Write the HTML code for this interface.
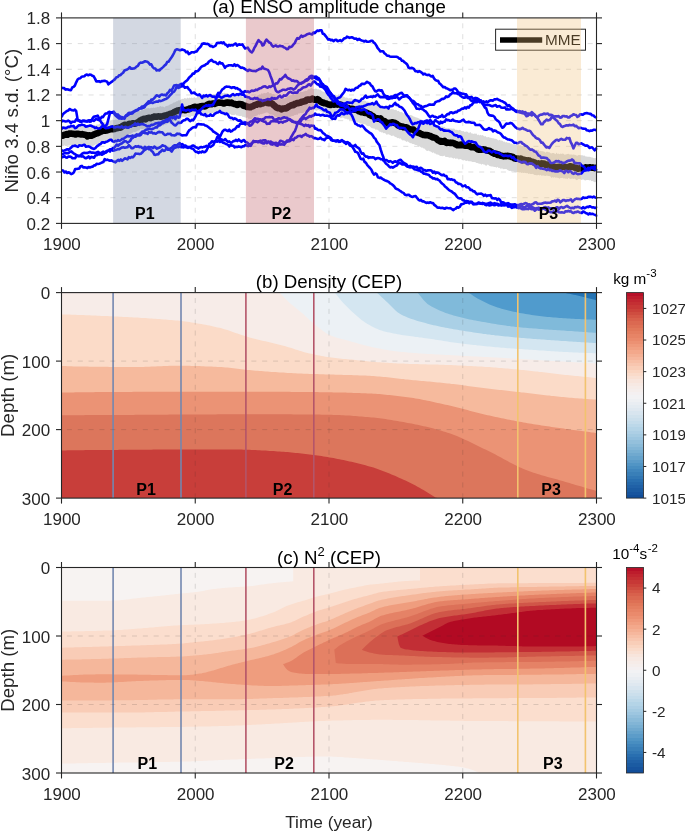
<!DOCTYPE html><html><head><meta charset="utf-8"><style>html,body{margin:0;padding:0;background:#fff;overflow:hidden}svg{display:block}</style></head><body><svg width="685" height="832" viewBox="0 0 685 832" style="will-change:transform">
<rect width="685" height="832" fill="#fff"/>
<!--PANEL_A-->
<g stroke="rgba(38,38,38,0.15)" stroke-width="1" stroke-dasharray="5 5.85" stroke-dashoffset="5.45" fill="none"><line x1="195.25" y1="17.90" x2="195.25" y2="223.40" /><line x1="329.00" y1="17.90" x2="329.00" y2="223.40" /><line x1="462.75" y1="17.90" x2="462.75" y2="223.40" /><line x1="61.50" y1="197.71" x2="596.50" y2="197.71" /><line x1="61.50" y1="172.03" x2="596.50" y2="172.03" /><line x1="61.50" y1="146.34" x2="596.50" y2="146.34" /><line x1="61.50" y1="120.65" x2="596.50" y2="120.65" /><line x1="61.50" y1="94.96" x2="596.50" y2="94.96" /><line x1="61.50" y1="69.28" x2="596.50" y2="69.28" /><line x1="61.50" y1="43.59" x2="596.50" y2="43.59" /></g>
<defs><clipPath id="clipa"><rect x="61.5" y="17.9" width="536.0" height="205.5"/></clipPath></defs><g clip-path="url(#clipa)"><path d="M61.5,127.7 L62.5,127.7 L63.5,127.4 L64.5,127.0 L65.5,127.1 L66.5,126.8 L67.5,127.1 L68.5,127.5 L69.5,126.7 L70.5,126.5 L71.5,126.9 L72.5,126.7 L73.5,126.6 L74.5,126.2 L75.5,126.6 L76.5,126.9 L77.5,126.1 L78.5,126.5 L79.5,125.9 L80.5,126.2 L81.5,126.0 L82.5,126.7 L83.5,126.3 L84.5,126.9 L85.5,126.9 L86.5,126.8 L87.5,125.9 L88.5,126.6 L89.5,126.6 L90.5,126.4 L91.5,125.5 L92.5,125.7 L93.5,125.3 L94.5,125.1 L95.5,125.6 L96.5,124.6 L97.5,124.5 L98.5,124.6 L99.5,123.7 L100.5,123.5 L101.5,123.3 L102.5,122.9 L103.5,122.1 L104.5,122.3 L105.5,122.5 L106.5,121.0 L107.5,121.6 L108.5,121.0 L109.5,120.4 L110.5,121.1 L111.5,120.5 L112.5,119.6 L113.5,120.0 L114.5,120.0 L115.5,119.6 L116.5,119.8 L117.5,119.4 L118.5,119.5 L119.5,119.5 L120.5,118.3 L121.5,118.3 L122.5,117.7 L123.5,117.7 L124.5,116.8 L125.5,116.8 L126.5,116.5 L127.5,116.5 L128.5,116.2 L129.5,114.8 L130.5,114.5 L131.5,114.7 L132.5,113.2 L133.5,113.4 L134.5,113.1 L135.5,113.2 L136.5,112.6 L137.5,111.8 L138.5,111.3 L139.5,110.9 L140.5,111.2 L141.5,110.1 L142.5,109.8 L143.5,109.8 L144.5,109.2 L145.5,108.9 L146.5,108.2 L147.5,108.3 L148.5,107.9 L149.5,108.4 L150.5,108.1 L151.5,107.8 L152.5,107.9 L153.5,107.4 L154.5,107.9 L155.5,107.4 L156.5,107.5 L157.5,106.7 L158.5,107.2 L159.5,106.4 L160.5,106.1 L161.5,106.8 L162.5,106.4 L163.5,106.8 L164.5,107.5 L165.5,106.2 L166.5,105.9 L167.5,105.8 L168.5,105.4 L169.5,104.7 L170.5,104.2 L171.5,104.1 L172.5,103.6 L173.5,102.5 L174.5,102.5 L175.5,102.0 L176.5,101.2 L177.5,101.2 L178.5,100.3 L179.5,100.5 L180.5,99.7 L181.5,99.2 L182.5,98.8 L183.5,98.9 L184.5,98.0 L185.5,98.2 L186.5,98.7 L187.5,97.6 L188.5,98.6 L189.5,97.5 L190.5,98.3 L191.5,97.6 L192.5,98.1 L193.5,97.7 L194.5,96.9 L195.5,97.9 L196.5,97.8 L197.5,97.1 L198.5,96.8 L199.5,96.7 L200.5,96.2 L201.5,96.8 L202.5,96.0 L203.5,96.0 L204.5,95.5 L205.5,95.4 L206.5,95.0 L207.5,95.8 L208.5,95.1 L209.5,95.4 L210.5,94.8 L211.5,94.4 L212.5,94.4 L213.5,94.1 L214.5,94.2 L215.5,93.9 L216.5,93.7 L217.5,93.1 L218.5,93.1 L219.5,93.9 L220.5,92.8 L221.5,92.5 L222.5,93.1 L223.5,93.6 L224.5,92.6 L225.5,93.3 L226.5,93.3 L227.5,93.0 L228.5,94.1 L229.5,93.9 L230.5,94.1 L231.5,93.9 L232.5,94.6 L233.5,94.4 L234.5,94.7 L235.5,94.5 L236.5,94.7 L237.5,95.9 L238.5,95.3 L239.5,95.8 L240.5,95.9 L241.5,96.1 L242.5,96.4 L243.5,97.1 L244.5,97.1 L245.5,97.5 L246.5,97.8 L247.5,98.5 L248.5,98.5 L249.5,98.6 L250.5,98.1 L251.5,97.3 L252.5,97.8 L253.5,97.4 L254.5,96.5 L255.5,96.3 L256.5,95.9 L257.5,95.5 L258.5,95.1 L259.5,94.2 L260.5,94.7 L261.5,93.2 L262.5,93.8 L263.5,93.3 L264.5,93.1 L265.5,93.2 L266.5,92.9 L267.5,92.1 L268.5,92.1 L269.5,93.4 L270.5,92.9 L271.5,93.5 L272.5,94.3 L273.5,94.0 L274.5,94.5 L275.5,96.2 L276.5,96.8 L277.5,97.4 L278.5,98.2 L279.5,98.5 L280.5,99.0 L281.5,99.6 L282.5,98.8 L283.5,98.1 L284.5,98.5 L285.5,97.8 L286.5,97.5 L287.5,96.5 L288.5,96.2 L289.5,95.6 L290.5,95.2 L291.5,95.3 L292.5,94.6 L293.5,94.7 L294.5,94.4 L295.5,94.8 L296.5,93.1 L297.5,93.7 L298.5,92.9 L299.5,92.7 L300.5,91.8 L301.5,91.9 L302.5,92.1 L303.5,91.4 L304.5,91.2 L305.5,90.8 L306.5,91.0 L307.5,90.3 L308.5,89.1 L309.5,89.4 L310.5,88.6 L311.5,87.8 L312.5,88.6 L313.5,89.3 L314.5,88.9 L315.5,88.5 L316.5,88.7 L317.5,89.6 L318.5,89.3 L319.5,89.7 L320.5,90.1 L321.5,90.7 L322.5,91.4 L323.5,91.8 L324.5,92.2 L325.5,92.2 L326.5,93.3 L327.5,93.3 L328.5,94.2 L329.5,93.4 L330.5,94.0 L331.5,94.2 L332.5,93.8 L333.5,95.2 L334.5,95.3 L335.5,94.6 L336.5,95.4 L337.5,95.4 L338.5,94.5 L339.5,95.9 L340.5,96.0 L341.5,96.3 L342.5,96.1 L343.5,96.6 L344.5,96.9 L345.5,97.7 L346.5,97.6 L347.5,97.7 L348.5,98.5 L349.5,97.9 L350.5,98.2 L351.5,97.8 L352.5,99.3 L353.5,99.2 L354.5,99.4 L355.5,99.5 L356.5,99.4 L357.5,99.7 L358.5,99.6 L359.5,99.8 L360.5,100.1 L361.5,100.9 L362.5,100.7 L363.5,100.6 L364.5,100.6 L365.5,100.8 L366.5,101.8 L367.5,101.6 L368.5,101.7 L369.5,101.9 L370.5,101.8 L371.5,102.5 L372.5,103.2 L373.5,102.9 L374.5,103.3 L375.5,103.6 L376.5,104.1 L377.5,103.8 L378.5,104.7 L379.5,104.9 L380.5,105.9 L381.5,105.7 L382.5,106.6 L383.5,107.3 L384.5,106.8 L385.5,107.0 L386.5,107.6 L387.5,107.8 L388.5,107.7 L389.5,108.6 L390.5,109.5 L391.5,108.9 L392.5,109.2 L393.5,109.2 L394.5,110.0 L395.5,109.7 L396.5,110.0 L397.5,111.3 L398.5,110.7 L399.5,111.8 L400.5,112.3 L401.5,112.1 L402.5,112.6 L403.5,113.5 L404.5,113.1 L405.5,113.3 L406.5,113.3 L407.5,114.2 L408.5,115.2 L409.5,115.3 L410.5,114.9 L411.5,115.3 L412.5,115.8 L413.5,116.5 L414.5,116.7 L415.5,117.2 L416.5,117.6 L417.5,117.7 L418.5,118.2 L419.5,118.7 L420.5,118.9 L421.5,119.5 L422.5,120.4 L423.5,120.3 L424.5,120.5 L425.5,120.2 L426.5,121.4 L427.5,120.8 L428.5,121.4 L429.5,122.7 L430.5,123.0 L431.5,123.0 L432.5,122.8 L433.5,123.7 L434.5,124.0 L435.5,124.9 L436.5,125.9 L437.5,125.4 L438.5,125.4 L439.5,125.6 L440.5,126.4 L441.5,126.5 L442.5,126.4 L443.5,127.1 L444.5,126.8 L445.5,127.9 L446.5,128.1 L447.5,128.3 L448.5,127.9 L449.5,128.5 L450.5,128.5 L451.5,128.6 L452.5,128.8 L453.5,128.6 L454.5,128.8 L455.5,129.9 L456.5,129.7 L457.5,130.1 L458.5,130.6 L459.5,129.7 L460.5,130.3 L461.5,130.9 L462.5,131.2 L463.5,131.1 L464.5,131.9 L465.5,131.8 L466.5,131.5 L467.5,131.8 L468.5,132.7 L469.5,132.8 L470.5,132.0 L471.5,133.6 L472.5,133.5 L473.5,134.0 L474.5,133.5 L475.5,133.8 L476.5,133.6 L477.5,135.3 L478.5,134.5 L479.5,135.5 L480.5,134.8 L481.5,135.4 L482.5,135.0 L483.5,135.8 L484.5,136.6 L485.5,136.0 L486.5,137.2 L487.5,137.2 L488.5,136.9 L489.5,137.4 L490.5,137.7 L491.5,138.1 L492.5,138.2 L493.5,138.3 L494.5,138.8 L495.5,138.8 L496.5,139.0 L497.5,139.8 L498.5,140.4 L499.5,139.7 L500.5,140.6 L501.5,140.6 L502.5,140.8 L503.5,141.8 L504.5,141.5 L505.5,142.6 L506.5,142.0 L507.5,142.7 L508.5,142.8 L509.5,142.8 L510.5,143.7 L511.5,143.6 L512.5,144.2 L513.5,144.2 L514.5,144.1 L515.5,144.7 L516.5,145.0 L517.5,145.6 L518.5,145.0 L519.5,145.6 L520.5,145.1 L521.5,146.2 L522.5,145.7 L523.5,145.6 L524.5,146.5 L525.5,147.1 L526.5,146.2 L527.5,146.6 L528.5,146.9 L529.5,146.9 L530.5,147.8 L531.5,147.8 L532.5,148.3 L533.5,149.2 L534.5,149.1 L535.5,150.0 L536.5,149.8 L537.5,149.9 L538.5,149.8 L539.5,151.5 L540.5,150.8 L541.5,151.3 L542.5,151.3 L543.5,151.6 L544.5,151.8 L545.5,152.7 L546.5,151.7 L547.5,151.7 L548.5,152.2 L549.5,152.2 L550.5,153.3 L551.5,153.5 L552.5,153.0 L553.5,152.9 L554.5,153.4 L555.5,154.2 L556.5,152.5 L557.5,154.0 L558.5,153.4 L559.5,154.3 L560.5,153.5 L561.5,153.9 L562.5,153.5 L563.5,153.8 L564.5,154.8 L565.5,154.6 L566.5,154.2 L567.5,154.1 L568.5,153.7 L569.5,154.4 L570.5,154.6 L571.5,154.6 L572.5,154.7 L573.5,154.4 L574.5,154.8 L575.5,154.9 L576.5,155.5 L577.5,155.8 L578.5,155.1 L579.5,154.9 L580.5,155.2 L581.5,155.2 L582.5,155.3 L583.5,155.8 L584.5,155.6 L585.5,156.5 L586.5,156.4 L587.5,156.8 L588.5,156.8 L589.5,156.8 L590.5,157.0 L591.5,157.5 L592.5,157.6 L593.5,158.1 L594.5,158.3 L595.5,157.9 L596.5,158.7 L596.5,181.2 L595.5,182.0 L594.5,182.2 L593.5,181.5 L592.5,180.9 L591.5,181.3 L590.5,179.9 L589.5,180.4 L588.5,179.9 L587.5,179.9 L586.5,180.1 L585.5,180.4 L584.5,180.3 L583.5,179.5 L582.5,179.4 L581.5,180.0 L580.5,179.3 L579.5,179.0 L578.5,178.9 L577.5,179.7 L576.5,180.2 L575.5,179.2 L574.5,178.5 L573.5,178.9 L572.5,178.6 L571.5,178.7 L570.5,179.1 L569.5,178.6 L568.5,177.8 L567.5,179.2 L566.5,178.4 L565.5,178.7 L564.5,178.2 L563.5,178.5 L562.5,177.8 L561.5,178.1 L560.5,178.1 L559.5,178.7 L558.5,178.1 L557.5,177.8 L556.5,177.6 L555.5,177.8 L554.5,177.0 L553.5,177.8 L552.5,177.0 L551.5,177.9 L550.5,176.6 L549.5,176.0 L548.5,176.1 L547.5,175.7 L546.5,175.6 L545.5,176.1 L544.5,175.8 L543.5,175.5 L542.5,175.5 L541.5,175.8 L540.5,174.7 L539.5,175.4 L538.5,174.7 L537.5,175.2 L536.5,175.3 L535.5,175.0 L534.5,174.9 L533.5,174.2 L532.5,173.8 L531.5,174.1 L530.5,174.1 L529.5,173.4 L528.5,174.0 L527.5,172.9 L526.5,173.2 L525.5,173.1 L524.5,172.6 L523.5,173.0 L522.5,172.6 L521.5,173.1 L520.5,172.3 L519.5,172.5 L518.5,172.3 L517.5,172.1 L516.5,171.9 L515.5,172.3 L514.5,171.9 L513.5,171.4 L512.5,171.2 L511.5,171.4 L510.5,170.7 L509.5,170.9 L508.5,170.4 L507.5,170.0 L506.5,169.1 L505.5,169.1 L504.5,168.9 L503.5,169.2 L502.5,168.4 L501.5,168.5 L500.5,168.7 L499.5,167.7 L498.5,168.1 L497.5,166.7 L496.5,167.8 L495.5,167.1 L494.5,167.1 L493.5,166.8 L492.5,166.4 L491.5,166.5 L490.5,166.2 L489.5,166.0 L488.5,165.1 L487.5,164.4 L486.5,165.7 L485.5,165.5 L484.5,164.4 L483.5,164.6 L482.5,163.7 L481.5,164.7 L480.5,163.8 L479.5,163.8 L478.5,163.5 L477.5,163.0 L476.5,163.1 L475.5,162.3 L474.5,162.0 L473.5,162.1 L472.5,161.9 L471.5,161.5 L470.5,161.3 L469.5,161.3 L468.5,161.2 L467.5,160.6 L466.5,161.0 L465.5,160.7 L464.5,160.1 L463.5,160.6 L462.5,160.3 L461.5,159.6 L460.5,159.0 L459.5,159.3 L458.5,159.6 L457.5,158.5 L456.5,158.5 L455.5,159.0 L454.5,157.8 L453.5,158.7 L452.5,157.9 L451.5,157.5 L450.5,157.4 L449.5,157.8 L448.5,157.3 L447.5,157.1 L446.5,157.1 L445.5,157.0 L444.5,155.6 L443.5,156.1 L442.5,156.3 L441.5,155.9 L440.5,156.0 L439.5,155.5 L438.5,154.7 L437.5,154.6 L436.5,154.6 L435.5,153.6 L434.5,153.6 L433.5,152.2 L432.5,153.0 L431.5,151.9 L430.5,151.5 L429.5,151.3 L428.5,150.5 L427.5,151.0 L426.5,150.7 L425.5,149.7 L424.5,148.4 L423.5,148.5 L422.5,147.6 L421.5,147.8 L420.5,147.0 L419.5,146.3 L418.5,146.6 L417.5,145.8 L416.5,145.0 L415.5,145.0 L414.5,144.6 L413.5,144.1 L412.5,143.9 L411.5,143.2 L410.5,143.2 L409.5,142.7 L408.5,142.0 L407.5,141.3 L406.5,141.9 L405.5,140.9 L404.5,140.5 L403.5,140.3 L402.5,140.4 L401.5,139.5 L400.5,138.3 L399.5,138.7 L398.5,138.1 L397.5,138.2 L396.5,137.3 L395.5,136.9 L394.5,136.5 L393.5,135.6 L392.5,135.7 L391.5,136.0 L390.5,135.3 L389.5,134.8 L388.5,134.3 L387.5,134.5 L386.5,134.8 L385.5,133.4 L384.5,132.9 L383.5,133.2 L382.5,132.2 L381.5,132.5 L380.5,131.7 L379.5,131.7 L378.5,130.4 L377.5,129.8 L376.5,129.6 L375.5,129.7 L374.5,128.6 L373.5,128.5 L372.5,128.3 L371.5,128.0 L370.5,127.1 L369.5,126.1 L368.5,126.3 L367.5,126.0 L366.5,125.4 L365.5,124.6 L364.5,124.0 L363.5,124.3 L362.5,123.8 L361.5,123.4 L360.5,123.5 L359.5,123.0 L358.5,122.3 L357.5,122.8 L356.5,121.8 L355.5,121.6 L354.5,121.0 L353.5,122.1 L352.5,121.2 L351.5,120.4 L350.5,119.8 L349.5,120.1 L348.5,119.3 L347.5,119.4 L346.5,118.8 L345.5,118.8 L344.5,118.5 L343.5,117.7 L342.5,117.6 L341.5,117.9 L340.5,118.2 L339.5,116.8 L338.5,117.2 L337.5,116.7 L336.5,116.5 L335.5,115.7 L334.5,116.3 L333.5,116.1 L332.5,116.0 L331.5,116.2 L330.5,115.5 L329.5,115.6 L328.5,115.2 L327.5,115.1 L326.5,114.4 L325.5,114.2 L324.5,112.7 L323.5,112.7 L322.5,112.6 L321.5,111.4 L320.5,111.1 L319.5,110.6 L318.5,109.9 L317.5,110.3 L316.5,110.9 L315.5,110.3 L314.5,110.2 L313.5,109.7 L312.5,109.4 L311.5,110.1 L310.5,109.7 L309.5,110.5 L308.5,111.3 L307.5,111.1 L306.5,111.6 L305.5,112.3 L304.5,111.6 L303.5,113.1 L302.5,113.0 L301.5,113.3 L300.5,113.1 L299.5,113.4 L298.5,113.2 L297.5,114.9 L296.5,114.4 L295.5,114.9 L294.5,114.9 L293.5,116.1 L292.5,115.9 L291.5,116.2 L290.5,116.8 L289.5,116.7 L288.5,116.8 L287.5,118.0 L286.5,118.4 L285.5,118.5 L284.5,119.0 L283.5,120.4 L282.5,119.8 L281.5,120.0 L280.5,120.2 L279.5,119.4 L278.5,118.9 L277.5,118.0 L276.5,117.4 L275.5,116.7 L274.5,116.6 L273.5,115.0 L272.5,114.8 L271.5,114.6 L270.5,114.6 L269.5,114.3 L268.5,113.3 L267.5,112.4 L266.5,112.6 L265.5,112.7 L264.5,113.2 L263.5,113.4 L262.5,113.8 L261.5,114.3 L260.5,113.9 L259.5,115.0 L258.5,114.3 L257.5,115.6 L256.5,115.8 L255.5,115.9 L254.5,116.5 L253.5,116.6 L252.5,117.8 L251.5,119.0 L250.5,119.1 L249.5,118.8 L248.5,119.0 L247.5,117.3 L246.5,117.9 L245.5,117.5 L244.5,117.3 L243.5,116.8 L242.5,116.9 L241.5,115.7 L240.5,116.0 L239.5,116.1 L238.5,115.8 L237.5,115.4 L236.5,115.5 L235.5,114.2 L234.5,115.1 L233.5,114.9 L232.5,115.1 L231.5,115.0 L230.5,113.9 L229.5,114.1 L228.5,113.8 L227.5,113.9 L226.5,113.0 L225.5,112.9 L224.5,113.5 L223.5,112.8 L222.5,112.2 L221.5,112.6 L220.5,113.3 L219.5,112.2 L218.5,112.1 L217.5,112.0 L216.5,113.0 L215.5,112.7 L214.5,112.8 L213.5,112.7 L212.5,113.1 L211.5,113.7 L210.5,112.9 L209.5,113.2 L208.5,113.2 L207.5,113.9 L206.5,113.7 L205.5,114.3 L204.5,114.3 L203.5,114.3 L202.5,114.2 L201.5,114.9 L200.5,114.3 L199.5,114.3 L198.5,114.8 L197.5,115.5 L196.5,115.5 L195.5,115.2 L194.5,115.7 L193.5,116.4 L192.5,116.0 L191.5,116.1 L190.5,117.0 L189.5,117.2 L188.5,116.9 L187.5,116.3 L186.5,116.4 L185.5,117.1 L184.5,116.7 L183.5,117.0 L182.5,116.7 L181.5,117.3 L180.5,117.9 L179.5,117.8 L178.5,118.8 L177.5,118.8 L176.5,119.3 L175.5,120.6 L174.5,120.5 L173.5,121.5 L172.5,121.4 L171.5,122.3 L170.5,122.7 L169.5,123.4 L168.5,122.9 L167.5,123.7 L166.5,124.6 L165.5,124.5 L164.5,124.4 L163.5,125.5 L162.5,125.5 L161.5,125.2 L160.5,125.3 L159.5,125.1 L158.5,126.2 L157.5,125.7 L156.5,126.4 L155.5,126.0 L154.5,126.1 L153.5,126.1 L152.5,127.1 L151.5,126.8 L150.5,126.5 L149.5,126.5 L148.5,127.1 L147.5,127.2 L146.5,127.5 L145.5,128.2 L144.5,128.8 L143.5,128.8 L142.5,129.1 L141.5,129.1 L140.5,128.5 L139.5,130.3 L138.5,130.4 L137.5,130.7 L136.5,131.5 L135.5,132.1 L134.5,132.1 L133.5,131.8 L132.5,132.8 L131.5,133.3 L130.5,133.9 L129.5,133.8 L128.5,135.1 L127.5,135.4 L126.5,136.1 L125.5,135.6 L124.5,136.2 L123.5,137.1 L122.5,137.2 L121.5,137.8 L120.5,138.4 L119.5,138.5 L118.5,138.9 L117.5,138.9 L116.5,138.7 L115.5,139.6 L114.5,139.4 L113.5,139.7 L112.5,139.8 L111.5,139.6 L110.5,139.5 L109.5,140.2 L108.5,140.6 L107.5,141.7 L106.5,142.1 L105.5,141.8 L104.5,141.9 L103.5,142.9 L102.5,142.5 L101.5,142.6 L100.5,142.8 L99.5,143.9 L98.5,143.1 L97.5,144.3 L96.5,145.0 L95.5,144.3 L94.5,145.2 L93.5,145.7 L92.5,146.0 L91.5,145.9 L90.5,145.3 L89.5,146.2 L88.5,146.5 L87.5,146.6 L86.5,146.2 L85.5,146.0 L84.5,146.3 L83.5,146.2 L82.5,146.1 L81.5,146.1 L80.5,145.2 L79.5,146.1 L78.5,145.6 L77.5,145.6 L76.5,145.7 L75.5,145.7 L74.5,145.0 L73.5,145.5 L72.5,145.2 L71.5,145.4 L70.5,145.2 L69.5,145.5 L68.5,145.6 L67.5,145.7 L66.5,145.9 L65.5,146.0 L64.5,145.2 L63.5,145.9 L62.5,145.9 L61.5,145.7 Z" fill="rgb(217,217,217)"/><path d="M61.5,135.5 L62.5,135.8 L63.5,135.3 L64.5,134.8 L65.5,134.7 L66.5,134.1 L67.5,134.7 L68.5,133.8 L69.5,133.5 L70.5,133.5 L71.5,133.6 L72.5,133.7 L73.5,133.9 L74.5,134.0 L75.5,134.5 L76.5,133.8 L77.5,134.0 L78.5,133.9 L79.5,134.1 L80.5,134.4 L81.5,134.2 L82.5,134.1 L83.5,134.6 L84.5,134.8 L85.5,134.7 L86.5,135.5 L87.5,136.3 L88.5,135.4 L89.5,135.2 L90.5,135.8 L91.5,135.7 L92.5,135.3 L93.5,134.8 L94.5,134.2 L95.5,133.9 L96.5,133.3 L97.5,133.3 L98.5,132.8 L99.5,132.3 L100.5,131.6 L101.5,131.4 L102.5,130.8 L103.5,130.6 L104.5,130.8 L105.5,130.6 L106.5,130.5 L107.5,130.3 L108.5,129.9 L109.5,129.6 L110.5,129.1 L111.5,129.3 L112.5,128.7 L113.5,129.1 L114.5,129.0 L115.5,128.5 L116.5,128.3 L117.5,128.0 L118.5,127.9 L119.5,127.4 L120.5,127.6 L121.5,127.0 L122.5,126.0 L123.5,125.7 L124.5,124.9 L125.5,124.9 L126.5,125.1 L127.5,125.1 L128.5,124.2 L129.5,123.7 L130.5,124.1 L131.5,123.8 L132.5,123.4 L133.5,123.3 L134.5,123.7 L135.5,123.5 L136.5,122.9 L137.5,122.4 L138.5,122.0 L139.5,121.2 L140.5,120.3 L141.5,120.0 L142.5,119.3 L143.5,119.0 L144.5,118.8 L145.5,119.3 L146.5,118.5 L147.5,118.1 L148.5,117.8 L149.5,117.9 L150.5,118.2 L151.5,117.8 L152.5,117.4 L153.5,116.8 L154.5,116.5 L155.5,116.8 L156.5,116.8 L157.5,116.5 L158.5,116.4 L159.5,116.5 L160.5,116.7 L161.5,116.5 L162.5,116.5 L163.5,115.9 L164.5,115.6 L165.5,116.3 L166.5,115.3 L167.5,114.9 L168.5,114.8 L169.5,114.3 L170.5,113.7 L171.5,113.5 L172.5,113.2 L173.5,112.8 L174.5,111.8 L175.5,111.5 L176.5,111.0 L177.5,110.6 L178.5,110.4 L179.5,110.3 L180.5,110.1 L181.5,109.5 L182.5,109.7 L183.5,109.9 L184.5,110.1 L185.5,110.2 L186.5,109.8 L187.5,109.4 L188.5,109.4 L189.5,108.6 L190.5,108.5 L191.5,108.1 L192.5,107.8 L193.5,107.1 L194.5,106.8 L195.5,106.8 L196.5,107.1 L197.5,107.3 L198.5,107.1 L199.5,106.8 L200.5,106.3 L201.5,106.3 L202.5,106.0 L203.5,106.1 L204.5,106.5 L205.5,106.1 L206.5,105.3 L207.5,104.8 L208.5,104.2 L209.5,103.7 L210.5,104.2 L211.5,104.2 L212.5,103.5 L213.5,103.6 L214.5,103.9 L215.5,103.5 L216.5,103.0 L217.5,102.7 L218.5,102.6 L219.5,102.6 L220.5,102.7 L221.5,102.8 L222.5,103.0 L223.5,103.4 L224.5,103.4 L225.5,102.7 L226.5,102.6 L227.5,102.8 L228.5,102.6 L229.5,103.0 L230.5,102.9 L231.5,102.6 L232.5,103.4 L233.5,103.7 L234.5,103.9 L235.5,104.3 L236.5,104.7 L237.5,104.9 L238.5,104.0 L239.5,104.0 L240.5,104.2 L241.5,104.3 L242.5,104.8 L243.5,105.7 L244.5,105.9 L245.5,105.8 L246.5,106.9 L247.5,107.0 L248.5,106.8 L249.5,107.2 L250.5,107.3 L251.5,106.6 L252.5,106.5 L253.5,105.9 L254.5,105.1 L255.5,104.8 L256.5,104.7 L257.5,104.0 L258.5,103.8 L259.5,103.5 L260.5,104.2 L261.5,103.4 L262.5,103.5 L263.5,103.0 L264.5,102.5 L265.5,102.3 L266.5,102.5 L267.5,103.0 L268.5,103.1 L269.5,103.0 L270.5,102.9 L271.5,103.3 L272.5,103.9 L273.5,105.0 L274.5,105.7 L275.5,106.6 L276.5,107.6 L277.5,108.1 L278.5,108.1 L279.5,108.3 L280.5,108.6 L281.5,109.4 L282.5,108.6 L283.5,108.6 L284.5,108.4 L285.5,108.4 L286.5,108.2 L287.5,107.5 L288.5,106.8 L289.5,106.2 L290.5,105.8 L291.5,105.2 L292.5,104.9 L293.5,105.1 L294.5,104.1 L295.5,103.9 L296.5,103.3 L297.5,103.1 L298.5,103.1 L299.5,102.8 L300.5,102.7 L301.5,101.8 L302.5,102.0 L303.5,101.4 L304.5,101.4 L305.5,101.1 L306.5,99.9 L307.5,99.5 L308.5,99.5 L309.5,99.8 L310.5,99.7 L311.5,99.4 L312.5,98.6 L313.5,99.1 L314.5,99.8 L315.5,99.8 L316.5,99.7 L317.5,99.1 L318.5,99.6 L319.5,100.9 L320.5,101.5 L321.5,102.2 L322.5,102.6 L323.5,102.5 L324.5,103.3 L325.5,103.2 L326.5,103.6 L327.5,104.1 L328.5,104.6 L329.5,104.8 L330.5,105.0 L331.5,104.7 L332.5,104.4 L333.5,104.6 L334.5,104.6 L335.5,104.4 L336.5,104.3 L337.5,104.6 L338.5,104.4 L339.5,104.5 L340.5,104.5 L341.5,105.2 L342.5,105.9 L343.5,107.1 L344.5,106.8 L345.5,106.9 L346.5,107.6 L347.5,107.9 L348.5,108.1 L349.5,109.0 L350.5,109.0 L351.5,108.9 L352.5,108.8 L353.5,109.3 L354.5,109.8 L355.5,109.7 L356.5,109.8 L357.5,110.4 L358.5,111.1 L359.5,111.2 L360.5,111.8 L361.5,112.3 L362.5,111.9 L363.5,112.2 L364.5,112.8 L365.5,113.0 L366.5,112.6 L367.5,113.1 L368.5,113.9 L369.5,115.0 L370.5,114.6 L371.5,116.0 L372.5,115.9 L373.5,116.7 L374.5,117.5 L375.5,118.1 L376.5,118.4 L377.5,118.2 L378.5,118.8 L379.5,118.9 L380.5,118.4 L381.5,119.9 L382.5,120.5 L383.5,121.3 L384.5,121.1 L385.5,121.9 L386.5,122.6 L387.5,123.1 L388.5,123.1 L389.5,122.8 L390.5,122.9 L391.5,122.4 L392.5,122.2 L393.5,122.7 L394.5,122.8 L395.5,123.3 L396.5,123.7 L397.5,124.8 L398.5,125.6 L399.5,125.8 L400.5,126.5 L401.5,126.4 L402.5,126.6 L403.5,127.3 L404.5,127.1 L405.5,127.4 L406.5,127.3 L407.5,127.9 L408.5,128.9 L409.5,129.0 L410.5,129.5 L411.5,129.5 L412.5,129.5 L413.5,129.6 L414.5,130.7 L415.5,131.9 L416.5,132.4 L417.5,132.3 L418.5,132.9 L419.5,133.1 L420.5,133.7 L421.5,134.1 L422.5,134.5 L423.5,135.0 L424.5,135.0 L425.5,135.2 L426.5,135.0 L427.5,135.3 L428.5,135.4 L429.5,135.9 L430.5,136.1 L431.5,136.7 L432.5,137.4 L433.5,137.4 L434.5,137.7 L435.5,137.9 L436.5,138.8 L437.5,139.9 L438.5,140.6 L439.5,140.8 L440.5,141.6 L441.5,141.1 L442.5,141.8 L443.5,141.7 L444.5,140.9 L445.5,142.2 L446.5,142.9 L447.5,142.5 L448.5,142.8 L449.5,142.8 L450.5,143.0 L451.5,142.7 L452.5,142.7 L453.5,143.2 L454.5,143.5 L455.5,144.2 L456.5,144.3 L457.5,145.3 L458.5,145.1 L459.5,145.2 L460.5,144.7 L461.5,144.5 L462.5,145.3 L463.5,145.1 L464.5,145.6 L465.5,145.8 L466.5,145.7 L467.5,145.8 L468.5,145.9 L469.5,146.1 L470.5,146.7 L471.5,147.2 L472.5,147.2 L473.5,147.1 L474.5,147.5 L475.5,147.7 L476.5,148.3 L477.5,149.4 L478.5,149.7 L479.5,149.7 L480.5,149.8 L481.5,149.6 L482.5,149.5 L483.5,149.4 L484.5,149.6 L485.5,149.8 L486.5,150.4 L487.5,150.5 L488.5,150.8 L489.5,150.7 L490.5,151.6 L491.5,152.0 L492.5,152.9 L493.5,153.2 L494.5,153.8 L495.5,153.7 L496.5,154.0 L497.5,155.0 L498.5,154.5 L499.5,155.0 L500.5,155.6 L501.5,155.7 L502.5,155.9 L503.5,156.4 L504.5,156.1 L505.5,156.3 L506.5,156.0 L507.5,155.9 L508.5,156.0 L509.5,156.2 L510.5,156.5 L511.5,156.9 L512.5,156.7 L513.5,157.7 L514.5,158.3 L515.5,158.6 L516.5,158.5 L517.5,158.5 L518.5,158.8 L519.5,159.1 L520.5,158.5 L521.5,159.0 L522.5,160.2 L523.5,159.5 L524.5,160.0 L525.5,160.2 L526.5,160.2 L527.5,160.8 L528.5,160.4 L529.5,160.6 L530.5,161.3 L531.5,161.6 L532.5,161.7 L533.5,162.2 L534.5,162.4 L535.5,163.4 L536.5,163.3 L537.5,163.8 L538.5,163.4 L539.5,163.9 L540.5,164.0 L541.5,163.3 L542.5,163.6 L543.5,163.6 L544.5,163.8 L545.5,164.8 L546.5,164.6 L547.5,164.5 L548.5,165.4 L549.5,165.6 L550.5,166.4 L551.5,166.6 L552.5,166.4 L553.5,166.4 L554.5,166.9 L555.5,167.2 L556.5,167.1 L557.5,167.0 L558.5,166.9 L559.5,166.7 L560.5,167.4 L561.5,167.3 L562.5,166.9 L563.5,166.7 L564.5,167.1 L565.5,167.3 L566.5,167.2 L567.5,167.0 L568.5,167.1 L569.5,166.5 L570.5,166.2 L571.5,166.8 L572.5,166.7 L573.5,167.0 L574.5,167.6 L575.5,167.8 L576.5,167.8 L577.5,168.6 L578.5,168.6 L579.5,168.3 L580.5,168.5 L581.5,168.5 L582.5,168.1 L583.5,168.1 L584.5,168.1 L585.5,167.4 L586.5,167.5 L587.5,167.6 L588.5,167.6 L589.5,167.2 L590.5,167.3 L591.5,167.6 L592.5,167.8 L593.5,167.6 L594.5,168.1 L595.5,167.8 L596.5,168.0" fill="none" stroke="#000" stroke-width="6.6" stroke-linejoin="round"/><path d="M61.5,87.8 L62.8,88.1 L64.2,88.1 L65.5,89.6 L66.9,89.3 L68.2,89.5 L69.5,90.0 L70.9,90.2 L72.2,87.5 L73.6,86.9 L74.9,85.5 L76.2,82.3 L77.6,79.5 L78.9,78.5 L80.3,78.3 L81.6,76.7 L82.9,76.5 L84.3,76.3 L85.6,75.0 L87.0,74.6 L88.3,75.3 L89.6,74.5 L91.0,74.7 L92.3,75.8 L93.7,76.3 L95.0,78.6 L96.3,81.4 L97.7,81.4 L99.0,81.2 L100.4,82.0 L101.7,81.1 L103.0,81.1 L104.4,80.8 L105.7,81.1 L107.1,81.7 L108.4,84.3 L109.7,83.3 L111.1,82.2 L112.4,81.4 L113.8,80.1 L115.1,79.1 L116.4,77.3 L117.8,77.0 L119.1,75.3 L120.5,75.1 L121.8,73.7 L123.1,72.8 L124.5,70.5 L125.8,70.0 L127.2,69.5 L128.5,68.7 L129.8,67.2 L131.2,68.8 L132.5,68.6 L133.9,68.5 L135.2,67.9 L136.5,66.6 L137.9,65.8 L139.2,63.5 L140.6,62.6 L141.9,62.7 L143.2,62.3 L144.6,61.4 L145.9,61.4 L147.3,61.7 L148.6,62.8 L149.9,64.6 L151.3,64.3 L152.6,66.9 L154.0,68.3 L155.3,68.6 L156.6,70.4 L158.0,70.1 L159.3,70.5 L160.7,69.0 L162.0,68.1 L163.3,66.9 L164.7,65.4 L166.0,64.4 L167.4,61.7 L168.7,61.6 L170.0,59.4 L171.4,57.5 L172.7,55.5 L174.1,52.8 L175.4,50.1 L176.7,49.2 L178.1,49.6 L179.4,50.1 L180.8,50.1 L182.1,49.5 L183.4,49.9 L184.8,50.5 L186.1,52.2 L187.5,51.6 L188.8,54.1 L190.1,53.4 L191.5,52.3 L192.8,52.2 L194.2,52.4 L195.5,51.6 L196.8,51.4 L198.2,49.2 L199.5,47.9 L200.9,46.4 L202.2,43.7 L203.5,43.4 L204.9,43.6 L206.2,44.0 L207.6,43.9 L208.9,44.7 L210.2,46.2 L211.6,45.9 L212.9,47.0 L214.3,46.4 L215.6,45.7 L216.9,43.0 L218.3,42.9 L219.6,43.0 L221.0,42.3 L222.3,43.3 L223.6,42.3 L225.0,44.4 L226.3,44.8 L227.7,46.5 L229.0,44.9 L230.3,45.6 L231.7,45.1 L233.0,45.4 L234.4,44.1 L235.7,43.5 L237.0,45.7 L238.4,44.6 L239.7,44.4 L241.1,44.7 L242.4,44.4 L243.7,46.5 L245.1,48.5 L246.4,48.1 L247.8,47.6 L249.1,49.9 L250.4,51.5 L251.8,52.4 L253.1,50.8 L254.5,47.6 L255.8,45.5 L257.1,42.6 L258.5,40.2 L259.8,41.7 L261.2,42.4 L262.5,45.5 L263.8,44.8 L265.2,41.4 L266.5,39.6 L267.9,41.1 L269.2,42.5 L270.5,42.9 L271.9,45.3 L273.2,46.7 L274.6,45.9 L275.9,45.4 L277.2,46.5 L278.6,46.5 L279.9,45.7 L281.3,46.2 L282.6,46.3 L283.9,47.4 L285.3,47.9 L286.6,49.2 L288.0,49.0 L289.3,46.9 L290.6,47.1 L292.0,46.4 L293.3,44.6 L294.7,43.2 L296.0,40.4 L297.3,38.2 L298.7,38.8 L300.0,37.3 L301.4,35.6 L302.7,36.8 L304.0,35.9 L305.4,35.6 L306.7,34.5 L308.1,33.9 L309.4,33.6 L310.7,33.9 L312.1,34.5 L313.4,32.5 L314.8,33.2 L316.1,31.7 L317.4,30.6 L318.8,31.0 L320.1,30.2 L321.5,30.3 L322.8,33.7 L324.1,34.1 L325.5,35.9 L326.8,37.5 L328.2,39.6 L329.5,39.2 L330.8,40.3 L332.2,39.8 L333.5,41.2 L334.9,40.1 L336.2,39.7 L337.5,41.2 L338.9,40.7 L340.2,40.1 L341.6,41.1 L342.9,39.9 L344.2,38.2 L345.6,38.3 L346.9,36.7 L348.3,37.3 L349.6,37.9 L350.9,37.4 L352.3,37.4 L353.6,38.2 L355.0,38.8 L356.3,38.6 L357.6,40.0 L359.0,38.9 L360.3,39.9 L361.7,40.5 L363.0,40.8 L364.3,41.5 L365.7,40.7 L367.0,41.8 L368.4,41.8 L369.7,41.5 L371.0,40.8 L372.4,40.7 L373.7,42.5 L375.1,43.6 L376.4,45.6 L377.7,48.2 L379.1,49.7 L380.4,51.4 L381.8,51.3 L383.1,51.2 L384.4,53.2 L385.8,54.2 L387.1,55.8 L388.5,55.7 L389.8,56.5 L391.1,56.7 L392.5,56.8 L393.8,56.8 L395.2,56.8 L396.5,56.8 L397.8,57.2 L399.2,58.6 L400.5,58.6 L401.9,60.8 L403.2,60.9 L404.5,62.3 L405.9,63.3 L407.2,64.5 L408.6,67.6 L409.9,68.2 L411.2,67.9 L412.6,68.1 L413.9,68.8 L415.3,71.2 L416.6,71.2 L417.9,71.9 L419.3,71.1 L420.6,71.9 L422.0,72.8 L423.3,74.5 L424.6,73.7 L426.0,74.6 L427.3,75.1 L428.7,74.7 L430.0,75.5 L431.3,76.5 L432.7,75.9 L434.0,78.3 L435.4,80.0 L436.7,80.6 L438.0,80.7 L439.4,83.4 L440.7,84.3 L442.1,85.8 L443.4,87.3 L444.7,87.0 L446.1,88.3 L447.4,88.6 L448.8,89.4 L450.1,90.2 L451.4,89.7 L452.8,89.7 L454.1,88.5 L455.5,88.5 L456.8,90.0 L458.1,92.2 L459.5,92.9 L460.8,93.1 L462.2,93.7 L463.5,93.8 L464.8,94.4 L466.2,94.4 L467.5,96.6 L468.9,97.3 L470.2,97.2 L471.5,96.9 L472.9,98.6 L474.2,98.3 L475.6,97.9 L476.9,98.3 L478.2,98.9 L479.6,100.4 L480.9,100.4 L482.3,102.4 L483.6,101.4 L484.9,102.5 L486.3,101.4 L487.6,102.4 L489.0,101.1 L490.3,100.3 L491.6,100.4 L493.0,100.6 L494.3,99.3 L495.7,99.4 L497.0,98.9 L498.3,99.8 L499.7,100.3 L501.0,100.9 L502.4,101.3 L503.7,102.2 L505.0,102.7 L506.4,104.4 L507.7,106.3 L509.1,105.1 L510.4,106.7 L511.7,107.8 L513.1,109.6 L514.4,110.0 L515.8,110.9 L517.1,110.7 L518.4,112.1 L519.8,112.4 L521.1,112.6 L522.5,113.2 L523.8,113.0 L525.1,112.0 L526.5,113.2 L527.8,113.6 L529.2,113.5 L530.5,114.5 L531.8,115.5 L533.2,114.5 L534.5,114.5 L535.9,116.4 L537.2,117.5 L538.5,116.1 L539.9,114.9 L541.2,114.6 L542.6,114.4 L543.9,113.5 L545.2,114.2 L546.6,113.7 L547.9,113.6 L549.3,115.2 L550.6,114.8 L551.9,115.1 L553.3,116.0 L554.6,116.6 L556.0,116.2 L557.3,116.4 L558.6,116.0 L560.0,117.7 L561.3,117.5 L562.7,116.0 L564.0,116.0 L565.3,116.5 L566.7,116.4 L568.0,117.4 L569.4,117.4 L570.7,115.9 L572.0,115.5 L573.4,114.3 L574.7,114.8 L576.1,115.0 L577.4,117.0 L578.7,116.2 L580.1,114.2 L581.4,114.4 L582.8,114.8 L584.1,113.7 L585.4,113.2 L586.8,113.1 L588.1,113.4 L589.5,113.9 L590.8,113.8 L592.1,115.3 L593.5,115.5 L594.8,116.8 L596.2,117.5 L596.5,118.0" fill="none" stroke="#0000ff" stroke-width="2.6" stroke-linejoin="round"/><path d="M61.5,117.1 L62.8,114.4 L64.2,113.0 L65.5,112.1 L66.9,111.0 L68.2,110.6 L69.5,109.0 L70.9,109.7 L72.2,110.3 L73.6,110.5 L74.9,109.5 L76.2,111.1 L77.6,119.4 L78.9,121.0 L80.3,120.9 L81.6,121.7 L82.9,120.9 L84.3,120.9 L85.6,121.1 L87.0,121.6 L88.3,120.4 L89.6,121.7 L91.0,121.4 L92.3,118.8 L93.7,116.8 L95.0,116.4 L96.3,116.2 L97.7,115.6 L99.0,118.2 L100.4,118.8 L101.7,116.9 L103.0,117.1 L104.4,114.9 L105.7,113.5 L107.1,113.4 L108.4,112.3 L109.7,111.8 L111.1,112.6 L112.4,112.7 L113.8,113.0 L115.1,115.0 L116.4,116.3 L117.8,117.5 L119.1,118.4 L120.5,118.4 L121.8,118.7 L123.1,117.5 L124.5,117.8 L125.8,115.6 L127.2,114.6 L128.5,113.0 L129.8,112.7 L131.2,112.9 L132.5,113.5 L133.9,111.9 L135.2,111.4 L136.5,110.5 L137.9,109.4 L139.2,108.2 L140.6,108.1 L141.9,106.5 L143.2,106.4 L144.6,105.7 L145.9,104.4 L147.3,103.0 L148.6,101.3 L149.9,102.2 L151.3,99.5 L152.6,99.7 L154.0,98.4 L155.3,96.9 L156.6,95.3 L158.0,95.7 L159.3,96.6 L160.7,94.9 L162.0,94.5 L163.3,95.1 L164.7,94.8 L166.0,95.5 L167.4,93.1 L168.7,92.2 L170.0,89.8 L171.4,90.6 L172.7,88.3 L174.1,85.5 L175.4,85.2 L176.7,85.0 L178.1,86.2 L179.4,84.8 L180.8,84.1 L182.1,83.9 L183.4,84.0 L184.8,82.0 L186.1,81.2 L187.5,79.9 L188.8,78.0 L190.1,76.7 L191.5,75.5 L192.8,73.6 L194.2,73.7 L195.5,71.3 L196.8,71.4 L198.2,70.8 L199.5,69.1 L200.9,67.3 L202.2,66.3 L203.5,65.8 L204.9,65.2 L206.2,64.1 L207.6,63.5 L208.9,61.6 L210.2,60.7 L211.6,59.9 L212.9,61.4 L214.3,62.0 L215.6,62.0 L216.9,63.5 L218.3,64.1 L219.6,62.1 L221.0,63.5 L222.3,63.3 L223.6,65.4 L225.0,67.8 L226.3,66.2 L227.7,65.8 L229.0,65.2 L230.3,65.3 L231.7,65.4 L233.0,65.9 L234.4,64.3 L235.7,65.9 L237.0,65.0 L238.4,65.7 L239.7,66.9 L241.1,67.8 L242.4,67.6 L243.7,68.1 L245.1,69.1 L246.4,69.9 L247.8,71.0 L249.1,69.7 L250.4,70.3 L251.8,70.8 L253.1,71.0 L254.5,71.0 L255.8,71.2 L257.1,70.2 L258.5,69.6 L259.8,68.7 L261.2,68.9 L262.5,66.6 L263.8,68.6 L265.2,68.9 L266.5,69.4 L267.9,69.9 L269.2,72.1 L270.5,75.9 L271.9,79.4 L273.2,84.1 L274.6,86.9 L275.9,90.6 L277.2,91.9 L278.6,92.1 L279.9,91.2 L281.3,90.6 L282.6,89.8 L283.9,89.7 L285.3,90.0 L286.6,89.8 L288.0,88.7 L289.3,88.8 L290.6,88.3 L292.0,88.5 L293.3,89.6 L294.7,88.9 L296.0,87.6 L297.3,85.8 L298.7,84.6 L300.0,83.1 L301.4,83.7 L302.7,82.3 L304.0,81.8 L305.4,80.2 L306.7,79.3 L308.1,79.1 L309.4,76.8 L310.7,76.1 L312.1,75.9 L313.4,77.3 L314.8,76.7 L316.1,76.6 L317.4,77.5 L318.8,78.6 L320.1,81.2 L321.5,84.5 L322.8,84.0 L324.1,85.7 L325.5,86.5 L326.8,87.0 L328.2,89.3 L329.5,91.6 L330.8,93.3 L332.2,96.4 L333.5,95.8 L334.9,97.8 L336.2,99.5 L337.5,98.4 L338.9,97.7 L340.2,97.3 L341.6,95.3 L342.9,93.6 L344.2,92.0 L345.6,88.9 L346.9,89.7 L348.3,90.2 L349.6,89.8 L350.9,90.6 L352.3,89.7 L353.6,90.3 L355.0,88.8 L356.3,87.7 L357.6,87.8 L359.0,86.0 L360.3,85.6 L361.7,83.8 L363.0,83.9 L364.3,84.0 L365.7,82.9 L367.0,81.8 L368.4,82.8 L369.7,83.3 L371.0,85.4 L372.4,86.3 L373.7,88.8 L375.1,91.2 L376.4,91.6 L377.7,90.5 L379.1,90.0 L380.4,90.7 L381.8,90.3 L383.1,93.1 L384.4,95.3 L385.8,95.9 L387.1,96.3 L388.5,96.8 L389.8,97.8 L391.1,96.5 L392.5,97.1 L393.8,96.0 L395.2,95.0 L396.5,95.0 L397.8,94.7 L399.2,93.9 L400.5,93.0 L401.9,92.9 L403.2,94.7 L404.5,96.2 L405.9,96.1 L407.2,96.5 L408.6,96.9 L409.9,98.5 L411.2,100.4 L412.6,100.8 L413.9,101.4 L415.3,103.1 L416.6,104.1 L417.9,104.3 L419.3,105.5 L420.6,105.7 L422.0,107.0 L423.3,107.0 L424.6,106.3 L426.0,106.1 L427.3,105.6 L428.7,104.8 L430.0,104.4 L431.3,104.7 L432.7,104.5 L434.0,104.6 L435.4,102.2 L436.7,101.6 L438.0,101.1 L439.4,100.9 L440.7,99.8 L442.1,98.9 L443.4,99.0 L444.7,98.2 L446.1,96.4 L447.4,97.0 L448.8,96.4 L450.1,94.5 L451.4,94.0 L452.8,92.1 L454.1,93.1 L455.5,93.3 L456.8,93.4 L458.1,94.1 L459.5,94.6 L460.8,96.0 L462.2,97.0 L463.5,97.6 L464.8,97.7 L466.2,95.8 L467.5,97.9 L468.9,97.7 L470.2,99.5 L471.5,101.0 L472.9,100.9 L474.2,100.2 L475.6,100.0 L476.9,99.9 L478.2,99.4 L479.6,100.3 L480.9,100.9 L482.3,103.4 L483.6,104.2 L484.9,105.3 L486.3,104.9 L487.6,105.0 L489.0,105.0 L490.3,105.5 L491.6,106.1 L493.0,106.1 L494.3,105.4 L495.7,105.1 L497.0,106.8 L498.3,106.3 L499.7,106.1 L501.0,107.4 L502.4,107.8 L503.7,107.8 L505.0,107.4 L506.4,109.5 L507.7,109.3 L509.1,109.5 L510.4,109.3 L511.7,108.5 L513.1,108.6 L514.4,110.3 L515.8,111.5 L517.1,111.9 L518.4,111.5 L519.8,111.1 L521.1,111.8 L522.5,111.4 L523.8,113.1 L525.1,114.3 L526.5,116.2 L527.8,115.8 L529.2,114.6 L530.5,114.0 L531.8,112.1 L533.2,113.5 L534.5,114.8 L535.9,116.5 L537.2,117.3 L538.5,119.8 L539.9,122.1 L541.2,124.2 L542.6,124.3 L543.9,122.1 L545.2,121.1 L546.6,119.5 L547.9,120.4 L549.3,120.1 L550.6,119.1 L551.9,116.7 L553.3,117.7 L554.6,118.7 L556.0,120.0 L557.3,121.1 L558.6,123.1 L560.0,124.1 L561.3,126.4 L562.7,127.0 L564.0,126.2 L565.3,125.8 L566.7,125.2 L568.0,125.6 L569.4,124.9 L570.7,125.3 L572.0,125.2 L573.4,124.6 L574.7,126.2 L576.1,125.7 L577.4,127.1 L578.7,128.2 L580.1,127.7 L581.4,128.1 L582.8,128.6 L584.1,128.8 L585.4,128.7 L586.8,130.3 L588.1,130.5 L589.5,131.1 L590.8,130.5 L592.1,130.6 L593.5,129.8 L594.8,129.8 L596.2,130.2 L596.5,130.0" fill="none" stroke="#0000ff" stroke-width="2.6" stroke-linejoin="round"/><path d="M61.5,121.6 L62.8,120.6 L64.2,121.1 L65.5,121.5 L66.9,121.2 L68.2,120.6 L69.5,121.3 L70.9,123.1 L72.2,121.8 L73.6,121.7 L74.9,121.6 L76.2,119.4 L77.6,120.4 L78.9,120.2 L80.3,121.8 L81.6,121.3 L82.9,120.7 L84.3,120.9 L85.6,121.3 L87.0,120.9 L88.3,121.2 L89.6,120.3 L91.0,120.2 L92.3,120.4 L93.7,120.9 L95.0,119.9 L96.3,118.9 L97.7,119.7 L99.0,120.1 L100.4,120.9 L101.7,123.0 L103.0,124.4 L104.4,126.6 L105.7,125.9 L107.1,124.2 L108.4,119.1 L109.7,114.0 L111.1,112.3 L112.4,112.3 L113.8,111.7 L115.1,113.5 L116.4,114.7 L117.8,114.4 L119.1,115.9 L120.5,116.9 L121.8,117.0 L123.1,118.3 L124.5,118.8 L125.8,115.9 L127.2,115.7 L128.5,114.8 L129.8,113.8 L131.2,113.7 L132.5,112.2 L133.9,111.4 L135.2,110.6 L136.5,110.0 L137.9,110.1 L139.2,108.9 L140.6,108.2 L141.9,108.4 L143.2,107.7 L144.6,107.2 L145.9,104.8 L147.3,104.0 L148.6,103.3 L149.9,102.9 L151.3,102.3 L152.6,103.0 L154.0,102.4 L155.3,101.9 L156.6,101.5 L158.0,101.6 L159.3,100.6 L160.7,101.1 L162.0,100.6 L163.3,100.0 L164.7,99.3 L166.0,98.9 L167.4,98.1 L168.7,96.9 L170.0,95.3 L171.4,94.1 L172.7,92.3 L174.1,91.6 L175.4,89.6 L176.7,86.5 L178.1,87.9 L179.4,87.6 L180.8,86.4 L182.1,86.4 L183.4,85.8 L184.8,87.6 L186.1,87.4 L187.5,87.1 L188.8,89.2 L190.1,90.2 L191.5,93.1 L192.8,93.0 L194.2,92.5 L195.5,93.9 L196.8,94.6 L198.2,95.2 L199.5,94.4 L200.9,96.3 L202.2,97.9 L203.5,95.5 L204.9,96.3 L206.2,95.1 L207.6,96.5 L208.9,95.4 L210.2,95.0 L211.6,96.2 L212.9,96.8 L214.3,96.5 L215.6,97.7 L216.9,95.6 L218.3,92.8 L219.6,93.6 L221.0,91.4 L222.3,89.4 L223.6,88.6 L225.0,87.2 L226.3,86.6 L227.7,86.8 L229.0,86.8 L230.3,87.2 L231.7,88.0 L233.0,87.2 L234.4,87.4 L235.7,88.4 L237.0,88.1 L238.4,89.3 L239.7,89.5 L241.1,91.4 L242.4,92.3 L243.7,92.1 L245.1,91.1 L246.4,91.7 L247.8,91.4 L249.1,92.2 L250.4,91.6 L251.8,90.5 L253.1,90.9 L254.5,90.8 L255.8,89.6 L257.1,90.1 L258.5,89.0 L259.8,88.3 L261.2,88.0 L262.5,87.0 L263.8,86.5 L265.2,86.3 L266.5,87.3 L267.9,87.7 L269.2,86.4 L270.5,87.0 L271.9,86.0 L273.2,85.6 L274.6,84.9 L275.9,83.4 L277.2,83.5 L278.6,81.5 L279.9,79.1 L281.3,79.4 L282.6,77.8 L283.9,76.8 L285.3,74.9 L286.6,77.1 L288.0,78.2 L289.3,78.8 L290.6,79.4 L292.0,80.7 L293.3,80.4 L294.7,81.3 L296.0,80.9 L297.3,81.3 L298.7,82.9 L300.0,83.5 L301.4,82.8 L302.7,82.7 L304.0,82.0 L305.4,80.8 L306.7,80.8 L308.1,79.8 L309.4,78.1 L310.7,77.3 L312.1,78.7 L313.4,76.9 L314.8,77.8 L316.1,78.7 L317.4,79.4 L318.8,78.5 L320.1,80.5 L321.5,82.9 L322.8,85.6 L324.1,86.2 L325.5,86.6 L326.8,88.9 L328.2,91.0 L329.5,92.4 L330.8,93.3 L332.2,95.3 L333.5,96.9 L334.9,99.0 L336.2,99.1 L337.5,101.0 L338.9,102.4 L340.2,103.0 L341.6,103.6 L342.9,103.7 L344.2,103.4 L345.6,103.7 L346.9,102.3 L348.3,102.5 L349.6,102.8 L350.9,102.7 L352.3,103.1 L353.6,101.3 L355.0,100.0 L356.3,100.5 L357.6,100.7 L359.0,101.8 L360.3,100.8 L361.7,98.9 L363.0,98.8 L364.3,97.2 L365.7,95.6 L367.0,97.7 L368.4,97.0 L369.7,96.8 L371.0,96.5 L372.4,97.1 L373.7,96.1 L375.1,96.6 L376.4,95.3 L377.7,94.4 L379.1,96.1 L380.4,97.1 L381.8,97.1 L383.1,97.1 L384.4,97.3 L385.8,96.9 L387.1,98.6 L388.5,99.0 L389.8,98.5 L391.1,98.0 L392.5,98.1 L393.8,97.6 L395.2,97.8 L396.5,96.7 L397.8,97.6 L399.2,99.5 L400.5,98.2 L401.9,97.0 L403.2,96.8 L404.5,96.3 L405.9,95.3 L407.2,95.3 L408.6,97.7 L409.9,98.5 L411.2,100.0 L412.6,102.6 L413.9,104.1 L415.3,106.0 L416.6,108.8 L417.9,108.8 L419.3,109.1 L420.6,108.4 L422.0,109.0 L423.3,109.6 L424.6,110.9 L426.0,111.7 L427.3,113.6 L428.7,115.7 L430.0,117.1 L431.3,116.3 L432.7,115.8 L434.0,116.8 L435.4,116.9 L436.7,117.5 L438.0,117.7 L439.4,116.6 L440.7,116.7 L442.1,115.0 L443.4,116.9 L444.7,116.8 L446.1,115.6 L447.4,114.0 L448.8,114.3 L450.1,112.5 L451.4,112.3 L452.8,113.2 L454.1,112.8 L455.5,111.9 L456.8,112.2 L458.1,110.6 L459.5,110.5 L460.8,109.5 L462.2,108.5 L463.5,108.6 L464.8,107.3 L466.2,108.4 L467.5,106.8 L468.9,107.6 L470.2,105.3 L471.5,105.1 L472.9,103.4 L474.2,102.0 L475.6,102.1 L476.9,102.3 L478.2,101.0 L479.6,102.1 L480.9,101.1 L482.3,103.1 L483.6,105.4 L484.9,107.7 L486.3,108.5 L487.6,112.9 L489.0,115.0 L490.3,115.4 L491.6,115.6 L493.0,115.8 L494.3,116.7 L495.7,119.1 L497.0,120.4 L498.3,121.2 L499.7,122.7 L501.0,125.7 L502.4,127.7 L503.7,127.1 L505.0,125.3 L506.4,123.5 L507.7,123.7 L509.1,123.5 L510.4,122.9 L511.7,123.2 L513.1,124.6 L514.4,126.1 L515.8,127.5 L517.1,128.4 L518.4,128.8 L519.8,129.3 L521.1,128.8 L522.5,127.9 L523.8,128.9 L525.1,129.3 L526.5,130.0 L527.8,130.8 L529.2,130.7 L530.5,131.4 L531.8,133.4 L533.2,135.2 L534.5,136.2 L535.9,137.9 L537.2,138.6 L538.5,138.8 L539.9,140.2 L541.2,142.7 L542.6,142.5 L543.9,144.4 L545.2,146.0 L546.6,147.5 L547.9,147.0 L549.3,148.0 L550.6,145.9 L551.9,143.9 L553.3,142.3 L554.6,141.4 L556.0,140.0 L557.3,139.7 L558.6,140.7 L560.0,139.6 L561.3,138.9 L562.7,139.7 L564.0,139.7 L565.3,139.8 L566.7,137.9 L568.0,138.4 L569.4,138.0 L570.7,142.2 L572.0,144.5 L573.4,148.4 L574.7,145.7 L576.1,142.7 L577.4,142.8 L578.7,144.3 L580.1,143.8 L581.4,143.3 L582.8,144.3 L584.1,144.9 L585.4,145.8 L586.8,145.4 L588.1,146.2 L589.5,147.9 L590.8,147.5 L592.1,147.4 L593.5,148.8 L594.8,150.3 L596.2,149.3 L596.5,147.6" fill="none" stroke="#0000ff" stroke-width="2.6" stroke-linejoin="round"/><path d="M61.5,129.1 L62.8,127.5 L64.2,127.7 L65.5,128.2 L66.9,127.7 L68.2,126.9 L69.5,126.9 L70.9,126.1 L72.2,126.3 L73.6,125.9 L74.9,128.2 L76.2,127.8 L77.6,126.3 L78.9,125.4 L80.3,125.3 L81.6,124.6 L82.9,125.0 L84.3,125.2 L85.6,126.6 L87.0,126.4 L88.3,126.1 L89.6,125.6 L91.0,125.5 L92.3,126.4 L93.7,126.8 L95.0,128.1 L96.3,127.4 L97.7,128.5 L99.0,128.4 L100.4,128.2 L101.7,126.5 L103.0,126.0 L104.4,127.3 L105.7,128.3 L107.1,127.9 L108.4,128.0 L109.7,127.2 L111.1,126.8 L112.4,126.4 L113.8,127.4 L115.1,127.5 L116.4,127.1 L117.8,126.8 L119.1,127.3 L120.5,127.4 L121.8,126.4 L123.1,127.8 L124.5,127.3 L125.8,126.8 L127.2,127.6 L128.5,127.6 L129.8,126.7 L131.2,126.6 L132.5,125.3 L133.9,124.9 L135.2,123.4 L136.5,125.2 L137.9,123.7 L139.2,124.9 L140.6,124.3 L141.9,123.9 L143.2,124.3 L144.6,124.9 L145.9,125.4 L147.3,126.5 L148.6,126.0 L149.9,126.2 L151.3,124.8 L152.6,125.0 L154.0,124.4 L155.3,123.6 L156.6,123.2 L158.0,122.9 L159.3,122.8 L160.7,122.7 L162.0,121.8 L163.3,121.1 L164.7,121.6 L166.0,119.7 L167.4,119.3 L168.7,120.4 L170.0,117.5 L171.4,117.3 L172.7,118.2 L174.1,116.7 L175.4,119.1 L176.7,116.2 L178.1,117.7 L179.4,117.4 L180.8,111.4 L182.1,104.5 L183.4,110.2 L184.8,110.0 L186.1,110.8 L187.5,109.8 L188.8,109.9 L190.1,110.9 L191.5,109.8 L192.8,109.8 L194.2,110.3 L195.5,109.5 L196.8,111.1 L198.2,111.4 L199.5,110.3 L200.9,109.6 L202.2,108.1 L203.5,106.9 L204.9,106.2 L206.2,105.2 L207.6,106.0 L208.9,105.1 L210.2,105.7 L211.6,105.1 L212.9,105.2 L214.3,102.4 L215.6,100.0 L216.9,97.3 L218.3,96.2 L219.6,96.4 L221.0,97.6 L222.3,97.5 L223.6,96.6 L225.0,95.8 L226.3,95.8 L227.7,95.4 L229.0,96.3 L230.3,96.3 L231.7,94.8 L233.0,94.1 L234.4,95.2 L235.7,94.9 L237.0,94.2 L238.4,94.9 L239.7,93.9 L241.1,94.2 L242.4,94.7 L243.7,94.3 L245.1,96.6 L246.4,96.6 L247.8,97.2 L249.1,97.3 L250.4,98.6 L251.8,98.7 L253.1,99.0 L254.5,97.9 L255.8,98.7 L257.1,98.1 L258.5,99.3 L259.8,100.0 L261.2,99.8 L262.5,101.1 L263.8,100.6 L265.2,100.2 L266.5,99.6 L267.9,99.0 L269.2,99.4 L270.5,99.6 L271.9,97.8 L273.2,98.6 L274.6,98.4 L275.9,98.6 L277.2,98.2 L278.6,96.6 L279.9,95.7 L281.3,97.4 L282.6,97.0 L283.9,95.4 L285.3,95.8 L286.6,95.2 L288.0,93.5 L289.3,92.2 L290.6,91.8 L292.0,92.8 L293.3,92.9 L294.7,92.6 L296.0,92.6 L297.3,92.6 L298.7,90.2 L300.0,89.9 L301.4,89.0 L302.7,87.8 L304.0,87.3 L305.4,87.0 L306.7,86.4 L308.1,84.8 L309.4,84.3 L310.7,85.5 L312.1,83.5 L313.4,81.5 L314.8,81.6 L316.1,83.1 L317.4,84.4 L318.8,84.4 L320.1,86.5 L321.5,86.8 L322.8,87.2 L324.1,88.3 L325.5,90.0 L326.8,92.5 L328.2,94.5 L329.5,95.9 L330.8,98.1 L332.2,99.5 L333.5,101.4 L334.9,101.0 L336.2,101.3 L337.5,103.7 L338.9,103.9 L340.2,105.3 L341.6,105.8 L342.9,105.9 L344.2,106.1 L345.6,107.8 L346.9,105.7 L348.3,107.4 L349.6,109.4 L350.9,108.9 L352.3,108.5 L353.6,108.6 L355.0,109.3 L356.3,107.3 L357.6,107.1 L359.0,106.6 L360.3,106.8 L361.7,106.5 L363.0,106.6 L364.3,105.7 L365.7,105.5 L367.0,104.7 L368.4,104.2 L369.7,104.2 L371.0,104.0 L372.4,103.0 L373.7,104.5 L375.1,103.4 L376.4,101.5 L377.7,104.2 L379.1,105.5 L380.4,107.0 L381.8,107.0 L383.1,107.3 L384.4,107.5 L385.8,107.1 L387.1,107.1 L388.5,108.5 L389.8,105.9 L391.1,106.3 L392.5,106.0 L393.8,104.3 L395.2,102.8 L396.5,105.0 L397.8,104.7 L399.2,106.6 L400.5,106.9 L401.9,107.7 L403.2,109.0 L404.5,110.5 L405.9,113.2 L407.2,115.2 L408.6,117.1 L409.9,119.2 L411.2,122.2 L412.6,124.4 L413.9,123.8 L415.3,123.0 L416.6,123.1 L417.9,122.3 L419.3,122.0 L420.6,121.4 L422.0,121.5 L423.3,122.0 L424.6,122.6 L426.0,122.0 L427.3,123.2 L428.7,122.1 L430.0,123.9 L431.3,123.5 L432.7,123.0 L434.0,122.1 L435.4,120.1 L436.7,121.2 L438.0,122.1 L439.4,123.7 L440.7,121.7 L442.1,123.0 L443.4,121.8 L444.7,121.8 L446.1,119.4 L447.4,120.2 L448.8,120.1 L450.1,120.8 L451.4,120.6 L452.8,119.6 L454.1,120.7 L455.5,121.1 L456.8,121.2 L458.1,121.6 L459.5,121.8 L460.8,121.3 L462.2,120.2 L463.5,119.7 L464.8,121.6 L466.2,122.2 L467.5,122.1 L468.9,121.9 L470.2,122.3 L471.5,122.7 L472.9,122.8 L474.2,122.7 L475.6,125.0 L476.9,125.0 L478.2,125.0 L479.6,124.9 L480.9,125.8 L482.3,127.7 L483.6,129.2 L484.9,129.6 L486.3,129.8 L487.6,129.2 L489.0,128.1 L490.3,129.2 L491.6,129.1 L493.0,131.4 L494.3,130.4 L495.7,130.7 L497.0,131.9 L498.3,132.6 L499.7,132.9 L501.0,134.0 L502.4,136.0 L503.7,137.4 L505.0,137.6 L506.4,138.7 L507.7,139.4 L509.1,139.5 L510.4,139.9 L511.7,140.3 L513.1,141.5 L514.4,142.8 L515.8,142.8 L517.1,143.2 L518.4,142.9 L519.8,142.0 L521.1,142.0 L522.5,143.5 L523.8,144.1 L525.1,145.5 L526.5,145.9 L527.8,147.2 L529.2,148.7 L530.5,149.7 L531.8,149.5 L533.2,150.3 L534.5,151.5 L535.9,151.8 L537.2,153.6 L538.5,155.5 L539.9,155.9 L541.2,157.9 L542.6,157.5 L543.9,157.6 L545.2,157.9 L546.6,158.0 L547.9,159.4 L549.3,160.6 L550.6,163.0 L551.9,163.0 L553.3,162.8 L554.6,162.2 L556.0,161.0 L557.3,161.4 L558.6,161.0 L560.0,162.2 L561.3,162.0 L562.7,163.2 L564.0,162.8 L565.3,162.4 L566.7,161.5 L568.0,160.8 L569.4,160.6 L570.7,160.5 L572.0,159.4 L573.4,160.6 L574.7,163.3 L576.1,163.0 L577.4,163.2 L578.7,163.4 L580.1,163.4 L581.4,165.5 L582.8,166.1 L584.1,166.9 L585.4,168.8 L586.8,170.0 L588.1,167.9 L589.5,168.1 L590.8,167.8 L592.1,167.4 L593.5,167.2 L594.8,166.6 L596.2,167.4 L596.5,167.2" fill="none" stroke="#0000ff" stroke-width="2.6" stroke-linejoin="round"/><path d="M61.8,150.1 L63.1,150.8 L64.5,150.5 L65.8,149.9 L67.2,149.3 L68.5,149.7 L69.8,148.7 L71.2,147.5 L72.5,146.1 L73.9,146.0 L75.2,145.6 L76.5,146.4 L77.9,146.9 L79.2,145.4 L80.6,145.5 L81.9,145.7 L83.2,145.1 L84.6,144.7 L85.9,146.7 L87.3,146.5 L88.6,146.4 L89.9,146.7 L91.3,147.9 L92.6,148.6 L94.0,148.9 L95.3,148.2 L96.6,146.6 L98.0,145.7 L99.3,144.5 L100.7,144.0 L102.0,142.2 L103.3,142.4 L104.7,142.6 L106.0,141.8 L107.4,141.5 L108.7,140.6 L110.0,139.7 L111.4,139.9 L112.7,141.4 L114.1,141.9 L115.4,140.7 L116.7,141.2 L118.1,140.1 L119.4,140.8 L120.8,140.1 L122.1,138.9 L123.4,139.1 L124.8,137.8 L126.1,136.9 L127.5,135.8 L128.8,136.4 L130.1,136.3 L131.5,136.1 L132.8,135.5 L134.2,136.4 L135.5,135.3 L136.8,134.4 L138.2,135.2 L139.5,135.5 L140.9,134.8 L142.2,132.8 L143.5,132.5 L144.9,133.2 L146.2,133.0 L147.6,133.9 L148.9,132.1 L150.2,132.6 L151.6,132.1 L152.9,133.4 L154.3,133.1 L155.6,133.8 L156.9,133.0 L158.3,132.1 L159.6,131.9 L161.0,132.3 L162.3,132.2 L163.6,133.9 L165.0,135.0 L166.3,134.7 L167.7,133.7 L169.0,134.0 L170.3,133.7 L171.7,135.3 L173.0,135.3 L174.4,135.5 L175.7,135.0 L177.0,133.6 L178.4,133.9 L179.7,133.9 L181.1,135.1 L182.4,135.5 L183.7,135.2 L185.1,135.3 L186.4,135.2 L187.8,132.5 L189.1,130.4 L190.4,129.5 L191.8,128.3 L193.1,127.4 L194.5,127.1 L195.8,127.4 L197.1,124.4 L198.5,124.0 L199.8,124.3 L201.2,124.4 L202.5,124.5 L203.8,124.5 L205.2,125.5 L206.5,125.7 L207.9,126.7 L209.2,127.7 L210.5,128.9 L211.9,129.7 L213.2,131.5 L214.6,132.2 L215.9,133.1 L217.2,134.0 L218.6,135.2 L219.9,137.0 L221.3,134.0 L222.6,131.4 L223.9,130.1 L225.3,129.7 L226.6,130.5 L228.0,131.1 L229.3,129.7 L230.6,131.6 L232.0,131.1 L233.3,129.7 L234.7,129.3 L236.0,127.9 L237.3,126.0 L238.7,126.7 L240.0,124.0 L241.4,123.4 L242.7,123.8 L244.0,122.5 L245.4,122.4 L246.7,122.7 L248.1,124.2 L249.4,122.4 L250.7,121.6 L252.1,121.2 L253.4,120.1 L254.8,118.3 L256.1,118.8 L257.4,118.9 L258.8,119.1 L260.1,119.7 L261.5,119.8 L262.8,119.3 L264.1,118.8 L265.5,117.3 L266.8,117.2 L268.2,117.3 L269.5,116.9 L270.8,117.3 L272.2,117.0 L273.5,118.8 L274.9,120.2 L276.2,119.2 L277.5,119.0 L278.9,118.2 L280.2,118.8 L281.6,118.4 L282.9,117.7 L284.2,117.3 L285.6,117.9 L286.9,117.7 L288.3,119.0 L289.6,119.0 L290.9,120.1 L292.3,120.7 L293.6,121.9 L295.0,122.0 L296.3,123.1 L297.6,122.4 L299.0,123.5 L300.3,123.7 L301.7,124.3 L303.0,124.9 L304.3,126.0 L305.7,124.7 L307.0,125.7 L308.4,125.1 L309.7,126.9 L311.0,125.5 L312.4,125.7 L313.7,125.8 L315.1,128.8 L316.4,128.5 L317.7,129.8 L319.1,130.3 L320.4,130.0 L321.8,131.4 L323.1,133.2 L324.4,133.9 L325.8,135.5 L327.1,135.8 L328.5,136.5 L329.8,137.1 L331.1,138.3 L332.5,140.4 L333.8,140.8 L335.2,141.1 L336.5,140.5 L337.8,140.2 L339.2,141.8 L340.5,140.8 L341.9,140.7 L343.2,141.5 L344.5,141.8 L345.9,143.9 L347.2,142.0 L348.6,143.5 L349.9,145.6 L351.2,145.9 L352.6,147.1 L353.9,149.2 L355.3,151.8 L356.6,152.1 L357.9,152.8 L359.3,155.9 L360.6,158.7 L362.0,159.2 L363.3,158.7 L364.6,161.9 L366.0,162.9 L367.3,165.2 L368.7,166.6 L370.0,168.0 L371.3,169.5 L372.7,172.6 L374.0,174.6 L375.4,173.4 L376.7,174.3 L378.0,177.4 L379.4,177.9 L380.7,177.5 L382.1,178.7 L383.4,179.5 L384.7,180.2 L386.1,180.7 L387.4,181.3 L388.8,181.9 L390.1,183.4 L391.4,183.9 L392.8,185.0 L394.1,186.2 L395.5,188.3 L396.8,189.0 L398.1,189.4 L399.5,190.5 L400.8,191.3 L402.2,192.4 L403.5,192.9 L404.8,194.5 L406.2,195.2 L407.5,194.9 L408.9,194.7 L410.2,196.0 L411.5,196.7 L412.9,196.9 L414.2,196.2 L415.6,196.0 L416.9,197.8 L418.2,199.4 L419.6,200.5 L420.9,199.8 L422.3,201.4 L423.6,201.3 L424.9,202.2 L426.3,202.9 L427.6,202.6 L429.0,202.9 L430.3,202.2 L431.6,203.0 L433.0,203.0 L434.3,204.9 L435.7,205.9 L437.0,207.2 L438.3,207.8 L439.7,207.6 L441.0,208.1 L442.4,207.8 L443.7,208.4 L445.0,208.6 L446.4,207.7 L447.7,208.0 L449.1,208.2 L450.4,208.1 L451.7,209.0 L453.1,210.1 L454.4,209.1 L455.8,208.6 L457.1,207.0 L458.4,207.8 L459.8,206.8 L461.1,204.3 L462.5,204.1 L463.8,203.6 L465.1,202.7 L466.5,202.7 L467.8,202.2 L469.2,203.3 L470.5,202.1 L471.8,202.4 L473.2,204.3 L474.5,203.8 L475.9,203.8 L477.2,203.4 L478.5,202.5 L479.9,203.0 L481.2,203.6 L482.6,202.9 L483.9,203.6 L485.2,204.7 L486.6,205.2 L487.9,203.5 L489.3,203.1 L490.6,202.5 L491.9,204.3 L493.3,204.9 L494.6,205.3 L496.0,204.4 L497.3,203.8 L498.6,204.4 L500.0,204.8 L501.3,204.3 L502.7,204.7 L504.0,205.4 L505.3,205.3 L506.7,204.4 L508.0,203.1 L509.4,203.9 L510.7,204.6 L512.0,204.6 L513.4,204.5 L514.7,204.2 L516.1,205.1 L517.4,205.0 L518.7,205.1 L520.1,204.3 L521.4,204.1 L522.8,204.4 L524.1,203.7 L525.4,203.1 L526.8,203.4 L528.1,204.6 L529.5,204.4 L530.8,205.2 L532.1,204.3 L533.5,203.7 L534.8,202.5 L536.2,202.4 L537.5,203.9 L538.8,203.7 L540.2,203.8 L541.5,203.8 L542.9,203.2 L544.2,202.7 L545.5,202.6 L546.9,202.9 L548.2,202.8 L549.6,202.7 L550.9,202.4 L552.2,201.4 L553.6,201.3 L554.9,200.6 L556.3,201.7 L557.6,199.8 L558.9,200.2 L560.3,202.3 L561.6,201.2 L563.0,200.0 L564.3,200.1 L565.6,201.0 L567.0,200.3 L568.3,200.5 L569.7,200.1 L571.0,199.4 L572.3,201.7 L573.7,200.4 L575.0,199.2 L576.4,198.6 L577.7,198.9 L579.0,199.0 L580.4,199.2 L581.7,198.8 L583.1,197.4 L584.4,198.0 L585.7,197.8 L587.1,197.7 L588.4,196.7 L589.8,196.9 L591.1,196.9 L592.4,197.4 L593.8,196.6 L595.1,197.4 L596.5,197.8 L596.5,197.0" fill="none" stroke="#0000ff" stroke-width="2.6" stroke-linejoin="round"/><path d="M61.8,170.4 L63.1,170.5 L64.5,172.5 L65.8,171.5 L67.2,173.0 L68.5,172.3 L69.8,172.9 L71.2,174.1 L72.5,173.6 L73.9,172.3 L75.2,169.0 L76.5,169.0 L77.9,168.7 L79.2,168.5 L80.6,166.3 L81.9,165.9 L83.2,167.5 L84.6,167.4 L85.9,167.5 L87.3,168.1 L88.6,167.0 L89.9,167.5 L91.3,166.9 L92.6,166.7 L94.0,165.4 L95.3,165.4 L96.6,163.9 L98.0,164.0 L99.3,163.7 L100.7,163.1 L102.0,162.5 L103.3,162.1 L104.7,159.1 L106.0,160.1 L107.4,159.6 L108.7,160.3 L110.0,160.7 L111.4,160.3 L112.7,161.1 L114.1,161.7 L115.4,162.4 L116.7,161.0 L118.1,159.9 L119.4,160.9 L120.8,159.5 L122.1,160.8 L123.4,159.7 L124.8,158.3 L126.1,158.7 L127.5,159.3 L128.8,157.1 L130.1,158.0 L131.5,156.9 L132.8,157.4 L134.2,155.8 L135.5,153.6 L136.8,153.7 L138.2,153.7 L139.5,154.1 L140.9,153.7 L142.2,152.6 L143.5,151.0 L144.9,149.8 L146.2,149.1 L147.6,148.0 L148.9,149.2 L150.2,149.2 L151.6,151.0 L152.9,152.0 L154.3,154.7 L155.6,154.9 L156.9,154.4 L158.3,154.3 L159.6,152.3 L161.0,151.4 L162.3,149.7 L163.6,150.9 L165.0,150.5 L166.3,148.8 L167.7,148.5 L169.0,148.8 L170.3,148.4 L171.7,147.8 L173.0,146.3 L174.4,145.4 L175.7,145.2 L177.0,145.5 L178.4,144.0 L179.7,143.1 L181.1,144.7 L182.4,144.1 L183.7,145.4 L185.1,145.5 L186.4,146.2 L187.8,147.3 L189.1,147.2 L190.4,147.3 L191.8,146.0 L193.1,145.5 L194.5,146.2 L195.8,147.3 L197.1,147.7 L198.5,148.6 L199.8,147.5 L201.2,147.0 L202.5,147.4 L203.8,146.9 L205.2,146.7 L206.5,145.9 L207.9,147.1 L209.2,146.2 L210.5,147.0 L211.9,146.0 L213.2,145.2 L214.6,142.1 L215.9,140.7 L217.2,137.2 L218.6,137.9 L219.9,139.6 L221.3,139.3 L222.6,140.0 L223.9,140.2 L225.3,139.1 L226.6,140.7 L228.0,141.8 L229.3,141.4 L230.6,142.6 L232.0,142.4 L233.3,141.1 L234.7,140.9 L236.0,139.8 L237.3,141.1 L238.7,139.5 L240.0,140.8 L241.4,141.8 L242.7,140.4 L244.0,140.1 L245.4,141.9 L246.7,142.2 L248.1,143.3 L249.4,144.6 L250.7,144.0 L252.1,142.9 L253.4,140.9 L254.8,142.0 L256.1,141.6 L257.4,142.1 L258.8,142.2 L260.1,141.0 L261.5,142.9 L262.8,143.4 L264.1,143.5 L265.5,142.1 L266.8,142.0 L268.2,141.9 L269.5,142.0 L270.8,141.6 L272.2,142.6 L273.5,142.9 L274.9,143.3 L276.2,142.7 L277.5,143.6 L278.9,143.2 L280.2,140.8 L281.6,141.1 L282.9,141.6 L284.2,142.6 L285.6,142.1 L286.9,141.8 L288.3,141.2 L289.6,140.0 L290.9,137.5 L292.3,135.1 L293.6,132.8 L295.0,130.9 L296.3,127.4 L297.6,123.2 L299.0,121.8 L300.3,119.3 L301.7,117.9 L303.0,116.2 L304.3,115.0 L305.7,113.9 L307.0,111.5 L308.4,110.0 L309.7,107.7 L311.0,108.6 L312.4,107.9 L313.7,107.9 L315.1,106.3 L316.4,104.3 L317.7,106.8 L319.1,107.3 L320.4,107.9 L321.8,108.5 L323.1,109.6 L324.4,110.4 L325.8,109.7 L327.1,111.8 L328.5,112.1 L329.8,112.7 L331.1,115.2 L332.5,116.2 L333.8,115.6 L335.2,112.8 L336.5,112.4 L337.8,111.9 L339.2,110.5 L340.5,109.1 L341.9,109.4 L343.2,109.5 L344.5,110.8 L345.9,112.2 L347.2,113.3 L348.6,112.7 L349.9,113.4 L351.2,114.3 L352.6,116.9 L353.9,120.2 L355.3,123.8 L356.6,124.2 L357.9,125.4 L359.3,125.5 L360.6,126.5 L362.0,125.6 L363.3,126.7 L364.6,128.4 L366.0,130.1 L367.3,130.9 L368.7,132.1 L370.0,133.0 L371.3,133.7 L372.7,135.4 L374.0,137.7 L375.4,138.7 L376.7,141.6 L378.0,143.3 L379.4,145.0 L380.7,149.7 L382.1,153.9 L383.4,157.3 L384.7,161.9 L386.1,163.8 L387.4,164.7 L388.8,166.2 L390.1,167.4 L391.4,167.0 L392.8,167.7 L394.1,166.9 L395.5,166.0 L396.8,165.6 L398.1,163.7 L399.5,163.0 L400.8,163.4 L402.2,164.4 L403.5,164.3 L404.8,164.6 L406.2,165.7 L407.5,166.8 L408.9,166.9 L410.2,167.5 L411.5,166.7 L412.9,166.5 L414.2,167.0 L415.6,167.0 L416.9,166.9 L418.2,168.7 L419.6,168.3 L420.9,167.7 L422.3,168.7 L423.6,170.4 L424.9,170.1 L426.3,171.0 L427.6,170.4 L429.0,170.2 L430.3,170.2 L431.6,170.7 L433.0,172.7 L434.3,171.6 L435.7,173.3 L437.0,172.4 L438.3,172.7 L439.7,173.8 L441.0,174.7 L442.4,175.3 L443.7,174.5 L445.0,176.0 L446.4,176.1 L447.7,179.2 L449.1,179.0 L450.4,179.6 L451.7,179.3 L453.1,180.0 L454.4,180.1 L455.8,182.2 L457.1,182.7 L458.4,184.0 L459.8,183.9 L461.1,184.4 L462.5,186.3 L463.8,185.9 L465.1,185.4 L466.5,187.2 L467.8,187.2 L469.2,188.1 L470.5,189.9 L471.8,189.8 L473.2,191.4 L474.5,191.3 L475.9,193.2 L477.2,194.4 L478.5,193.8 L479.9,193.8 L481.2,193.6 L482.6,194.4 L483.9,195.8 L485.2,194.7 L486.6,196.1 L487.9,195.4 L489.3,195.5 L490.6,195.1 L491.9,198.1 L493.3,198.2 L494.6,198.6 L496.0,198.3 L497.3,199.9 L498.6,198.7 L500.0,200.0 L501.3,202.6 L502.7,202.3 L504.0,202.8 L505.3,203.9 L506.7,203.6 L508.0,204.5 L509.4,205.9 L510.7,206.4 L512.0,206.6 L513.4,206.3 L514.7,206.6 L516.1,206.7 L517.4,207.8 L518.7,207.9 L520.1,207.3 L521.4,205.4 L522.8,206.9 L524.1,207.7 L525.4,207.0 L526.8,205.8 L528.1,206.0 L529.5,207.7 L530.8,207.0 L532.1,207.1 L533.5,207.7 L534.8,208.7 L536.2,208.3 L537.5,208.1 L538.8,207.6 L540.2,209.0 L541.5,209.3 L542.9,208.6 L544.2,207.2 L545.5,207.0 L546.9,207.9 L548.2,207.4 L549.6,208.4 L550.9,208.4 L552.2,208.3 L553.6,208.5 L554.9,208.5 L556.3,207.4 L557.6,207.2 L558.9,209.1 L560.3,207.4 L561.6,207.0 L563.0,207.9 L564.3,207.5 L565.6,206.7 L567.0,205.9 L568.3,206.9 L569.7,207.7 L571.0,208.4 L572.3,207.8 L573.7,208.3 L575.0,207.0 L576.4,207.2 L577.7,206.8 L579.0,207.2 L580.4,207.9 L581.7,208.4 L583.1,207.2 L584.4,208.3 L585.7,207.6 L587.1,206.8 L588.4,207.1 L589.8,206.2 L591.1,206.9 L592.4,207.5 L593.8,207.4 L595.1,208.0 L596.5,207.6 L596.5,207.7" fill="none" stroke="#0000ff" stroke-width="2.6" stroke-linejoin="round"/><path d="M61.8,154.6 L63.1,153.8 L64.5,153.2 L65.8,153.0 L67.2,153.1 L68.5,153.2 L69.8,151.8 L71.2,151.4 L72.5,152.4 L73.9,153.6 L75.2,154.2 L76.5,155.1 L77.9,155.9 L79.2,155.9 L80.6,155.3 L81.9,153.9 L83.2,153.1 L84.6,152.8 L85.9,153.0 L87.3,152.9 L88.6,152.5 L89.9,151.9 L91.3,152.6 L92.6,152.6 L94.0,152.8 L95.3,153.0 L96.6,152.5 L98.0,151.9 L99.3,152.9 L100.7,153.1 L102.0,152.4 L103.3,151.7 L104.7,153.1 L106.0,151.4 L107.4,150.7 L108.7,150.6 L110.0,149.2 L111.4,149.4 L112.7,150.7 L114.1,150.5 L115.4,150.0 L116.7,149.7 L118.1,149.0 L119.4,149.1 L120.8,148.2 L122.1,147.5 L123.4,147.3 L124.8,147.7 L126.1,147.4 L127.5,147.3 L128.8,145.1 L130.1,146.4 L131.5,148.1 L132.8,148.2 L134.2,147.2 L135.5,146.3 L136.8,146.8 L138.2,146.1 L139.5,147.1 L140.9,146.8 L142.2,147.9 L143.5,148.8 L144.9,146.8 L146.2,147.7 L147.6,147.4 L148.9,146.9 L150.2,147.2 L151.6,147.3 L152.9,148.2 L154.3,146.6 L155.6,147.6 L156.9,148.7 L158.3,148.0 L159.6,147.5 L161.0,146.7 L162.3,145.3 L163.6,145.8 L165.0,146.1 L166.3,147.3 L167.7,149.6 L169.0,149.8 L170.3,150.1 L171.7,151.5 L173.0,149.3 L174.4,147.9 L175.7,147.5 L177.0,146.8 L178.4,147.2 L179.7,146.3 L181.1,147.2 L182.4,147.3 L183.7,147.4 L185.1,146.7 L186.4,147.3 L187.8,147.9 L189.1,146.9 L190.4,147.7 L191.8,148.5 L193.1,148.7 L194.5,150.5 L195.8,152.0 L197.1,151.9 L198.5,152.9 L199.8,151.9 L201.2,152.4 L202.5,151.4 L203.8,152.1 L205.2,151.9 L206.5,150.5 L207.9,147.5 L209.2,143.9 L210.5,143.3 L211.9,141.3 L213.2,141.9 L214.6,141.3 L215.9,141.1 L217.2,141.7 L218.6,140.8 L219.9,142.0 L221.3,140.9 L222.6,142.5 L223.9,142.9 L225.3,143.6 L226.6,144.2 L228.0,144.9 L229.3,146.5 L230.6,144.9 L232.0,145.7 L233.3,145.7 L234.7,147.4 L236.0,146.7 L237.3,147.0 L238.7,146.4 L240.0,146.8 L241.4,147.3 L242.7,146.4 L244.0,146.2 L245.4,144.9 L246.7,145.5 L248.1,146.2 L249.4,145.4 L250.7,145.9 L252.1,143.3 L253.4,141.9 L254.8,141.2 L256.1,141.3 L257.4,141.5 L258.8,141.2 L260.1,140.9 L261.5,141.0 L262.8,140.6 L264.1,140.3 L265.5,140.4 L266.8,143.2 L268.2,141.6 L269.5,142.6 L270.8,144.3 L272.2,144.6 L273.5,143.9 L274.9,144.3 L276.2,145.3 L277.5,145.8 L278.9,144.2 L280.2,144.6 L281.6,144.2 L282.9,144.5 L284.2,144.6 L285.6,142.8 L286.9,140.6 L288.3,140.6 L289.6,141.2 L290.9,140.2 L292.3,139.3 L293.6,140.1 L295.0,137.7 L296.3,137.7 L297.6,136.3 L299.0,136.0 L300.3,135.9 L301.7,136.9 L303.0,135.4 L304.3,135.0 L305.7,133.9 L307.0,135.4 L308.4,135.6 L309.7,136.6 L311.0,136.1 L312.4,136.7 L313.7,138.1 L315.1,138.0 L316.4,138.6 L317.7,139.0 L319.1,138.7 L320.4,137.7 L321.8,139.2 L323.1,139.4 L324.4,140.2 L325.8,138.4 L327.1,137.9 L328.5,137.3 L329.8,138.1 L331.1,140.0 L332.5,140.6 L333.8,140.6 L335.2,140.8 L336.5,141.5 L337.8,141.1 L339.2,141.5 L340.5,141.7 L341.9,140.2 L343.2,141.0 L344.5,142.8 L345.9,142.5 L347.2,142.7 L348.6,142.8 L349.9,143.6 L351.2,145.6 L352.6,146.0 L353.9,146.1 L355.3,145.0 L356.6,146.9 L357.9,147.6 L359.3,148.6 L360.6,151.7 L362.0,153.7 L363.3,153.4 L364.6,155.6 L366.0,156.6 L367.3,156.5 L368.7,158.0 L370.0,157.2 L371.3,157.5 L372.7,157.4 L374.0,157.5 L375.4,159.1 L376.7,158.3 L378.0,158.1 L379.4,158.2 L380.7,159.1 L382.1,159.2 L383.4,160.5 L384.7,160.3 L386.1,160.0 L387.4,160.7 L388.8,161.7 L390.1,161.1 L391.4,161.6 L392.8,162.9 L394.1,161.6 L395.5,161.4 L396.8,162.1 L398.1,160.9 L399.5,160.1 L400.8,159.9 L402.2,161.5 L403.5,162.8 L404.8,163.4 L406.2,164.1 L407.5,165.8 L408.9,166.8 L410.2,165.9 L411.5,166.9 L412.9,167.9 L414.2,169.2 L415.6,169.5 L416.9,169.8 L418.2,170.4 L419.6,170.1 L420.9,171.6 L422.3,172.2 L423.6,173.6 L424.9,173.6 L426.3,174.3 L427.6,174.6 L429.0,175.0 L430.3,176.8 L431.6,177.2 L433.0,178.4 L434.3,178.2 L435.7,179.3 L437.0,178.9 L438.3,179.9 L439.7,180.7 L441.0,182.6 L442.4,183.8 L443.7,184.7 L445.0,186.5 L446.4,187.5 L447.7,188.8 L449.1,190.1 L450.4,190.8 L451.7,191.5 L453.1,192.8 L454.4,193.5 L455.8,195.0 L457.1,196.9 L458.4,198.1 L459.8,198.4 L461.1,198.4 L462.5,199.9 L463.8,200.3 L465.1,201.5 L466.5,201.1 L467.8,201.2 L469.2,202.1 L470.5,201.7 L471.8,201.9 L473.2,203.6 L474.5,204.3 L475.9,204.2 L477.2,204.0 L478.5,203.0 L479.9,203.7 L481.2,203.7 L482.6,203.9 L483.9,203.5 L485.2,203.8 L486.6,203.9 L487.9,204.3 L489.3,205.5 L490.6,205.3 L491.9,203.8 L493.3,203.6 L494.6,203.1 L496.0,203.6 L497.3,204.9 L498.6,205.5 L500.0,205.1 L501.3,205.6 L502.7,205.2 L504.0,204.5 L505.3,204.3 L506.7,204.6 L508.0,206.6 L509.4,205.6 L510.7,207.0 L512.0,207.9 L513.4,207.3 L514.7,207.2 L516.1,206.8 L517.4,207.1 L518.7,207.9 L520.1,207.8 L521.4,208.7 L522.8,209.3 L524.1,209.1 L525.4,209.0 L526.8,208.8 L528.1,209.1 L529.5,208.2 L530.8,209.0 L532.1,209.3 L533.5,208.7 L534.8,210.7 L536.2,209.5 L537.5,209.0 L538.8,209.7 L540.2,208.4 L541.5,208.7 L542.9,208.4 L544.2,208.7 L545.5,209.6 L546.9,210.4 L548.2,211.5 L549.6,211.8 L550.9,212.3 L552.2,212.2 L553.6,211.3 L554.9,212.1 L556.3,211.3 L557.6,210.9 L558.9,212.3 L560.3,212.5 L561.6,212.2 L563.0,212.5 L564.3,212.7 L565.6,211.2 L567.0,211.5 L568.3,210.8 L569.7,211.5 L571.0,211.3 L572.3,212.7 L573.7,212.9 L575.0,212.0 L576.4,212.2 L577.7,211.5 L579.0,212.1 L580.4,212.8 L581.7,213.0 L583.1,211.5 L584.4,212.0 L585.7,213.0 L587.1,213.5 L588.4,214.5 L589.8,213.3 L591.1,214.1 L592.4,213.8 L593.8,214.4 L595.1,214.9 L596.5,215.6 L596.5,214.8" fill="none" stroke="#0000ff" stroke-width="2.6" stroke-linejoin="round"/><path d="M61.8,157.6 L63.1,156.8 L64.5,156.2 L65.8,157.4 L67.2,157.6 L68.5,156.5 L69.8,156.6 L71.2,157.0 L72.5,158.3 L73.9,158.3 L75.2,158.1 L76.5,155.9 L77.9,155.9 L79.2,156.2 L80.6,156.3 L81.9,156.6 L83.2,156.3 L84.6,157.7 L85.9,158.3 L87.3,157.5 L88.6,156.4 L89.9,158.3 L91.3,156.8 L92.6,157.2 L94.0,157.7 L95.3,155.6 L96.6,155.3 L98.0,154.4 L99.3,154.5 L100.7,154.1 L102.0,154.8 L103.3,153.9 L104.7,152.7 L106.0,152.7 L107.4,151.3 L108.7,150.3 L110.0,151.5 L111.4,149.4 L112.7,148.3 L114.1,147.8 L115.4,146.4 L116.7,144.5 L118.1,145.7 L119.4,144.5 L120.8,143.8 L122.1,143.2 L123.4,142.1 L124.8,141.2 L126.1,141.3 L127.5,142.7 L128.8,141.8 L130.1,141.0 L131.5,138.5 L132.8,137.9 L134.2,136.4 L135.5,136.7 L136.8,135.7 L138.2,135.0 L139.5,134.1 L140.9,133.0 L142.2,131.5 L143.5,132.0 L144.9,130.5 L146.2,129.6 L147.6,129.5 L148.9,128.8 L150.2,128.9 L151.6,129.3 L152.9,128.7 L154.3,128.1 L155.6,127.4 L156.9,127.5 L158.3,125.2 L159.6,125.5 L161.0,124.4 L162.3,123.2 L163.6,122.9 L165.0,122.0 L166.3,121.8 L167.7,121.6 L169.0,118.5 L170.3,120.0 L171.7,122.8 L173.0,123.8 L174.4,125.2 L175.7,125.4 L177.0,123.9 L178.4,122.5 L179.7,122.9 L181.1,122.8 L182.4,121.1 L183.7,120.3 L185.1,120.3 L186.4,118.7 L187.8,118.8 L189.1,120.2 L190.4,121.2 L191.8,119.8 L193.1,120.4 L194.5,118.2 L195.8,115.8 L197.1,112.8 L198.5,112.9 L199.8,111.6 L201.2,114.3 L202.5,114.6 L203.8,115.1 L205.2,114.2 L206.5,116.2 L207.9,115.8 L209.2,115.8 L210.5,114.4 L211.9,115.7 L213.2,115.6 L214.6,113.9 L215.9,113.1 L217.2,112.5 L218.6,112.2 L219.9,110.9 L221.3,112.8 L222.6,112.9 L223.9,113.3 L225.3,114.1 L226.6,113.5 L228.0,114.8 L229.3,117.1 L230.6,118.0 L232.0,117.9 L233.3,119.1 L234.7,118.3 L236.0,119.0 L237.3,120.1 L238.7,120.8 L240.0,120.2 L241.4,121.7 L242.7,123.6 L244.0,123.3 L245.4,124.4 L246.7,123.7 L248.1,123.4 L249.4,125.6 L250.7,125.4 L252.1,124.2 L253.4,122.2 L254.8,120.9 L256.1,121.4 L257.4,122.3 L258.8,121.1 L260.1,119.3 L261.5,120.5 L262.8,121.0 L264.1,121.7 L265.5,121.9 L266.8,123.9 L268.2,123.5 L269.5,123.7 L270.8,121.6 L272.2,121.3 L273.5,121.0 L274.9,121.2 L276.2,121.4 L277.5,121.0 L278.9,122.8 L280.2,121.8 L281.6,121.9 L282.9,122.6 L284.2,121.5 L285.6,121.4 L286.9,120.9 L288.3,119.4 L289.6,119.9 L290.9,120.5 L292.3,121.7 L293.6,122.0 L295.0,122.3 L296.3,122.7 L297.6,122.4 L299.0,121.8 L300.3,122.0 L301.7,119.5 L303.0,118.8 L304.3,117.6 L305.7,119.1 L307.0,118.0 L308.4,117.2 L309.7,116.0 L311.0,116.6 L312.4,115.6 L313.7,115.4 L315.1,113.5 L316.4,114.8 L317.7,114.7 L319.1,114.7 L320.4,115.5 L321.8,115.0 L323.1,114.9 L324.4,115.6 L325.8,115.8 L327.1,115.6 L328.5,116.1 L329.8,116.3 L331.1,117.7 L332.5,118.9 L333.8,118.6 L335.2,118.9 L336.5,116.0 L337.8,115.1 L339.2,115.7 L340.5,114.2 L341.9,112.7 L343.2,114.1 L344.5,114.1 L345.9,112.6 L347.2,113.3 L348.6,112.2 L349.9,111.3 L351.2,111.7 L352.6,111.5 L353.9,110.9 L355.3,110.9 L356.6,109.8 L357.9,109.7 L359.3,109.3 L360.6,110.3 L362.0,110.1 L363.3,109.5 L364.6,109.4 L366.0,110.5 L367.3,112.6 L368.7,113.5 L370.0,113.0 L371.3,114.3 L372.7,115.3 L374.0,121.6 L375.4,120.2 L376.7,119.9 L378.0,119.2 L379.4,120.0 L380.7,121.8 L382.1,122.5 L383.4,124.5 L384.7,126.1 L386.1,128.6 L387.4,127.2 L388.8,125.8 L390.1,124.2 L391.4,124.9 L392.8,123.7 L394.1,124.0 L395.5,125.3 L396.8,125.0 L398.1,127.1 L399.5,128.1 L400.8,127.7 L402.2,128.0 L403.5,128.0 L404.8,128.3 L406.2,130.2 L407.5,131.8 L408.9,133.3 L410.2,134.7 L411.5,135.4 L412.9,137.2 L414.2,134.3 L415.6,132.1 L416.9,130.8 L418.2,128.7 L419.6,124.9 L420.9,122.5 L422.3,123.2 L423.6,123.7 L424.9,121.2 L426.3,120.6 L427.6,120.6 L429.0,121.1 L430.3,120.0 L431.6,121.7 L433.0,122.5 L434.3,125.4 L435.7,126.0 L437.0,126.4 L438.3,126.9 L439.7,128.6 L441.0,129.6 L442.4,129.3 L443.7,130.6 L445.0,130.4 L446.4,130.7 L447.7,130.7 L449.1,130.9 L450.4,131.7 L451.7,132.1 L453.1,133.7 L454.4,135.1 L455.8,135.4 L457.1,135.2 L458.4,136.9 L459.8,136.3 L461.1,136.9 L462.5,139.9 L463.8,142.0 L465.1,143.7 L466.5,142.8 L467.8,141.4 L469.2,141.1 L470.5,141.6 L471.8,141.4 L473.2,142.0 L474.5,142.2 L475.9,142.8 L477.2,145.1 L478.5,146.4 L479.9,146.8 L481.2,147.7 L482.6,149.2 L483.9,151.4 L485.2,151.9 L486.6,152.3 L487.9,150.8 L489.3,150.5 L490.6,151.5 L491.9,152.3 L493.3,151.2 L494.6,151.3 L496.0,152.8 L497.3,152.8 L498.6,152.9 L500.0,153.9 L501.3,154.4 L502.7,155.5 L504.0,156.0 L505.3,155.5 L506.7,155.8 L508.0,156.2 L509.4,155.7 L510.7,155.9 L512.0,157.8 L513.4,157.2 L514.7,159.2 L516.1,160.0 L517.4,160.4 L518.7,161.1 L520.1,161.6 L521.4,162.5 L522.8,161.9 L524.1,161.9 L525.4,162.1 L526.8,163.9 L528.1,164.3 L529.5,163.2 L530.8,163.4 L532.1,163.6 L533.5,164.5 L534.8,165.5 L536.2,167.8 L537.5,166.1 L538.8,167.7 L540.2,168.4 L541.5,168.2 L542.9,168.8 L544.2,169.0 L545.5,169.3 L546.9,170.2 L548.2,168.8 L549.6,170.3 L550.9,169.8 L552.2,171.0 L553.6,170.8 L554.9,171.4 L556.3,171.2 L557.6,171.5 L558.9,171.0 L560.3,170.2 L561.6,171.1 L563.0,171.6 L564.3,173.0 L565.6,170.7 L567.0,171.1 L568.3,172.2 L569.7,171.1 L571.0,171.4 L572.3,173.4 L573.7,173.9 L575.0,172.5 L576.4,173.6 L577.7,174.1 L579.0,174.0 L580.4,173.8 L581.7,173.3 L583.1,171.5 L584.4,170.5 L585.7,170.4 L587.1,169.6 L588.4,170.3 L589.8,169.4 L591.1,167.5 L592.4,168.1 L593.8,168.9 L595.1,169.5 L596.5,169.6 L596.5,168.9" fill="none" stroke="#0000ff" stroke-width="2.6" stroke-linejoin="round"/></g>
<rect x="495.6" y="29.2" width="89.9" height="21" fill="#fff" stroke="#262626" stroke-width="1"/>
<line x1="500" y1="39.9" x2="542.2" y2="39.9" stroke="#000" stroke-width="5.5"/>
<text x="545" y="45.4" style="font-family:'Liberation Sans',sans-serif;font-size:15.3px" fill="#000">MME</text>
<rect x="113.1" y="17.9" width="67.6" height="205.5" fill="rgb(121,136,167)" fill-opacity="0.33"/>
<rect x="245.9" y="17.9" width="68.1" height="205.5" fill="rgb(194,100,109)" fill-opacity="0.35"/>
<rect x="517.0" y="17.9" width="64.0" height="205.5" fill="rgb(239,191,121)" fill-opacity="0.31"/>
<text x="144.9" y="219.20" text-anchor="middle" style="font-family:'Liberation Sans',sans-serif;font-size:16px;font-weight:bold" fill="#000">P1</text>
<text x="281.35" y="219.20" text-anchor="middle" style="font-family:'Liberation Sans',sans-serif;font-size:16px;font-weight:bold" fill="#000">P2</text>
<text x="548.45" y="219.20" text-anchor="middle" style="font-family:'Liberation Sans',sans-serif;font-size:16px;font-weight:bold" fill="#000">P3</text>
<g stroke="#262626" stroke-width="1.1" fill="none"><rect x="61.5" y="17.9" width="535.0" height="205.5" /><line x1="61.50" y1="223.4" x2="61.50" y2="228.9" /><line x1="61.50" y1="17.9" x2="61.50" y2="12.399999999999999" /><line x1="195.25" y1="223.4" x2="195.25" y2="228.9" /><line x1="195.25" y1="17.9" x2="195.25" y2="12.399999999999999" /><line x1="329.00" y1="223.4" x2="329.00" y2="228.9" /><line x1="329.00" y1="17.9" x2="329.00" y2="12.399999999999999" /><line x1="462.75" y1="223.4" x2="462.75" y2="228.9" /><line x1="462.75" y1="17.9" x2="462.75" y2="12.399999999999999" /><line x1="596.50" y1="223.4" x2="596.50" y2="228.9" /><line x1="596.50" y1="17.9" x2="596.50" y2="12.399999999999999" /><line x1="61.5" y1="223.40" x2="56.0" y2="223.40" /><line x1="596.5" y1="223.40" x2="602.0" y2="223.40" /><line x1="61.5" y1="197.71" x2="56.0" y2="197.71" /><line x1="596.5" y1="197.71" x2="602.0" y2="197.71" /><line x1="61.5" y1="172.03" x2="56.0" y2="172.03" /><line x1="596.5" y1="172.03" x2="602.0" y2="172.03" /><line x1="61.5" y1="146.34" x2="56.0" y2="146.34" /><line x1="596.5" y1="146.34" x2="602.0" y2="146.34" /><line x1="61.5" y1="120.65" x2="56.0" y2="120.65" /><line x1="596.5" y1="120.65" x2="602.0" y2="120.65" /><line x1="61.5" y1="94.96" x2="56.0" y2="94.96" /><line x1="596.5" y1="94.96" x2="602.0" y2="94.96" /><line x1="61.5" y1="69.28" x2="56.0" y2="69.28" /><line x1="596.5" y1="69.28" x2="602.0" y2="69.28" /><line x1="61.5" y1="43.59" x2="56.0" y2="43.59" /><line x1="596.5" y1="43.59" x2="602.0" y2="43.59" /><line x1="61.5" y1="17.90" x2="56.0" y2="17.90" /><line x1="596.5" y1="17.90" x2="602.0" y2="17.90" /></g><g fill="#262626" style="font-family:'Liberation Sans',sans-serif;font-size:17px" text-anchor="end"><text x="50.2" y="229.90">0.2</text><text x="50.2" y="204.21">0.4</text><text x="50.2" y="178.53">0.6</text><text x="50.2" y="152.84">0.8</text><text x="50.2" y="127.15">1</text><text x="50.2" y="101.46">1.2</text><text x="50.2" y="75.78">1.4</text><text x="50.2" y="50.09">1.6</text><text x="50.2" y="24.40">1.8</text></g><g fill="#262626" style="font-family:'Liberation Sans',sans-serif;font-size:17px" text-anchor="middle"><text x="61.90" y="250.40">1900</text><text x="195.65" y="250.40">2000</text><text x="329.40" y="250.40">2100</text><text x="463.15" y="250.40">2200</text><text x="596.90" y="250.40">2300</text></g>
<text x="329.00" y="12.7" text-anchor="middle" style="font-family:'Liberation Sans',sans-serif;font-size:18.7px" fill="#000">(a) ENSO amplitude change</text>
<text transform="translate(18.3,120.65) rotate(-90)" text-anchor="middle" style="font-family:'Liberation Sans',sans-serif;font-size:18.7px" fill="#262626">Niño 3.4 s.d. (°C)</text>
<g shape-rendering="geometricPrecision"><rect x="61.5" y="292.6" width="535.0" height="205.5" fill="rgb(35, 115, 180)"/><path d="M61.5,498.1 L61.5,292.6 L63.5,292.6 L65.5,292.6 L67.5,292.6 L69.5,292.6 L71.5,292.6 L73.5,292.6 L75.5,292.6 L77.5,292.6 L79.5,292.6 L81.5,292.6 L83.5,292.6 L85.5,292.6 L87.5,292.6 L89.5,292.6 L91.5,292.6 L93.5,292.6 L95.5,292.6 L97.5,292.6 L99.5,292.6 L101.5,292.6 L103.5,292.6 L105.5,292.6 L107.5,292.6 L109.5,292.6 L111.5,292.6 L113.5,292.6 L115.5,292.6 L117.5,292.6 L119.5,292.6 L121.5,292.6 L123.5,292.6 L125.5,292.6 L127.5,292.6 L129.5,292.6 L131.5,292.6 L133.5,292.6 L135.5,292.6 L137.5,292.6 L139.5,292.6 L141.5,292.6 L143.5,292.6 L145.5,292.6 L147.5,292.6 L149.5,292.6 L151.5,292.6 L153.5,292.6 L155.5,292.6 L157.5,292.6 L159.5,292.6 L161.5,292.6 L163.5,292.6 L165.5,292.6 L167.5,292.6 L169.5,292.6 L171.5,292.6 L173.5,292.6 L175.5,292.6 L177.5,292.6 L179.5,292.6 L181.5,292.6 L183.5,292.6 L185.5,292.6 L187.5,292.6 L189.5,292.6 L191.5,292.6 L193.5,292.6 L195.5,292.6 L197.5,292.6 L199.5,292.6 L201.5,292.6 L203.5,292.6 L205.5,292.6 L207.5,292.6 L209.5,292.6 L211.5,292.6 L213.5,292.6 L215.5,292.6 L217.5,292.6 L219.5,292.6 L221.5,292.6 L223.5,292.6 L225.5,292.6 L227.5,292.6 L229.5,292.6 L231.5,292.6 L233.5,292.6 L235.5,292.6 L237.5,292.6 L239.5,292.6 L241.5,292.6 L243.5,292.6 L245.5,292.6 L247.5,292.6 L249.5,292.6 L251.5,292.6 L253.5,292.6 L255.5,292.6 L257.5,292.6 L259.5,292.6 L261.5,292.6 L263.5,292.6 L265.5,292.6 L267.5,292.6 L269.5,292.6 L271.5,292.6 L273.5,292.6 L275.5,292.6 L277.5,292.6 L279.5,292.6 L281.5,292.6 L283.5,292.6 L285.5,292.6 L287.5,292.6 L289.5,292.6 L291.5,292.6 L293.5,292.6 L295.5,292.6 L297.5,292.6 L299.5,292.6 L301.5,292.6 L303.5,292.6 L305.5,292.6 L307.5,292.6 L309.5,292.6 L311.5,292.6 L313.5,292.6 L315.5,292.6 L317.5,292.6 L319.5,292.6 L321.5,292.6 L323.5,292.6 L325.5,292.6 L327.5,292.6 L329.5,292.6 L331.5,292.6 L333.5,292.6 L335.5,292.6 L337.5,292.6 L339.5,292.6 L341.5,292.6 L343.5,292.6 L345.5,292.6 L347.5,292.6 L349.5,292.6 L351.5,292.6 L353.5,292.6 L355.5,292.6 L357.5,292.6 L359.5,292.6 L361.5,292.6 L363.5,292.6 L365.5,292.6 L367.5,292.6 L369.5,292.6 L371.5,292.6 L373.5,292.6 L375.5,292.6 L377.5,292.6 L379.5,292.6 L381.5,292.6 L383.5,292.6 L385.5,292.6 L387.5,292.6 L389.5,292.6 L391.5,292.6 L393.5,292.6 L395.5,292.6 L397.5,292.6 L399.5,292.6 L401.5,292.6 L403.5,292.6 L405.5,292.6 L407.5,292.6 L409.5,292.6 L411.5,292.6 L413.5,292.6 L415.5,292.6 L417.5,292.6 L419.5,292.6 L421.5,292.6 L423.5,292.6 L425.5,292.6 L427.5,292.6 L429.5,292.6 L431.5,292.6 L433.5,292.6 L435.5,292.6 L437.5,292.6 L439.5,292.6 L441.5,292.6 L443.5,292.6 L445.5,292.6 L447.5,292.6 L449.5,292.6 L451.5,292.6 L453.5,292.6 L455.5,292.6 L457.5,292.6 L459.5,292.6 L461.5,292.6 L463.5,292.6 L465.5,292.6 L467.5,292.6 L469.5,292.6 L471.5,292.6 L473.5,292.6 L475.5,292.6 L477.5,292.6 L479.5,292.6 L481.5,292.6 L483.5,292.6 L485.5,292.6 L487.5,292.6 L489.5,292.6 L491.5,292.6 L493.5,292.6 L495.5,292.6 L497.5,292.6 L499.5,292.6 L501.5,292.6 L503.5,292.6 L505.5,292.6 L507.5,292.6 L509.5,292.6 L511.5,292.6 L513.5,292.6 L515.5,292.6 L517.5,292.6 L519.5,292.6 L521.5,292.6 L523.5,292.6 L525.5,292.6 L527.5,292.6 L529.5,292.6 L531.5,292.6 L533.5,292.6 L535.5,292.6 L537.5,292.6 L539.5,292.6 L541.5,292.6 L543.5,292.6 L545.5,292.6 L547.5,292.6 L549.5,292.6 L551.5,292.6 L553.5,292.6 L555.5,292.6 L557.5,292.6 L559.5,292.6 L561.5,292.6 L563.5,292.6 L565.5,293.0 L567.5,293.4 L569.5,293.8 L571.5,294.2 L573.5,294.7 L575.5,295.1 L577.5,295.6 L579.5,296.0 L581.5,296.5 L583.5,297.0 L585.5,297.5 L587.5,298.0 L589.5,298.5 L591.5,299.0 L593.5,299.6 L595.5,300.1 L596.5,300.4 L596.5,498.1 Z" fill="rgb(80, 155, 205)"/><path d="M61.5,498.1 L61.5,292.6 L63.5,292.6 L65.5,292.6 L67.5,292.6 L69.5,292.6 L71.5,292.6 L73.5,292.6 L75.5,292.6 L77.5,292.6 L79.5,292.6 L81.5,292.6 L83.5,292.6 L85.5,292.6 L87.5,292.6 L89.5,292.6 L91.5,292.6 L93.5,292.6 L95.5,292.6 L97.5,292.6 L99.5,292.6 L101.5,292.6 L103.5,292.6 L105.5,292.6 L107.5,292.6 L109.5,292.6 L111.5,292.6 L113.5,292.6 L115.5,292.6 L117.5,292.6 L119.5,292.6 L121.5,292.6 L123.5,292.6 L125.5,292.6 L127.5,292.6 L129.5,292.6 L131.5,292.6 L133.5,292.6 L135.5,292.6 L137.5,292.6 L139.5,292.6 L141.5,292.6 L143.5,292.6 L145.5,292.6 L147.5,292.6 L149.5,292.6 L151.5,292.6 L153.5,292.6 L155.5,292.6 L157.5,292.6 L159.5,292.6 L161.5,292.6 L163.5,292.6 L165.5,292.6 L167.5,292.6 L169.5,292.6 L171.5,292.6 L173.5,292.6 L175.5,292.6 L177.5,292.6 L179.5,292.6 L181.5,292.6 L183.5,292.6 L185.5,292.6 L187.5,292.6 L189.5,292.6 L191.5,292.6 L193.5,292.6 L195.5,292.6 L197.5,292.6 L199.5,292.6 L201.5,292.6 L203.5,292.6 L205.5,292.6 L207.5,292.6 L209.5,292.6 L211.5,292.6 L213.5,292.6 L215.5,292.6 L217.5,292.6 L219.5,292.6 L221.5,292.6 L223.5,292.6 L225.5,292.6 L227.5,292.6 L229.5,292.6 L231.5,292.6 L233.5,292.6 L235.5,292.6 L237.5,292.6 L239.5,292.6 L241.5,292.6 L243.5,292.6 L245.5,292.6 L247.5,292.6 L249.5,292.6 L251.5,292.6 L253.5,292.6 L255.5,292.6 L257.5,292.6 L259.5,292.6 L261.5,292.6 L263.5,292.6 L265.5,292.6 L267.5,292.6 L269.5,292.6 L271.5,292.6 L273.5,292.6 L275.5,292.6 L277.5,292.6 L279.5,292.6 L281.5,292.6 L283.5,292.6 L285.5,292.6 L287.5,292.6 L289.5,292.6 L291.5,292.6 L293.5,292.6 L295.5,292.6 L297.5,292.6 L299.5,292.6 L301.5,292.6 L303.5,292.6 L305.5,292.6 L307.5,292.6 L309.5,292.6 L311.5,292.6 L313.5,292.6 L315.5,292.6 L317.5,292.6 L319.5,292.6 L321.5,292.6 L323.5,292.6 L325.5,292.6 L327.5,292.6 L329.5,292.6 L331.5,292.6 L333.5,292.6 L335.5,292.6 L337.5,292.6 L339.5,292.6 L341.5,292.6 L343.5,292.6 L345.5,292.6 L347.5,292.6 L349.5,292.6 L351.5,292.6 L353.5,292.6 L355.5,292.6 L357.5,292.6 L359.5,292.6 L361.5,292.6 L363.5,292.6 L365.5,292.6 L367.5,292.6 L369.5,292.6 L371.5,292.6 L373.5,292.6 L375.5,292.6 L377.5,292.6 L379.5,292.6 L381.5,292.6 L383.5,292.6 L385.5,292.6 L387.5,292.6 L389.5,292.6 L391.5,292.6 L393.5,292.6 L395.5,292.6 L397.5,292.6 L399.5,292.6 L401.5,292.6 L403.5,292.6 L405.5,292.6 L407.5,292.6 L409.5,292.6 L411.5,292.6 L413.5,292.6 L415.5,292.6 L417.5,292.6 L419.5,292.6 L421.5,292.6 L423.5,292.6 L425.5,292.6 L427.5,292.6 L429.5,292.6 L431.5,292.6 L433.5,292.6 L435.5,292.6 L437.5,292.6 L439.5,292.6 L441.5,292.6 L443.5,292.6 L445.5,292.6 L447.5,292.6 L449.5,292.6 L451.5,292.6 L453.5,292.6 L455.5,292.6 L457.5,292.6 L459.5,292.6 L461.5,292.6 L463.5,292.6 L465.5,292.6 L467.5,292.6 L469.5,293.2 L471.5,294.6 L473.5,296.0 L475.5,297.2 L477.5,298.5 L479.5,299.6 L481.5,300.6 L483.5,301.6 L485.5,302.6 L487.5,303.5 L489.5,304.4 L491.5,305.2 L493.5,306.0 L495.5,306.7 L497.5,307.4 L499.5,308.1 L501.5,308.7 L503.5,309.2 L505.5,309.8 L507.5,310.3 L509.5,310.8 L511.5,311.3 L513.5,311.7 L515.5,312.1 L517.5,312.5 L519.5,312.9 L521.5,313.3 L523.5,313.6 L525.5,314.0 L527.5,314.3 L529.5,314.6 L531.5,315.0 L533.5,315.3 L535.5,315.5 L537.5,315.8 L539.5,316.1 L541.5,316.3 L543.5,316.5 L545.5,316.8 L547.5,316.9 L549.5,317.1 L551.5,317.3 L553.5,317.5 L555.5,317.6 L557.5,317.8 L559.5,317.9 L561.5,318.1 L563.5,318.2 L565.5,318.3 L567.5,318.5 L569.5,318.6 L571.5,318.7 L573.5,318.8 L575.5,318.9 L577.5,319.0 L579.5,319.1 L581.5,319.2 L583.5,319.3 L585.5,319.4 L587.5,319.5 L589.5,319.6 L591.5,319.6 L593.5,319.7 L595.5,319.8 L596.5,319.8 L596.5,498.1 Z" fill="rgb(128, 186, 218)"/><path d="M61.5,498.1 L61.5,292.6 L63.5,292.6 L65.5,292.6 L67.5,292.6 L69.5,292.6 L71.5,292.6 L73.5,292.6 L75.5,292.6 L77.5,292.6 L79.5,292.6 L81.5,292.6 L83.5,292.6 L85.5,292.6 L87.5,292.6 L89.5,292.6 L91.5,292.6 L93.5,292.6 L95.5,292.6 L97.5,292.6 L99.5,292.6 L101.5,292.6 L103.5,292.6 L105.5,292.6 L107.5,292.6 L109.5,292.6 L111.5,292.6 L113.5,292.6 L115.5,292.6 L117.5,292.6 L119.5,292.6 L121.5,292.6 L123.5,292.6 L125.5,292.6 L127.5,292.6 L129.5,292.6 L131.5,292.6 L133.5,292.6 L135.5,292.6 L137.5,292.6 L139.5,292.6 L141.5,292.6 L143.5,292.6 L145.5,292.6 L147.5,292.6 L149.5,292.6 L151.5,292.6 L153.5,292.6 L155.5,292.6 L157.5,292.6 L159.5,292.6 L161.5,292.6 L163.5,292.6 L165.5,292.6 L167.5,292.6 L169.5,292.6 L171.5,292.6 L173.5,292.6 L175.5,292.6 L177.5,292.6 L179.5,292.6 L181.5,292.6 L183.5,292.6 L185.5,292.6 L187.5,292.6 L189.5,292.6 L191.5,292.6 L193.5,292.6 L195.5,292.6 L197.5,292.6 L199.5,292.6 L201.5,292.6 L203.5,292.6 L205.5,292.6 L207.5,292.6 L209.5,292.6 L211.5,292.6 L213.5,292.6 L215.5,292.6 L217.5,292.6 L219.5,292.6 L221.5,292.6 L223.5,292.6 L225.5,292.6 L227.5,292.6 L229.5,292.6 L231.5,292.6 L233.5,292.6 L235.5,292.6 L237.5,292.6 L239.5,292.6 L241.5,292.6 L243.5,292.6 L245.5,292.6 L247.5,292.6 L249.5,292.6 L251.5,292.6 L253.5,292.6 L255.5,292.6 L257.5,292.6 L259.5,292.6 L261.5,292.6 L263.5,292.6 L265.5,292.6 L267.5,292.6 L269.5,292.6 L271.5,292.6 L273.5,292.6 L275.5,292.6 L277.5,292.6 L279.5,292.6 L281.5,292.6 L283.5,292.6 L285.5,292.6 L287.5,292.6 L289.5,292.6 L291.5,292.6 L293.5,292.6 L295.5,292.6 L297.5,292.6 L299.5,292.6 L301.5,292.6 L303.5,292.6 L305.5,292.6 L307.5,292.6 L309.5,292.6 L311.5,292.6 L313.5,292.6 L315.5,292.6 L317.5,292.6 L319.5,292.6 L321.5,292.6 L323.5,292.6 L325.5,292.6 L327.5,292.6 L329.5,292.6 L331.5,292.6 L333.5,292.6 L335.5,292.6 L337.5,292.6 L339.5,292.6 L341.5,292.6 L343.5,292.6 L345.5,292.6 L347.5,292.6 L349.5,292.6 L351.5,292.6 L353.5,292.6 L355.5,292.6 L357.5,292.6 L359.5,292.6 L361.5,292.6 L363.5,292.6 L365.5,292.6 L367.5,292.6 L369.5,292.6 L371.5,292.6 L373.5,292.6 L375.5,292.6 L377.5,292.6 L379.5,292.6 L381.5,292.6 L383.5,292.6 L385.5,292.6 L387.5,292.6 L389.5,292.6 L391.5,292.6 L393.5,292.6 L395.5,292.6 L397.5,292.6 L399.5,292.6 L401.5,292.6 L403.5,292.6 L405.5,292.6 L407.5,292.6 L409.5,292.6 L411.5,292.6 L413.5,292.6 L415.5,292.6 L417.5,292.6 L419.5,295.1 L421.5,297.6 L423.5,299.9 L425.5,302.1 L427.5,303.9 L429.5,305.3 L431.5,306.5 L433.5,307.6 L435.5,308.6 L437.5,309.6 L439.5,310.5 L441.5,311.3 L443.5,312.1 L445.5,312.9 L447.5,313.6 L449.5,314.2 L451.5,314.8 L453.5,315.4 L455.5,316.0 L457.5,316.6 L459.5,317.1 L461.5,317.6 L463.5,318.1 L465.5,318.5 L467.5,319.0 L469.5,319.4 L471.5,319.8 L473.5,320.2 L475.5,320.6 L477.5,320.9 L479.5,321.3 L481.5,321.7 L483.5,322.0 L485.5,322.3 L487.5,322.7 L489.5,323.0 L491.5,323.4 L493.5,323.7 L495.5,324.0 L497.5,324.4 L499.5,324.7 L501.5,325.0 L503.5,325.3 L505.5,325.6 L507.5,325.9 L509.5,326.1 L511.5,326.4 L513.5,326.6 L515.5,326.9 L517.5,327.1 L519.5,327.3 L521.5,327.5 L523.5,327.7 L525.5,327.8 L527.5,328.0 L529.5,328.2 L531.5,328.3 L533.5,328.5 L535.5,328.6 L537.5,328.8 L539.5,328.9 L541.5,329.1 L543.5,329.2 L545.5,329.4 L547.5,329.5 L549.5,329.7 L551.5,329.8 L553.5,329.9 L555.5,330.1 L557.5,330.2 L559.5,330.3 L561.5,330.5 L563.5,330.6 L565.5,330.7 L567.5,330.9 L569.5,331.0 L571.5,331.1 L573.5,331.3 L575.5,331.4 L577.5,331.6 L579.5,331.7 L581.5,331.8 L583.5,332.0 L585.5,332.1 L587.5,332.3 L589.5,332.4 L591.5,332.5 L593.5,332.7 L595.5,332.8 L596.5,332.9 L596.5,498.1 Z" fill="rgb(170, 208, 230)"/><path d="M61.5,498.1 L61.5,292.6 L63.5,292.6 L65.5,292.6 L67.5,292.6 L69.5,292.6 L71.5,292.6 L73.5,292.6 L75.5,292.6 L77.5,292.6 L79.5,292.6 L81.5,292.6 L83.5,292.6 L85.5,292.6 L87.5,292.6 L89.5,292.6 L91.5,292.6 L93.5,292.6 L95.5,292.6 L97.5,292.6 L99.5,292.6 L101.5,292.6 L103.5,292.6 L105.5,292.6 L107.5,292.6 L109.5,292.6 L111.5,292.6 L113.5,292.6 L115.5,292.6 L117.5,292.6 L119.5,292.6 L121.5,292.6 L123.5,292.6 L125.5,292.6 L127.5,292.6 L129.5,292.6 L131.5,292.6 L133.5,292.6 L135.5,292.6 L137.5,292.6 L139.5,292.6 L141.5,292.6 L143.5,292.6 L145.5,292.6 L147.5,292.6 L149.5,292.6 L151.5,292.6 L153.5,292.6 L155.5,292.6 L157.5,292.6 L159.5,292.6 L161.5,292.6 L163.5,292.6 L165.5,292.6 L167.5,292.6 L169.5,292.6 L171.5,292.6 L173.5,292.6 L175.5,292.6 L177.5,292.6 L179.5,292.6 L181.5,292.6 L183.5,292.6 L185.5,292.6 L187.5,292.6 L189.5,292.6 L191.5,292.6 L193.5,292.6 L195.5,292.6 L197.5,292.6 L199.5,292.6 L201.5,292.6 L203.5,292.6 L205.5,292.6 L207.5,292.6 L209.5,292.6 L211.5,292.6 L213.5,292.6 L215.5,292.6 L217.5,292.6 L219.5,292.6 L221.5,292.6 L223.5,292.6 L225.5,292.6 L227.5,292.6 L229.5,292.6 L231.5,292.6 L233.5,292.6 L235.5,292.6 L237.5,292.6 L239.5,292.6 L241.5,292.6 L243.5,292.6 L245.5,292.6 L247.5,292.6 L249.5,292.6 L251.5,292.6 L253.5,292.6 L255.5,292.6 L257.5,292.6 L259.5,292.6 L261.5,292.6 L263.5,292.6 L265.5,292.6 L267.5,292.6 L269.5,292.6 L271.5,292.6 L273.5,292.6 L275.5,292.6 L277.5,292.6 L279.5,292.6 L281.5,292.6 L283.5,292.6 L285.5,292.6 L287.5,292.6 L289.5,292.6 L291.5,292.6 L293.5,292.6 L295.5,292.6 L297.5,292.6 L299.5,292.6 L301.5,292.6 L303.5,292.6 L305.5,292.6 L307.5,292.6 L309.5,292.6 L311.5,292.6 L313.5,292.6 L315.5,292.6 L317.5,292.6 L319.5,292.6 L321.5,292.6 L323.5,292.6 L325.5,292.6 L327.5,292.6 L329.5,292.6 L331.5,292.6 L333.5,292.6 L335.5,292.6 L337.5,292.6 L339.5,292.6 L341.5,292.6 L343.5,292.6 L345.5,292.6 L347.5,292.6 L349.5,292.6 L351.5,292.6 L353.5,292.6 L355.5,292.6 L357.5,292.6 L359.5,292.6 L361.5,292.6 L363.5,292.6 L365.5,292.6 L367.5,292.6 L369.5,292.6 L371.5,292.6 L373.5,292.6 L375.5,292.6 L377.5,293.3 L379.5,295.1 L381.5,297.0 L383.5,298.8 L385.5,300.7 L387.5,302.5 L389.5,304.5 L391.5,306.6 L393.5,308.6 L395.5,310.5 L397.5,312.2 L399.5,313.6 L401.5,314.7 L403.5,315.7 L405.5,316.6 L407.5,317.4 L409.5,318.2 L411.5,319.0 L413.5,319.6 L415.5,320.3 L417.5,320.9 L419.5,321.5 L421.5,322.1 L423.5,322.6 L425.5,323.1 L427.5,323.7 L429.5,324.2 L431.5,324.7 L433.5,325.2 L435.5,325.6 L437.5,326.1 L439.5,326.5 L441.5,326.9 L443.5,327.3 L445.5,327.7 L447.5,328.1 L449.5,328.4 L451.5,328.8 L453.5,329.2 L455.5,329.5 L457.5,329.8 L459.5,330.2 L461.5,330.5 L463.5,330.8 L465.5,331.2 L467.5,331.5 L469.5,331.8 L471.5,332.1 L473.5,332.4 L475.5,332.7 L477.5,333.0 L479.5,333.3 L481.5,333.6 L483.5,333.9 L485.5,334.1 L487.5,334.4 L489.5,334.6 L491.5,334.9 L493.5,335.1 L495.5,335.4 L497.5,335.6 L499.5,335.8 L501.5,336.0 L503.5,336.2 L505.5,336.4 L507.5,336.6 L509.5,336.8 L511.5,337.0 L513.5,337.2 L515.5,337.4 L517.5,337.6 L519.5,337.7 L521.5,337.9 L523.5,338.1 L525.5,338.2 L527.5,338.4 L529.5,338.5 L531.5,338.7 L533.5,338.9 L535.5,339.0 L537.5,339.2 L539.5,339.3 L541.5,339.5 L543.5,339.6 L545.5,339.8 L547.5,339.9 L549.5,340.0 L551.5,340.2 L553.5,340.3 L555.5,340.5 L557.5,340.6 L559.5,340.7 L561.5,340.9 L563.5,341.0 L565.5,341.1 L567.5,341.3 L569.5,341.4 L571.5,341.5 L573.5,341.7 L575.5,341.8 L577.5,341.9 L579.5,342.1 L581.5,342.2 L583.5,342.3 L585.5,342.4 L587.5,342.6 L589.5,342.7 L591.5,342.8 L593.5,342.9 L595.5,343.0 L596.5,343.1 L596.5,498.1 Z" fill="rgb(212, 230, 241)"/><path d="M61.5,498.1 L61.5,292.6 L63.5,292.6 L65.5,292.6 L67.5,292.6 L69.5,292.6 L71.5,292.6 L73.5,292.6 L75.5,292.6 L77.5,292.6 L79.5,292.6 L81.5,292.6 L83.5,292.6 L85.5,292.6 L87.5,292.6 L89.5,292.6 L91.5,292.6 L93.5,292.6 L95.5,292.6 L97.5,292.6 L99.5,292.6 L101.5,292.6 L103.5,292.6 L105.5,292.6 L107.5,292.6 L109.5,292.6 L111.5,292.6 L113.5,292.6 L115.5,292.6 L117.5,292.6 L119.5,292.6 L121.5,292.6 L123.5,292.6 L125.5,292.6 L127.5,292.6 L129.5,292.6 L131.5,292.6 L133.5,292.6 L135.5,292.6 L137.5,292.6 L139.5,292.6 L141.5,292.6 L143.5,292.6 L145.5,292.6 L147.5,292.6 L149.5,292.6 L151.5,292.6 L153.5,292.6 L155.5,292.6 L157.5,292.6 L159.5,292.6 L161.5,292.6 L163.5,292.6 L165.5,292.6 L167.5,292.6 L169.5,292.6 L171.5,292.6 L173.5,292.6 L175.5,292.6 L177.5,292.6 L179.5,292.6 L181.5,292.6 L183.5,292.6 L185.5,292.6 L187.5,292.6 L189.5,292.6 L191.5,292.6 L193.5,292.6 L195.5,292.6 L197.5,292.6 L199.5,292.6 L201.5,292.6 L203.5,292.6 L205.5,292.6 L207.5,292.6 L209.5,292.6 L211.5,292.6 L213.5,292.6 L215.5,292.6 L217.5,292.6 L219.5,292.6 L221.5,292.6 L223.5,292.6 L225.5,292.6 L227.5,292.6 L229.5,292.6 L231.5,292.6 L233.5,292.6 L235.5,292.6 L237.5,292.6 L239.5,292.6 L241.5,292.6 L243.5,292.6 L245.5,292.6 L247.5,292.6 L249.5,292.6 L251.5,292.6 L253.5,292.6 L255.5,292.6 L257.5,292.6 L259.5,292.6 L261.5,292.6 L263.5,292.6 L265.5,292.6 L267.5,292.6 L269.5,292.6 L271.5,292.6 L273.5,292.6 L275.5,292.6 L277.5,292.6 L279.5,292.6 L281.5,292.6 L283.5,292.6 L285.5,292.6 L287.5,292.6 L289.5,292.6 L291.5,292.6 L293.5,292.6 L295.5,292.6 L297.5,292.6 L299.5,292.6 L301.5,292.6 L303.5,292.6 L305.5,292.6 L307.5,292.6 L309.5,292.6 L311.5,292.6 L313.5,292.6 L315.5,292.6 L317.5,292.6 L319.5,292.6 L321.5,292.6 L323.5,292.6 L325.5,292.6 L327.5,292.6 L329.5,292.6 L331.5,292.6 L333.5,292.6 L335.5,293.5 L337.5,296.1 L339.5,298.6 L341.5,301.0 L343.5,303.2 L345.5,305.3 L347.5,307.3 L349.5,309.3 L351.5,311.2 L353.5,313.0 L355.5,314.8 L357.5,316.6 L359.5,318.3 L361.5,319.9 L363.5,321.3 L365.5,322.7 L367.5,323.9 L369.5,325.1 L371.5,326.2 L373.5,327.3 L375.5,328.2 L377.5,329.1 L379.5,329.9 L381.5,330.6 L383.5,331.2 L385.5,331.7 L387.5,332.2 L389.5,332.6 L391.5,333.1 L393.5,333.4 L395.5,333.8 L397.5,334.2 L399.5,334.5 L401.5,334.9 L403.5,335.2 L405.5,335.5 L407.5,335.8 L409.5,336.1 L411.5,336.3 L413.5,336.6 L415.5,336.9 L417.5,337.1 L419.5,337.4 L421.5,337.6 L423.5,337.9 L425.5,338.2 L427.5,338.5 L429.5,338.7 L431.5,339.0 L433.5,339.3 L435.5,339.7 L437.5,340.0 L439.5,340.3 L441.5,340.6 L443.5,340.9 L445.5,341.2 L447.5,341.5 L449.5,341.9 L451.5,342.2 L453.5,342.4 L455.5,342.7 L457.5,343.0 L459.5,343.2 L461.5,343.5 L463.5,343.7 L465.5,344.0 L467.5,344.2 L469.5,344.5 L471.5,344.7 L473.5,344.9 L475.5,345.1 L477.5,345.4 L479.5,345.6 L481.5,345.8 L483.5,346.0 L485.5,346.2 L487.5,346.4 L489.5,346.6 L491.5,346.8 L493.5,347.0 L495.5,347.2 L497.5,347.3 L499.5,347.5 L501.5,347.7 L503.5,347.8 L505.5,348.0 L507.5,348.2 L509.5,348.3 L511.5,348.4 L513.5,348.6 L515.5,348.7 L517.5,348.9 L519.5,349.0 L521.5,349.1 L523.5,349.3 L525.5,349.4 L527.5,349.5 L529.5,349.7 L531.5,349.8 L533.5,349.9 L535.5,350.1 L537.5,350.2 L539.5,350.4 L541.5,350.5 L543.5,350.6 L545.5,350.8 L547.5,350.9 L549.5,351.1 L551.5,351.2 L553.5,351.3 L555.5,351.4 L557.5,351.6 L559.5,351.7 L561.5,351.8 L563.5,351.9 L565.5,352.0 L567.5,352.1 L569.5,352.2 L571.5,352.3 L573.5,352.4 L575.5,352.5 L577.5,352.6 L579.5,352.7 L581.5,352.7 L583.5,352.8 L585.5,352.9 L587.5,353.0 L589.5,353.1 L591.5,353.1 L593.5,353.2 L595.5,353.3 L596.5,353.3 L596.5,498.1 Z" fill="rgb(236, 241, 245)"/><path d="M61.5,498.1 L61.5,292.6 L63.5,292.6 L65.5,292.6 L67.5,292.6 L69.5,292.6 L71.5,292.6 L73.5,292.6 L75.5,292.6 L77.5,292.6 L79.5,292.6 L81.5,292.6 L83.5,292.6 L85.5,292.6 L87.5,292.6 L89.5,292.6 L91.5,292.6 L93.5,292.6 L95.5,292.6 L97.5,292.6 L99.5,292.6 L101.5,292.6 L103.5,292.6 L105.5,292.6 L107.5,292.6 L109.5,292.6 L111.5,292.6 L113.5,292.6 L115.5,292.6 L117.5,292.6 L119.5,292.6 L121.5,292.6 L123.5,292.6 L125.5,292.6 L127.5,292.6 L129.5,292.6 L131.5,292.6 L133.5,292.6 L135.5,292.6 L137.5,292.6 L139.5,292.6 L141.5,292.6 L143.5,292.6 L145.5,292.6 L147.5,292.6 L149.5,292.6 L151.5,292.6 L153.5,292.6 L155.5,292.6 L157.5,292.6 L159.5,292.6 L161.5,292.6 L163.5,292.6 L165.5,292.6 L167.5,292.6 L169.5,292.6 L171.5,292.6 L173.5,292.6 L175.5,292.6 L177.5,292.6 L179.5,292.6 L181.5,292.6 L183.5,292.6 L185.5,292.6 L187.5,292.6 L189.5,292.6 L191.5,292.6 L193.5,292.6 L195.5,292.6 L197.5,292.6 L199.5,292.6 L201.5,292.6 L203.5,292.6 L205.5,292.6 L207.5,292.6 L209.5,292.6 L211.5,292.6 L213.5,292.6 L215.5,292.6 L217.5,292.6 L219.5,292.6 L221.5,292.6 L223.5,292.6 L225.5,292.6 L227.5,292.6 L229.5,292.6 L231.5,292.6 L233.5,292.6 L235.5,292.6 L237.5,292.6 L239.5,292.6 L241.5,292.6 L243.5,292.6 L245.5,292.6 L247.5,292.6 L249.5,292.6 L251.5,292.6 L253.5,292.6 L255.5,292.6 L257.5,292.6 L259.5,292.6 L261.5,292.6 L263.5,292.6 L265.5,292.6 L267.5,292.6 L269.5,292.6 L271.5,292.6 L273.5,292.6 L275.5,292.6 L277.5,292.6 L279.5,292.6 L281.5,294.4 L283.5,296.7 L285.5,298.8 L287.5,300.8 L289.5,302.7 L291.5,304.4 L293.5,306.1 L295.5,307.7 L297.5,309.3 L299.5,310.9 L301.5,312.6 L303.5,314.3 L305.5,316.2 L307.5,318.0 L309.5,319.9 L311.5,321.7 L313.5,323.3 L315.5,325.0 L317.5,326.6 L319.5,328.2 L321.5,329.8 L323.5,331.3 L325.5,332.7 L327.5,333.9 L329.5,334.9 L331.5,335.8 L333.5,336.6 L335.5,337.3 L337.5,337.9 L339.5,338.5 L341.5,339.1 L343.5,339.6 L345.5,340.1 L347.5,340.6 L349.5,341.1 L351.5,341.7 L353.5,342.2 L355.5,342.8 L357.5,343.3 L359.5,343.9 L361.5,344.4 L363.5,344.9 L365.5,345.5 L367.5,346.0 L369.5,346.5 L371.5,347.0 L373.5,347.4 L375.5,347.8 L377.5,348.2 L379.5,348.6 L381.5,349.0 L383.5,349.4 L385.5,349.7 L387.5,350.1 L389.5,350.4 L391.5,350.7 L393.5,351.0 L395.5,351.3 L397.5,351.5 L399.5,351.7 L401.5,351.9 L403.5,352.1 L405.5,352.3 L407.5,352.5 L409.5,352.7 L411.5,352.8 L413.5,353.0 L415.5,353.1 L417.5,353.3 L419.5,353.4 L421.5,353.5 L423.5,353.7 L425.5,353.8 L427.5,353.9 L429.5,354.0 L431.5,354.1 L433.5,354.2 L435.5,354.4 L437.5,354.5 L439.5,354.6 L441.5,354.7 L443.5,354.8 L445.5,354.9 L447.5,355.0 L449.5,355.1 L451.5,355.2 L453.5,355.3 L455.5,355.4 L457.5,355.5 L459.5,355.7 L461.5,355.8 L463.5,355.9 L465.5,356.0 L467.5,356.1 L469.5,356.2 L471.5,356.3 L473.5,356.4 L475.5,356.5 L477.5,356.6 L479.5,356.7 L481.5,356.8 L483.5,356.9 L485.5,357.0 L487.5,357.1 L489.5,357.2 L491.5,357.3 L493.5,357.4 L495.5,357.5 L497.5,357.6 L499.5,357.7 L501.5,357.8 L503.5,357.9 L505.5,358.1 L507.5,358.2 L509.5,358.3 L511.5,358.4 L513.5,358.5 L515.5,358.7 L517.5,358.8 L519.5,358.9 L521.5,359.1 L523.5,359.2 L525.5,359.3 L527.5,359.4 L529.5,359.6 L531.5,359.7 L533.5,359.8 L535.5,360.0 L537.5,360.1 L539.5,360.2 L541.5,360.3 L543.5,360.4 L545.5,360.6 L547.5,360.7 L549.5,360.8 L551.5,360.9 L553.5,361.0 L555.5,361.2 L557.5,361.3 L559.5,361.4 L561.5,361.5 L563.5,361.6 L565.5,361.7 L567.5,361.9 L569.5,362.0 L571.5,362.1 L573.5,362.2 L575.5,362.3 L577.5,362.4 L579.5,362.6 L581.5,362.7 L583.5,362.8 L585.5,362.9 L587.5,363.0 L589.5,363.1 L591.5,363.2 L593.5,363.3 L595.5,363.4 L596.5,363.5 L596.5,498.1 Z" fill="rgb(247, 236, 232)"/><path d="M61.5,498.1 L61.5,314.4 L63.5,314.5 L65.5,314.5 L67.5,314.6 L69.5,314.6 L71.5,314.7 L73.5,314.8 L75.5,314.8 L77.5,314.9 L79.5,315.0 L81.5,315.0 L83.5,315.1 L85.5,315.2 L87.5,315.3 L89.5,315.3 L91.5,315.4 L93.5,315.5 L95.5,315.6 L97.5,315.7 L99.5,315.8 L101.5,315.9 L103.5,315.9 L105.5,316.0 L107.5,316.1 L109.5,316.2 L111.5,316.3 L113.5,316.4 L115.5,316.5 L117.5,316.6 L119.5,316.7 L121.5,316.8 L123.5,316.9 L125.5,317.0 L127.5,317.1 L129.5,317.2 L131.5,317.3 L133.5,317.4 L135.5,317.5 L137.5,317.6 L139.5,317.8 L141.5,317.9 L143.5,318.0 L145.5,318.1 L147.5,318.3 L149.5,318.4 L151.5,318.5 L153.5,318.7 L155.5,318.8 L157.5,318.9 L159.5,319.1 L161.5,319.2 L163.5,319.4 L165.5,319.6 L167.5,319.7 L169.5,319.9 L171.5,320.1 L173.5,320.3 L175.5,320.4 L177.5,320.6 L179.5,320.8 L181.5,321.0 L183.5,321.3 L185.5,321.5 L187.5,321.8 L189.5,322.1 L191.5,322.4 L193.5,322.7 L195.5,323.0 L197.5,323.4 L199.5,323.7 L201.5,324.1 L203.5,324.4 L205.5,324.8 L207.5,325.2 L209.5,325.6 L211.5,326.1 L213.5,326.5 L215.5,326.9 L217.5,327.4 L219.5,327.8 L221.5,328.3 L223.5,328.9 L225.5,329.5 L227.5,330.1 L229.5,330.8 L231.5,331.5 L233.5,332.2 L235.5,332.9 L237.5,333.5 L239.5,334.2 L241.5,334.9 L243.5,335.6 L245.5,336.2 L247.5,336.8 L249.5,337.4 L251.5,337.9 L253.5,338.4 L255.5,339.0 L257.5,339.4 L259.5,339.9 L261.5,340.4 L263.5,340.9 L265.5,341.3 L267.5,341.8 L269.5,342.3 L271.5,342.7 L273.5,343.2 L275.5,343.7 L277.5,344.2 L279.5,344.7 L281.5,345.2 L283.5,345.7 L285.5,346.3 L287.5,346.9 L289.5,347.5 L291.5,348.1 L293.5,348.8 L295.5,349.4 L297.5,350.1 L299.5,350.7 L301.5,351.3 L303.5,351.9 L305.5,352.4 L307.5,352.9 L309.5,353.4 L311.5,353.8 L313.5,354.3 L315.5,354.7 L317.5,355.2 L319.5,355.6 L321.5,356.0 L323.5,356.3 L325.5,356.7 L327.5,357.0 L329.5,357.3 L331.5,357.6 L333.5,357.8 L335.5,358.1 L337.5,358.3 L339.5,358.5 L341.5,358.7 L343.5,358.9 L345.5,359.0 L347.5,359.2 L349.5,359.4 L351.5,359.6 L353.5,359.8 L355.5,360.0 L357.5,360.2 L359.5,360.4 L361.5,360.6 L363.5,360.9 L365.5,361.1 L367.5,361.3 L369.5,361.5 L371.5,361.7 L373.5,361.8 L375.5,362.0 L377.5,362.2 L379.5,362.3 L381.5,362.4 L383.5,362.6 L385.5,362.7 L387.5,362.8 L389.5,363.0 L391.5,363.1 L393.5,363.2 L395.5,363.3 L397.5,363.4 L399.5,363.5 L401.5,363.6 L403.5,363.6 L405.5,363.7 L407.5,363.8 L409.5,363.9 L411.5,363.9 L413.5,364.0 L415.5,364.0 L417.5,364.1 L419.5,364.2 L421.5,364.2 L423.5,364.3 L425.5,364.3 L427.5,364.4 L429.5,364.4 L431.5,364.5 L433.5,364.5 L435.5,364.6 L437.5,364.6 L439.5,364.7 L441.5,364.8 L443.5,364.8 L445.5,364.9 L447.5,365.0 L449.5,365.1 L451.5,365.1 L453.5,365.2 L455.5,365.3 L457.5,365.4 L459.5,365.5 L461.5,365.6 L463.5,365.7 L465.5,365.8 L467.5,365.9 L469.5,366.0 L471.5,366.1 L473.5,366.2 L475.5,366.3 L477.5,366.4 L479.5,366.5 L481.5,366.6 L483.5,366.7 L485.5,366.9 L487.5,367.0 L489.5,367.1 L491.5,367.3 L493.5,367.4 L495.5,367.6 L497.5,367.7 L499.5,367.9 L501.5,368.0 L503.5,368.2 L505.5,368.4 L507.5,368.6 L509.5,368.8 L511.5,369.0 L513.5,369.2 L515.5,369.3 L517.5,369.5 L519.5,369.7 L521.5,369.9 L523.5,370.1 L525.5,370.3 L527.5,370.5 L529.5,370.7 L531.5,371.0 L533.5,371.2 L535.5,371.4 L537.5,371.6 L539.5,371.9 L541.5,372.1 L543.5,372.3 L545.5,372.6 L547.5,372.8 L549.5,373.0 L551.5,373.3 L553.5,373.5 L555.5,373.8 L557.5,374.0 L559.5,374.2 L561.5,374.5 L563.5,374.7 L565.5,374.9 L567.5,375.1 L569.5,375.3 L571.5,375.5 L573.5,375.7 L575.5,375.9 L577.5,376.1 L579.5,376.3 L581.5,376.5 L583.5,376.7 L585.5,376.9 L587.5,377.1 L589.5,377.3 L591.5,377.5 L593.5,377.7 L595.5,377.9 L596.5,378.0 L596.5,498.1 Z" fill="rgb(251, 219, 200)"/><path d="M61.5,498.1 L61.5,366.0 L63.5,366.1 L65.5,366.1 L67.5,366.2 L69.5,366.3 L71.5,366.3 L73.5,366.4 L75.5,366.4 L77.5,366.5 L79.5,366.5 L81.5,366.5 L83.5,366.6 L85.5,366.6 L87.5,366.6 L89.5,366.7 L91.5,366.7 L93.5,366.7 L95.5,366.7 L97.5,366.8 L99.5,366.8 L101.5,366.8 L103.5,366.8 L105.5,366.8 L107.5,366.8 L109.5,366.9 L111.5,366.9 L113.5,366.9 L115.5,366.9 L117.5,366.9 L119.5,366.9 L121.5,366.9 L123.5,366.9 L125.5,366.9 L127.5,366.9 L129.5,366.9 L131.5,366.9 L133.5,366.9 L135.5,366.9 L137.5,366.9 L139.5,366.9 L141.5,366.9 L143.5,366.9 L145.5,366.8 L147.5,366.8 L149.5,366.7 L151.5,366.6 L153.5,366.5 L155.5,366.4 L157.5,366.3 L159.5,366.3 L161.5,366.2 L163.5,366.1 L165.5,366.0 L167.5,365.9 L169.5,365.8 L171.5,365.8 L173.5,365.7 L175.5,365.7 L177.5,365.7 L179.5,365.7 L181.5,365.7 L183.5,365.7 L185.5,365.8 L187.5,365.8 L189.5,365.8 L191.5,365.9 L193.5,365.9 L195.5,366.0 L197.5,366.1 L199.5,366.1 L201.5,366.2 L203.5,366.3 L205.5,366.4 L207.5,366.4 L209.5,366.5 L211.5,366.6 L213.5,366.7 L215.5,366.8 L217.5,366.9 L219.5,367.0 L221.5,367.1 L223.5,367.3 L225.5,367.4 L227.5,367.6 L229.5,367.8 L231.5,368.0 L233.5,368.3 L235.5,368.5 L237.5,368.7 L239.5,369.0 L241.5,369.2 L243.5,369.4 L245.5,369.7 L247.5,369.9 L249.5,370.1 L251.5,370.3 L253.5,370.5 L255.5,370.7 L257.5,370.8 L259.5,371.0 L261.5,371.1 L263.5,371.3 L265.5,371.4 L267.5,371.6 L269.5,371.7 L271.5,371.9 L273.5,372.0 L275.5,372.1 L277.5,372.3 L279.5,372.4 L281.5,372.5 L283.5,372.6 L285.5,372.8 L287.5,372.9 L289.5,373.0 L291.5,373.1 L293.5,373.2 L295.5,373.3 L297.5,373.4 L299.5,373.5 L301.5,373.6 L303.5,373.7 L305.5,373.8 L307.5,373.8 L309.5,373.9 L311.5,374.0 L313.5,374.0 L315.5,374.1 L317.5,374.1 L319.5,374.2 L321.5,374.3 L323.5,374.3 L325.5,374.4 L327.5,374.4 L329.5,374.5 L331.5,374.5 L333.5,374.6 L335.5,374.7 L337.5,374.7 L339.5,374.8 L341.5,374.8 L343.5,374.9 L345.5,374.9 L347.5,375.0 L349.5,375.1 L351.5,375.1 L353.5,375.2 L355.5,375.2 L357.5,375.3 L359.5,375.4 L361.5,375.5 L363.5,375.5 L365.5,375.6 L367.5,375.7 L369.5,375.8 L371.5,375.9 L373.5,376.0 L375.5,376.2 L377.5,376.4 L379.5,376.5 L381.5,376.7 L383.5,376.9 L385.5,377.1 L387.5,377.3 L389.5,377.6 L391.5,377.8 L393.5,378.0 L395.5,378.2 L397.5,378.5 L399.5,378.7 L401.5,378.9 L403.5,379.1 L405.5,379.4 L407.5,379.6 L409.5,379.8 L411.5,380.0 L413.5,380.2 L415.5,380.3 L417.5,380.5 L419.5,380.7 L421.5,380.9 L423.5,381.1 L425.5,381.3 L427.5,381.4 L429.5,381.6 L431.5,381.8 L433.5,382.0 L435.5,382.2 L437.5,382.4 L439.5,382.6 L441.5,382.8 L443.5,383.0 L445.5,383.2 L447.5,383.4 L449.5,383.6 L451.5,383.9 L453.5,384.1 L455.5,384.3 L457.5,384.6 L459.5,384.8 L461.5,385.1 L463.5,385.4 L465.5,385.6 L467.5,385.9 L469.5,386.2 L471.5,386.4 L473.5,386.7 L475.5,386.9 L477.5,387.2 L479.5,387.5 L481.5,387.7 L483.5,388.0 L485.5,388.2 L487.5,388.5 L489.5,388.7 L491.5,389.0 L493.5,389.2 L495.5,389.4 L497.5,389.7 L499.5,389.9 L501.5,390.1 L503.5,390.3 L505.5,390.6 L507.5,390.8 L509.5,391.0 L511.5,391.2 L513.5,391.5 L515.5,391.7 L517.5,391.9 L519.5,392.1 L521.5,392.4 L523.5,392.6 L525.5,392.8 L527.5,393.0 L529.5,393.3 L531.5,393.5 L533.5,393.7 L535.5,394.0 L537.5,394.2 L539.5,394.5 L541.5,394.7 L543.5,394.9 L545.5,395.2 L547.5,395.4 L549.5,395.6 L551.5,395.9 L553.5,396.1 L555.5,396.3 L557.5,396.5 L559.5,396.7 L561.5,396.9 L563.5,397.1 L565.5,397.3 L567.5,397.5 L569.5,397.7 L571.5,397.8 L573.5,398.0 L575.5,398.2 L577.5,398.3 L579.5,398.5 L581.5,398.6 L583.5,398.8 L585.5,398.9 L587.5,399.0 L589.5,399.2 L591.5,399.3 L593.5,399.4 L595.5,399.5 L596.5,399.6 L596.5,498.1 Z" fill="rgb(246, 186, 157)"/><path d="M61.5,498.1 L61.5,392.5 L63.5,392.5 L65.5,392.5 L67.5,392.4 L69.5,392.4 L71.5,392.4 L73.5,392.4 L75.5,392.3 L77.5,392.3 L79.5,392.3 L81.5,392.3 L83.5,392.3 L85.5,392.2 L87.5,392.2 L89.5,392.2 L91.5,392.2 L93.5,392.2 L95.5,392.1 L97.5,392.1 L99.5,392.1 L101.5,392.1 L103.5,392.1 L105.5,392.1 L107.5,392.0 L109.5,392.0 L111.5,392.0 L113.5,392.0 L115.5,392.0 L117.5,392.0 L119.5,391.9 L121.5,391.9 L123.5,391.9 L125.5,391.9 L127.5,391.9 L129.5,391.9 L131.5,391.9 L133.5,391.8 L135.5,391.8 L137.5,391.8 L139.5,391.8 L141.5,391.8 L143.5,391.8 L145.5,391.8 L147.5,391.8 L149.5,391.8 L151.5,391.8 L153.5,391.7 L155.5,391.7 L157.5,391.7 L159.5,391.7 L161.5,391.7 L163.5,391.7 L165.5,391.7 L167.5,391.7 L169.5,391.7 L171.5,391.7 L173.5,391.7 L175.5,391.7 L177.5,391.7 L179.5,391.7 L181.5,391.7 L183.5,391.7 L185.5,391.7 L187.5,391.7 L189.5,391.7 L191.5,391.7 L193.5,391.7 L195.5,391.7 L197.5,391.7 L199.5,391.7 L201.5,391.7 L203.5,391.7 L205.5,391.7 L207.5,391.7 L209.5,391.7 L211.5,391.7 L213.5,391.7 L215.5,391.7 L217.5,391.7 L219.5,391.7 L221.5,391.7 L223.5,391.7 L225.5,391.7 L227.5,391.7 L229.5,391.7 L231.5,391.7 L233.5,391.7 L235.5,391.7 L237.5,391.7 L239.5,391.7 L241.5,391.7 L243.5,391.7 L245.5,391.7 L247.5,391.7 L249.5,391.7 L251.5,391.7 L253.5,391.7 L255.5,391.7 L257.5,391.7 L259.5,391.7 L261.5,391.7 L263.5,391.7 L265.5,391.7 L267.5,391.7 L269.5,391.7 L271.5,391.7 L273.5,391.7 L275.5,391.7 L277.5,391.8 L279.5,391.8 L281.5,391.8 L283.5,391.8 L285.5,391.8 L287.5,391.8 L289.5,391.8 L291.5,391.9 L293.5,391.9 L295.5,391.9 L297.5,391.9 L299.5,391.9 L301.5,392.0 L303.5,392.0 L305.5,392.0 L307.5,392.0 L309.5,392.0 L311.5,392.1 L313.5,392.1 L315.5,392.1 L317.5,392.1 L319.5,392.2 L321.5,392.2 L323.5,392.2 L325.5,392.2 L327.5,392.3 L329.5,392.3 L331.5,392.3 L333.5,392.4 L335.5,392.4 L337.5,392.4 L339.5,392.5 L341.5,392.5 L343.5,392.6 L345.5,392.6 L347.5,392.7 L349.5,392.7 L351.5,392.8 L353.5,392.9 L355.5,392.9 L357.5,393.0 L359.5,393.1 L361.5,393.2 L363.5,393.2 L365.5,393.3 L367.5,393.4 L369.5,393.5 L371.5,393.6 L373.5,393.7 L375.5,393.8 L377.5,394.0 L379.5,394.1 L381.5,394.3 L383.5,394.5 L385.5,394.7 L387.5,394.9 L389.5,395.1 L391.5,395.3 L393.5,395.5 L395.5,395.7 L397.5,396.0 L399.5,396.2 L401.5,396.5 L403.5,396.7 L405.5,397.0 L407.5,397.2 L409.5,397.5 L411.5,397.8 L413.5,398.1 L415.5,398.4 L417.5,398.8 L419.5,399.1 L421.5,399.5 L423.5,399.9 L425.5,400.3 L427.5,400.7 L429.5,401.1 L431.5,401.6 L433.5,402.0 L435.5,402.4 L437.5,402.9 L439.5,403.3 L441.5,403.8 L443.5,404.2 L445.5,404.7 L447.5,405.1 L449.5,405.6 L451.5,406.1 L453.5,406.5 L455.5,407.0 L457.5,407.5 L459.5,408.0 L461.5,408.6 L463.5,409.1 L465.5,409.6 L467.5,410.1 L469.5,410.7 L471.5,411.2 L473.5,411.7 L475.5,412.2 L477.5,412.7 L479.5,413.3 L481.5,413.7 L483.5,414.2 L485.5,414.7 L487.5,415.2 L489.5,415.6 L491.5,416.0 L493.5,416.5 L495.5,416.9 L497.5,417.3 L499.5,417.8 L501.5,418.2 L503.5,418.6 L505.5,419.0 L507.5,419.4 L509.5,419.8 L511.5,420.2 L513.5,420.6 L515.5,421.0 L517.5,421.4 L519.5,421.7 L521.5,422.1 L523.5,422.5 L525.5,422.8 L527.5,423.2 L529.5,423.5 L531.5,423.8 L533.5,424.2 L535.5,424.5 L537.5,424.8 L539.5,425.1 L541.5,425.4 L543.5,425.7 L545.5,426.0 L547.5,426.3 L549.5,426.6 L551.5,426.9 L553.5,427.2 L555.5,427.5 L557.5,427.7 L559.5,428.0 L561.5,428.3 L563.5,428.6 L565.5,428.9 L567.5,429.1 L569.5,429.4 L571.5,429.7 L573.5,430.0 L575.5,430.2 L577.5,430.5 L579.5,430.8 L581.5,431.1 L583.5,431.3 L585.5,431.6 L587.5,431.8 L589.5,432.1 L591.5,432.4 L593.5,432.6 L595.5,432.9 L596.5,433.0 L596.5,498.1 Z" fill="rgb(235, 147, 117)"/><path d="M61.5,498.1 L61.5,415.3 L63.5,415.3 L65.5,415.3 L67.5,415.3 L69.5,415.2 L71.5,415.2 L73.5,415.2 L75.5,415.2 L77.5,415.2 L79.5,415.2 L81.5,415.2 L83.5,415.2 L85.5,415.1 L87.5,415.1 L89.5,415.1 L91.5,415.1 L93.5,415.1 L95.5,415.1 L97.5,415.1 L99.5,415.1 L101.5,415.0 L103.5,415.0 L105.5,415.0 L107.5,415.0 L109.5,415.0 L111.5,415.0 L113.5,415.0 L115.5,415.0 L117.5,414.9 L119.5,414.9 L121.5,414.9 L123.5,414.9 L125.5,414.9 L127.5,414.9 L129.5,414.9 L131.5,414.9 L133.5,414.9 L135.5,414.8 L137.5,414.8 L139.5,414.8 L141.5,414.8 L143.5,414.8 L145.5,414.8 L147.5,414.8 L149.5,414.8 L151.5,414.7 L153.5,414.7 L155.5,414.7 L157.5,414.7 L159.5,414.7 L161.5,414.7 L163.5,414.7 L165.5,414.7 L167.5,414.7 L169.5,414.6 L171.5,414.6 L173.5,414.6 L175.5,414.6 L177.5,414.6 L179.5,414.6 L181.5,414.6 L183.5,414.6 L185.5,414.6 L187.5,414.5 L189.5,414.5 L191.5,414.5 L193.5,414.5 L195.5,414.5 L197.5,414.5 L199.5,414.5 L201.5,414.5 L203.5,414.4 L205.5,414.4 L207.5,414.4 L209.5,414.4 L211.5,414.4 L213.5,414.4 L215.5,414.4 L217.5,414.3 L219.5,414.3 L221.5,414.3 L223.5,414.3 L225.5,414.3 L227.5,414.3 L229.5,414.3 L231.5,414.3 L233.5,414.3 L235.5,414.2 L237.5,414.2 L239.5,414.2 L241.5,414.2 L243.5,414.2 L245.5,414.2 L247.5,414.2 L249.5,414.2 L251.5,414.2 L253.5,414.2 L255.5,414.2 L257.5,414.2 L259.5,414.2 L261.5,414.2 L263.5,414.2 L265.5,414.2 L267.5,414.2 L269.5,414.2 L271.5,414.2 L273.5,414.2 L275.5,414.2 L277.5,414.3 L279.5,414.3 L281.5,414.3 L283.5,414.3 L285.5,414.3 L287.5,414.3 L289.5,414.3 L291.5,414.3 L293.5,414.4 L295.5,414.4 L297.5,414.4 L299.5,414.4 L301.5,414.4 L303.5,414.5 L305.5,414.5 L307.5,414.5 L309.5,414.5 L311.5,414.5 L313.5,414.6 L315.5,414.6 L317.5,414.6 L319.5,414.6 L321.5,414.7 L323.5,414.7 L325.5,414.7 L327.5,414.8 L329.5,414.8 L331.5,414.8 L333.5,414.9 L335.5,414.9 L337.5,415.0 L339.5,415.1 L341.5,415.2 L343.5,415.3 L345.5,415.4 L347.5,415.5 L349.5,415.6 L351.5,415.8 L353.5,415.9 L355.5,416.1 L357.5,416.2 L359.5,416.4 L361.5,416.5 L363.5,416.7 L365.5,416.9 L367.5,417.0 L369.5,417.2 L371.5,417.4 L373.5,417.6 L375.5,417.8 L377.5,418.0 L379.5,418.3 L381.5,418.5 L383.5,418.8 L385.5,419.1 L387.5,419.4 L389.5,419.7 L391.5,420.0 L393.5,420.4 L395.5,420.7 L397.5,421.0 L399.5,421.4 L401.5,421.8 L403.5,422.1 L405.5,422.5 L407.5,422.9 L409.5,423.2 L411.5,423.6 L413.5,424.0 L415.5,424.4 L417.5,424.8 L419.5,425.3 L421.5,425.7 L423.5,426.2 L425.5,426.6 L427.5,427.1 L429.5,427.6 L431.5,428.1 L433.5,428.6 L435.5,429.2 L437.5,429.7 L439.5,430.3 L441.5,430.8 L443.5,431.4 L445.5,432.0 L447.5,432.7 L449.5,433.3 L451.5,434.0 L453.5,434.8 L455.5,435.5 L457.5,436.3 L459.5,437.2 L461.5,438.1 L463.5,439.0 L465.5,439.9 L467.5,440.8 L469.5,441.8 L471.5,442.8 L473.5,443.7 L475.5,444.7 L477.5,445.7 L479.5,446.7 L481.5,447.7 L483.5,448.7 L485.5,449.6 L487.5,450.6 L489.5,451.6 L491.5,452.6 L493.5,453.6 L495.5,454.6 L497.5,455.7 L499.5,456.8 L501.5,457.8 L503.5,458.9 L505.5,460.0 L507.5,461.1 L509.5,462.2 L511.5,463.2 L513.5,464.3 L515.5,465.3 L517.5,466.2 L519.5,467.2 L521.5,468.1 L523.5,469.0 L525.5,469.8 L527.5,470.5 L529.5,471.3 L531.5,472.0 L533.5,472.7 L535.5,473.3 L537.5,473.9 L539.5,474.6 L541.5,475.2 L543.5,475.7 L545.5,476.3 L547.5,476.9 L549.5,477.4 L551.5,478.0 L553.5,478.5 L555.5,479.1 L557.5,479.6 L559.5,480.2 L561.5,480.8 L563.5,481.3 L565.5,481.9 L567.5,482.5 L569.5,483.1 L571.5,483.7 L573.5,484.3 L575.5,484.9 L577.5,485.4 L579.5,486.0 L581.5,486.6 L583.5,487.2 L585.5,487.8 L587.5,488.4 L589.5,489.0 L591.5,489.5 L593.5,490.1 L595.5,490.7 L596.5,491.0 L596.5,498.1 Z" fill="rgb(220, 118, 92)"/><path d="M61.5,498.1 L61.5,450.4 L63.5,450.4 L65.5,450.4 L67.5,450.3 L69.5,450.3 L71.5,450.3 L73.5,450.3 L75.5,450.2 L77.5,450.2 L79.5,450.2 L81.5,450.2 L83.5,450.2 L85.5,450.1 L87.5,450.1 L89.5,450.1 L91.5,450.1 L93.5,450.1 L95.5,450.0 L97.5,450.0 L99.5,450.0 L101.5,450.0 L103.5,450.0 L105.5,449.9 L107.5,449.9 L109.5,449.9 L111.5,449.9 L113.5,449.9 L115.5,449.9 L117.5,449.9 L119.5,449.8 L121.5,449.8 L123.5,449.8 L125.5,449.8 L127.5,449.8 L129.5,449.8 L131.5,449.8 L133.5,449.7 L135.5,449.7 L137.5,449.7 L139.5,449.7 L141.5,449.7 L143.5,449.7 L145.5,449.7 L147.5,449.7 L149.5,449.7 L151.5,449.7 L153.5,449.6 L155.5,449.6 L157.5,449.6 L159.5,449.6 L161.5,449.6 L163.5,449.6 L165.5,449.6 L167.5,449.6 L169.5,449.6 L171.5,449.6 L173.5,449.6 L175.5,449.6 L177.5,449.6 L179.5,449.6 L181.5,449.6 L183.5,449.6 L185.5,449.6 L187.5,449.6 L189.5,449.6 L191.5,449.6 L193.5,449.6 L195.5,449.6 L197.5,449.6 L199.5,449.6 L201.5,449.6 L203.5,449.6 L205.5,449.6 L207.5,449.6 L209.5,449.6 L211.5,449.6 L213.5,449.6 L215.5,449.6 L217.5,449.6 L219.5,449.6 L221.5,449.6 L223.5,449.6 L225.5,449.6 L227.5,449.6 L229.5,449.6 L231.5,449.6 L233.5,449.6 L235.5,449.6 L237.5,449.6 L239.5,449.6 L241.5,449.6 L243.5,449.7 L245.5,449.7 L247.5,449.8 L249.5,449.8 L251.5,449.9 L253.5,450.0 L255.5,450.1 L257.5,450.2 L259.5,450.3 L261.5,450.4 L263.5,450.5 L265.5,450.6 L267.5,450.7 L269.5,450.9 L271.5,451.0 L273.5,451.1 L275.5,451.3 L277.5,451.4 L279.5,451.5 L281.5,451.7 L283.5,451.8 L285.5,451.9 L287.5,452.1 L289.5,452.3 L291.5,452.5 L293.5,452.7 L295.5,452.9 L297.5,453.1 L299.5,453.3 L301.5,453.5 L303.5,453.7 L305.5,454.0 L307.5,454.2 L309.5,454.5 L311.5,454.7 L313.5,455.0 L315.5,455.2 L317.5,455.5 L319.5,455.8 L321.5,456.1 L323.5,456.4 L325.5,456.7 L327.5,457.1 L329.5,457.4 L331.5,457.8 L333.5,458.1 L335.5,458.5 L337.5,458.9 L339.5,459.3 L341.5,459.7 L343.5,460.1 L345.5,460.5 L347.5,460.9 L349.5,461.4 L351.5,461.8 L353.5,462.3 L355.5,462.7 L357.5,463.2 L359.5,463.7 L361.5,464.2 L363.5,464.8 L365.5,465.3 L367.5,465.9 L369.5,466.4 L371.5,467.0 L373.5,467.6 L375.5,468.3 L377.5,469.0 L379.5,469.7 L381.5,470.4 L383.5,471.2 L385.5,471.9 L387.5,472.7 L389.5,473.5 L391.5,474.4 L393.5,475.2 L395.5,476.1 L397.5,477.0 L399.5,477.9 L401.5,478.8 L403.5,479.7 L405.5,480.6 L407.5,481.6 L409.5,482.5 L411.5,483.5 L413.5,484.5 L415.5,485.6 L417.5,486.7 L419.5,487.8 L421.5,488.9 L423.5,490.1 L425.5,491.3 L427.5,492.5 L429.5,493.7 L431.5,495.0 L433.5,496.2 L435.5,497.5 L437.5,498.1 L439.5,498.1 L441.5,498.1 L443.5,498.1 L445.5,498.1 L447.5,498.1 L449.5,498.1 L451.5,498.1 L453.5,498.1 L455.5,498.1 L457.5,498.1 L459.5,498.1 L461.5,498.1 L463.5,498.1 L465.5,498.1 L467.5,498.1 L469.5,498.1 L471.5,498.1 L473.5,498.1 L475.5,498.1 L477.5,498.1 L479.5,498.1 L481.5,498.1 L483.5,498.1 L485.5,498.1 L487.5,498.1 L489.5,498.1 L491.5,498.1 L493.5,498.1 L495.5,498.1 L497.5,498.1 L499.5,498.1 L501.5,498.1 L503.5,498.1 L505.5,498.1 L507.5,498.1 L509.5,498.1 L511.5,498.1 L513.5,498.1 L515.5,498.1 L517.5,498.1 L519.5,498.1 L521.5,498.1 L523.5,498.1 L525.5,498.1 L527.5,498.1 L529.5,498.1 L531.5,498.1 L533.5,498.1 L535.5,498.1 L537.5,498.1 L539.5,498.1 L541.5,498.1 L543.5,498.1 L545.5,498.1 L547.5,498.1 L549.5,498.1 L551.5,498.1 L553.5,498.1 L555.5,498.1 L557.5,498.1 L559.5,498.1 L561.5,498.1 L563.5,498.1 L565.5,498.1 L567.5,498.1 L569.5,498.1 L571.5,498.1 L573.5,498.1 L575.5,498.1 L577.5,498.1 L579.5,498.1 L581.5,498.1 L583.5,498.1 L585.5,498.1 L587.5,498.1 L589.5,498.1 L591.5,498.1 L593.5,498.1 L595.5,498.1 L596.5,498.1 L596.5,498.1 Z" fill="rgb(200, 62, 58)"/></g>
<line x1="113.1" y1="292.6" x2="113.1" y2="498.1" stroke="rgb(115,135,175)" stroke-width="1.6"/><line x1="181.0" y1="292.6" x2="181.0" y2="498.1" stroke="rgb(115,135,175)" stroke-width="1.6"/><line x1="245.9" y1="292.6" x2="245.9" y2="498.1" stroke="rgb(180,85,105)" stroke-width="1.6"/><line x1="313.8" y1="292.6" x2="313.8" y2="498.1" stroke="rgb(180,85,105)" stroke-width="1.6"/><line x1="517.8" y1="292.6" x2="517.8" y2="498.1" stroke="rgb(242,195,110)" stroke-width="1.6"/><line x1="585.4" y1="292.6" x2="585.4" y2="498.1" stroke="rgb(242,195,110)" stroke-width="1.6"/>
<g stroke="rgba(38,38,38,0.15)" stroke-width="1" stroke-dasharray="5 5.85" stroke-dashoffset="5.45" fill="none"><line x1="195.25" y1="292.60" x2="195.25" y2="498.10" /><line x1="329.00" y1="292.60" x2="329.00" y2="498.10" /><line x1="462.75" y1="292.60" x2="462.75" y2="498.10" /><line x1="61.50" y1="361.10" x2="596.50" y2="361.10" /><line x1="61.50" y1="429.60" x2="596.50" y2="429.60" /></g>
<text x="146.15" y="494.80" text-anchor="middle" style="font-family:'Liberation Sans',sans-serif;font-size:16px;font-weight:bold" fill="#000">P1</text>
<text x="282.65" y="494.80" text-anchor="middle" style="font-family:'Liberation Sans',sans-serif;font-size:16px;font-weight:bold" fill="#000">P2</text>
<text x="551.15" y="494.80" text-anchor="middle" style="font-family:'Liberation Sans',sans-serif;font-size:16px;font-weight:bold" fill="#000">P3</text>
<g stroke="#262626" stroke-width="1.1" fill="none"><rect x="61.5" y="292.6" width="535.0" height="205.5" /><line x1="61.50" y1="498.1" x2="61.50" y2="503.6" /><line x1="61.50" y1="292.6" x2="61.50" y2="287.1" /><line x1="195.25" y1="498.1" x2="195.25" y2="503.6" /><line x1="195.25" y1="292.6" x2="195.25" y2="287.1" /><line x1="329.00" y1="498.1" x2="329.00" y2="503.6" /><line x1="329.00" y1="292.6" x2="329.00" y2="287.1" /><line x1="462.75" y1="498.1" x2="462.75" y2="503.6" /><line x1="462.75" y1="292.6" x2="462.75" y2="287.1" /><line x1="596.50" y1="498.1" x2="596.50" y2="503.6" /><line x1="596.50" y1="292.6" x2="596.50" y2="287.1" /><line x1="61.5" y1="292.60" x2="56.0" y2="292.60" /><line x1="596.5" y1="292.60" x2="602.0" y2="292.60" /><line x1="61.5" y1="361.10" x2="56.0" y2="361.10" /><line x1="596.5" y1="361.10" x2="602.0" y2="361.10" /><line x1="61.5" y1="429.60" x2="56.0" y2="429.60" /><line x1="596.5" y1="429.60" x2="602.0" y2="429.60" /><line x1="61.5" y1="498.10" x2="56.0" y2="498.10" /><line x1="596.5" y1="498.10" x2="602.0" y2="498.10" /></g><g fill="#262626" style="font-family:'Liberation Sans',sans-serif;font-size:17px" text-anchor="end"><text x="50.2" y="299.10">0</text><text x="50.2" y="367.60">100</text><text x="50.2" y="436.10">200</text><text x="50.2" y="504.60">300</text></g><g fill="#262626" style="font-family:'Liberation Sans',sans-serif;font-size:17px" text-anchor="middle"><text x="61.90" y="525.10">1900</text><text x="195.65" y="525.10">2000</text><text x="329.40" y="525.10">2100</text><text x="463.15" y="525.10">2200</text><text x="596.90" y="525.10">2300</text></g>
<text x="329.00" y="288.2" text-anchor="middle" style="font-family:'Liberation Sans',sans-serif;font-size:18.7px" fill="#000">(b) Density (CEP)</text>
<text transform="translate(14.1,395.35) rotate(-90)" text-anchor="middle" style="font-family:'Liberation Sans',sans-serif;font-size:18.7px" fill="#262626">Depth (m)</text>
<g><rect x="61.5" y="567.5" width="535.0" height="205.60000000000002" fill="rgb(247,243,242)"/><path d="M61.5,600.7 L63.0,600.7 L64.5,600.7 L66.0,600.7 L67.5,600.7 L69.0,600.7 L70.5,600.7 L72.0,600.7 L73.5,600.7 L75.0,600.7 L76.5,600.7 L78.0,600.7 L79.6,600.7 L81.1,600.7 L82.6,600.7 L84.1,600.7 L85.6,600.7 L87.1,600.7 L88.6,600.7 L90.1,600.7 L91.6,600.7 L93.1,600.7 L94.6,600.7 L96.1,600.7 L97.6,600.7 L99.1,600.7 L100.6,600.7 L102.1,600.7 L103.6,600.7 L105.1,600.7 L106.6,600.7 L108.1,600.7 L109.6,600.7 L111.2,600.7 L112.7,600.7 L114.2,600.6 L115.7,600.6 L117.2,600.5 L118.7,600.4 L120.2,600.3 L121.7,600.1 L123.2,600.0 L124.7,599.8 L126.2,599.6 L127.7,599.4 L129.2,599.2 L130.7,599.0 L132.2,598.8 L133.7,598.6 L135.2,598.5 L136.7,598.3 L138.2,598.1 L139.7,597.9 L141.2,597.7 L142.7,597.6 L144.2,597.4 L145.8,597.3 L147.3,597.1 L148.8,597.0 L150.3,596.8 L151.8,596.7 L153.3,596.5 L154.8,596.3 L156.3,596.2 L157.8,596.0 L159.3,595.9 L160.8,595.7 L162.3,595.6 L163.8,595.4 L165.3,595.2 L166.8,595.1 L168.3,594.9 L169.8,594.8 L171.3,594.6 L172.8,594.4 L174.3,594.3 L175.8,594.1 L177.3,593.9 L178.9,593.8 L180.4,593.6 L181.9,593.5 L183.4,593.3 L184.9,593.2 L186.4,593.0 L187.9,592.9 L189.4,592.7 L190.9,592.6 L192.4,592.4 L193.9,592.3 L195.4,592.1 L196.9,591.9 L198.4,591.7 L199.9,591.5 L201.4,591.3 L202.9,591.0 L204.4,590.7 L205.9,590.3 L207.4,590.0 L208.9,589.7 L210.4,589.5 L212.0,589.3 L213.5,589.1 L215.0,588.9 L216.5,588.7 L218.0,588.6 L219.5,588.4 L221.0,588.3 L222.5,588.1 L224.0,588.0 L225.5,587.8 L227.0,587.7 L228.5,587.6 L230.0,587.5 L231.5,587.4 L233.0,587.3 L234.5,587.2 L236.0,587.1 L237.5,587.0 L239.0,586.9 L240.5,586.8 L242.0,586.7 L243.5,586.7 L245.1,586.6 L246.6,586.5 L248.1,586.3 L249.6,586.2 L251.1,586.0 L252.6,585.9 L254.1,585.7 L255.6,585.5 L257.1,585.3 L258.6,585.1 L260.1,584.8 L261.6,584.6 L263.1,584.4 L264.6,584.2 L266.1,584.0 L267.6,583.8 L269.1,583.6 L270.6,583.4 L272.1,583.3 L273.6,583.1 L275.1,582.9 L276.6,582.8 L278.2,582.6 L279.7,582.5 L281.2,582.3 L282.7,582.2 L284.2,582.1 L285.7,581.9 L287.2,581.8 L288.7,581.7 L290.2,581.5 L291.7,581.4 L293.2,581.3 L293.2,567.5 L596.5,567.5 L596.5,773.1 L480.0,773.1 L478.5,772.5 L477.0,771.8 L475.5,771.2 L474.0,770.6 L472.5,770.1 L471.0,769.5 L469.5,769.0 L468.0,768.6 L466.5,768.2 L465.0,767.8 L463.5,767.5 L462.0,767.3 L460.5,767.0 L459.0,766.8 L457.5,766.6 L456.0,766.4 L454.5,766.2 L453.0,766.0 L451.5,765.9 L450.0,765.7 L448.5,765.6 L447.0,765.4 L445.5,765.3 L444.0,765.1 L442.5,765.0 L441.0,764.8 L439.5,764.7 L438.0,764.6 L436.5,764.4 L435.0,764.3 L433.5,764.1 L432.0,764.0 L430.5,763.9 L429.0,763.8 L427.5,763.6 L426.0,763.5 L424.5,763.4 L423.0,763.3 L421.5,763.1 L420.0,763.0 L418.5,762.9 L417.0,762.8 L415.5,762.7 L414.0,762.6 L412.5,762.4 L411.0,762.3 L409.5,762.2 L408.0,762.1 L406.5,762.0 L405.0,761.9 L403.5,761.7 L402.0,761.6 L400.5,761.5 L399.0,761.4 L397.5,761.3 L396.0,761.1 L394.5,761.0 L393.0,760.9 L391.5,760.8 L390.0,760.7 L388.5,760.5 L387.0,760.4 L385.5,760.3 L384.0,760.2 L382.5,760.1 L381.0,759.9 L379.5,759.8 L378.0,759.7 L376.5,759.6 L375.0,759.5 L373.5,759.4 L372.0,759.3 L370.5,759.2 L369.0,759.0 L367.5,758.9 L366.0,758.8 L364.5,758.7 L363.0,758.6 L361.5,758.5 L360.0,758.4 L358.5,758.3 L357.0,758.2 L355.5,758.1 L354.0,758.0 L352.5,757.9 L351.0,757.8 L349.5,757.7 L348.0,757.6 L346.5,757.5 L345.0,757.4 L343.5,757.2 L342.0,757.1 L340.5,757.1 L339.0,757.0 L337.5,756.9 L336.0,756.8 L334.5,756.7 L333.0,756.7 L331.5,756.6 L330.0,756.6 L328.5,756.5 L327.0,756.5 L325.5,756.5 L324.0,756.5 L322.5,756.5 L321.0,756.5 L319.5,756.5 L318.0,756.5 L316.5,756.6 L315.0,756.6 L313.5,756.6 L312.0,756.7 L310.5,756.7 L309.0,756.7 L307.5,756.8 L306.0,756.8 L304.5,756.9 L303.0,756.9 L301.5,757.0 L300.0,757.0 L298.5,757.1 L297.0,757.1 L295.5,757.2 L294.0,757.2 L292.5,757.3 L291.0,757.4 L289.5,757.4 L288.0,757.5 L286.5,757.5 L285.0,757.6 L283.5,757.7 L282.0,757.7 L280.5,757.8 L279.0,757.8 L277.5,757.9 L276.0,757.9 L274.5,758.0 L273.0,758.1 L271.5,758.1 L270.0,758.2 L268.5,758.2 L267.0,758.3 L265.5,758.3 L264.0,758.4 L262.5,758.4 L261.0,758.5 L259.5,758.5 L258.0,758.6 L256.5,758.6 L255.0,758.7 L253.5,758.7 L252.0,758.8 L250.5,758.9 L249.0,758.9 L247.5,759.0 L246.0,759.0 L244.5,759.1 L243.0,759.1 L241.5,759.2 L240.0,759.2 L238.5,759.3 L237.0,759.4 L235.5,759.4 L234.0,759.5 L232.5,759.5 L231.0,759.6 L229.5,759.7 L228.0,759.7 L226.5,759.8 L225.0,759.8 L223.5,759.9 L222.0,760.0 L220.5,760.0 L219.0,760.1 L217.5,760.2 L216.0,760.3 L214.5,760.3 L213.0,760.4 L211.5,760.5 L210.0,760.5 L208.5,760.6 L207.0,760.7 L205.5,760.7 L204.0,760.8 L202.5,760.9 L201.0,761.0 L199.5,761.0 L198.0,761.1 L196.5,761.1 L195.0,761.2 L193.5,761.3 L192.0,761.3 L190.5,761.4 L189.0,761.4 L187.5,761.5 L186.0,761.5 L184.5,761.6 L183.0,761.6 L181.5,761.6 L180.0,761.7 L178.5,761.7 L177.0,761.7 L175.5,761.8 L174.0,761.8 L172.5,761.8 L171.0,761.8 L169.5,761.9 L168.0,761.9 L166.5,761.9 L165.0,762.0 L163.5,762.0 L162.0,762.0 L160.5,762.0 L159.0,762.1 L157.5,762.1 L156.0,762.1 L154.5,762.1 L153.0,762.1 L151.5,762.2 L150.0,762.2 L148.5,762.2 L147.0,762.2 L145.5,762.2 L144.0,762.3 L142.5,762.3 L141.0,762.3 L139.5,762.3 L138.0,762.4 L136.5,762.4 L135.0,762.4 L133.5,762.4 L132.0,762.4 L130.5,762.5 L129.0,762.5 L127.5,762.5 L126.0,762.5 L124.5,762.5 L123.0,762.6 L121.5,762.6 L120.0,762.6 L118.5,762.6 L117.0,762.7 L115.5,762.7 L114.0,762.7 L112.5,762.7 L111.0,762.8 L109.5,762.8 L108.0,762.8 L106.5,762.8 L105.0,762.9 L103.5,762.9 L102.0,762.9 L100.5,762.9 L99.0,763.0 L97.5,763.0 L96.0,763.0 L94.5,763.0 L93.0,763.1 L91.5,763.1 L90.0,763.1 L88.5,763.1 L87.0,763.2 L85.5,763.2 L84.0,763.2 L82.5,763.2 L81.0,763.3 L79.5,763.3 L78.0,763.3 L76.5,763.3 L75.0,763.4 L73.5,763.4 L72.0,763.4 L70.5,763.4 L69.0,763.5 L67.5,763.5 L66.0,763.5 L64.5,763.5 L63.0,763.6 L61.5,763.6 Z" fill="rgb(249, 234, 226)"/><path d="M61.5,631.4 L63.0,631.4 L64.5,631.4 L66.0,631.4 L67.5,631.4 L69.0,631.4 L70.5,631.4 L72.0,631.3 L73.5,631.3 L75.0,631.3 L76.5,631.3 L78.0,631.3 L79.5,631.2 L81.0,631.2 L82.5,631.2 L84.0,631.2 L85.5,631.1 L87.0,631.1 L88.5,631.1 L90.0,631.0 L91.5,631.0 L93.0,630.9 L94.5,630.9 L96.0,630.9 L97.5,630.8 L99.0,630.8 L100.5,630.7 L102.0,630.7 L103.5,630.6 L105.0,630.6 L106.5,630.5 L108.0,630.5 L109.5,630.5 L111.0,630.4 L112.5,630.4 L114.0,630.3 L115.5,630.2 L117.0,630.1 L118.5,630.1 L120.0,630.0 L121.5,629.9 L123.0,629.8 L124.5,629.6 L126.0,629.5 L127.5,629.4 L129.0,629.3 L130.5,629.2 L132.0,629.1 L133.5,628.9 L135.0,628.8 L136.5,628.7 L138.0,628.6 L139.5,628.5 L141.0,628.4 L142.5,628.2 L144.0,628.1 L145.5,628.0 L147.0,627.9 L148.5,627.8 L150.0,627.6 L151.5,627.5 L153.0,627.4 L154.5,627.2 L156.0,627.1 L157.5,627.0 L159.0,626.8 L160.5,626.7 L162.0,626.6 L163.5,626.4 L165.0,626.3 L166.5,626.2 L168.0,626.1 L169.5,625.9 L171.0,625.8 L172.5,625.7 L174.0,625.6 L175.5,625.5 L177.0,625.4 L178.5,625.3 L180.0,625.2 L181.5,625.2 L183.0,625.1 L184.5,625.0 L186.0,625.0 L187.5,624.9 L189.0,624.8 L190.5,624.8 L192.0,624.7 L193.5,624.7 L195.0,624.6 L196.5,624.6 L198.0,624.5 L199.5,624.4 L201.0,624.3 L202.5,624.3 L204.0,624.2 L205.5,624.1 L207.0,624.0 L208.5,623.9 L210.0,623.8 L211.5,623.7 L213.0,623.6 L214.5,623.5 L216.0,623.4 L217.5,623.3 L219.0,623.2 L220.5,623.1 L222.0,623.0 L223.5,622.9 L225.0,622.7 L226.5,622.6 L228.0,622.5 L229.5,622.3 L231.0,622.2 L232.5,622.0 L234.0,621.9 L235.5,621.7 L237.0,621.6 L238.5,621.4 L240.0,621.2 L241.5,621.0 L243.0,620.8 L244.5,620.5 L246.0,620.3 L247.5,620.0 L249.0,619.8 L250.5,619.5 L252.0,619.1 L253.5,618.8 L255.0,618.4 L256.5,618.0 L258.0,617.5 L259.5,617.1 L261.0,616.6 L262.5,616.2 L264.0,615.7 L265.5,615.2 L267.0,614.7 L268.5,614.1 L270.0,613.6 L271.5,613.1 L273.0,612.5 L274.5,611.9 L276.0,611.2 L277.5,610.5 L279.0,609.8 L280.5,609.0 L282.0,608.3 L283.5,607.5 L285.0,606.8 L286.5,606.1 L288.0,605.5 L289.5,604.9 L291.0,604.4 L292.5,603.9 L294.0,603.4 L295.5,603.0 L297.0,602.5 L298.5,602.1 L300.0,601.7 L301.5,601.3 L303.0,600.8 L304.5,600.4 L306.0,599.9 L307.5,599.5 L309.0,599.0 L310.5,598.5 L312.0,598.0 L313.5,597.6 L315.0,597.1 L316.5,596.7 L318.0,596.3 L319.5,595.9 L321.0,595.6 L322.5,595.2 L324.0,594.9 L325.5,594.5 L327.0,594.2 L328.5,593.8 L330.0,593.5 L331.5,593.1 L333.0,592.7 L334.5,592.3 L336.0,591.9 L337.5,591.5 L339.0,591.1 L340.5,590.7 L342.0,590.3 L343.5,589.9 L345.0,589.5 L346.5,589.2 L348.0,588.9 L349.5,588.6 L351.0,588.3 L352.5,588.0 L354.0,587.7 L355.5,587.4 L357.0,587.1 L358.5,586.8 L360.0,586.5 L361.5,586.2 L363.0,585.9 L364.5,585.6 L366.0,585.3 L367.5,585.1 L369.0,584.8 L370.5,584.6 L372.0,584.5 L373.5,584.3 L375.0,584.2 L376.5,584.0 L378.0,583.9 L379.5,583.7 L381.0,583.6 L382.5,583.4 L384.0,583.3 L385.5,583.1 L387.0,582.9 L388.5,582.8 L390.0,582.6 L391.5,582.4 L393.0,582.3 L394.5,582.1 L396.0,581.9 L397.5,581.8 L399.0,581.6 L400.5,581.5 L402.0,581.3 L403.5,581.2 L405.0,581.1 L406.5,581.0 L408.0,580.9 L409.5,580.8 L411.0,580.8 L412.5,580.7 L414.0,580.6 L415.5,580.6 L417.0,580.6 L418.5,580.5 L420.0,580.5 L420.0,567.5 L596.5,567.5 L596.5,721.4 L595.0,721.4 L593.5,721.4 L592.0,721.4 L590.5,721.4 L589.0,721.4 L587.5,721.4 L586.0,721.4 L584.5,721.4 L583.0,721.4 L581.5,721.4 L580.0,721.4 L578.5,721.4 L577.0,721.4 L575.5,721.4 L574.0,721.4 L572.5,721.4 L571.0,721.4 L569.4,721.4 L567.9,721.4 L566.4,721.4 L564.9,721.4 L563.4,721.4 L561.9,721.4 L560.4,721.4 L558.9,721.3 L557.4,721.3 L555.9,721.3 L554.4,721.3 L552.9,721.3 L551.4,721.3 L549.9,721.3 L548.4,721.3 L546.9,721.3 L545.4,721.3 L543.9,721.3 L542.4,721.3 L540.9,721.3 L539.4,721.3 L537.9,721.3 L536.4,721.3 L534.9,721.3 L533.4,721.3 L531.9,721.3 L530.4,721.2 L528.9,721.2 L527.4,721.2 L525.9,721.2 L524.4,721.2 L522.9,721.2 L521.4,721.2 L519.9,721.2 L518.4,721.2 L516.9,721.2 L515.3,721.2 L513.8,721.2 L512.3,721.2 L510.8,721.2 L509.3,721.2 L507.8,721.1 L506.3,721.1 L504.8,721.1 L503.3,721.1 L501.8,721.1 L500.3,721.1 L498.8,721.1 L497.3,721.1 L495.8,721.1 L494.3,721.1 L492.8,721.1 L491.3,721.1 L489.8,721.1 L488.3,721.0 L486.8,721.0 L485.3,721.0 L483.8,721.0 L482.3,721.0 L480.8,721.0 L479.3,721.0 L477.8,721.0 L476.3,721.0 L474.8,721.0 L473.3,721.0 L471.8,720.9 L470.3,720.9 L468.8,720.9 L467.3,720.9 L465.8,720.9 L464.3,720.9 L462.8,720.8 L461.2,720.8 L459.7,720.8 L458.2,720.8 L456.7,720.8 L455.2,720.7 L453.7,720.7 L452.2,720.7 L450.7,720.7 L449.2,720.6 L447.7,720.6 L446.2,720.6 L444.7,720.6 L443.2,720.6 L441.7,720.5 L440.2,720.5 L438.7,720.5 L437.2,720.5 L435.7,720.4 L434.2,720.4 L432.7,720.4 L431.2,720.4 L429.7,720.3 L428.2,720.3 L426.7,720.3 L425.2,720.3 L423.7,720.2 L422.2,720.2 L420.7,720.2 L419.2,720.2 L417.7,720.1 L416.2,720.1 L414.7,720.1 L413.2,720.1 L411.7,720.0 L410.2,720.0 L408.6,720.0 L407.1,720.0 L405.6,720.0 L404.1,720.0 L402.6,719.9 L401.1,719.9 L399.6,719.9 L398.1,719.9 L396.6,719.9 L395.1,719.9 L393.6,719.9 L392.1,719.8 L390.6,719.8 L389.1,719.8 L387.6,719.8 L386.1,719.8 L384.6,719.8 L383.1,719.8 L381.6,719.8 L380.1,719.8 L378.6,719.8 L377.1,719.8 L375.6,719.8 L374.1,719.8 L372.6,719.8 L371.1,719.8 L369.6,719.9 L368.1,719.9 L366.6,719.9 L365.1,719.9 L363.6,719.9 L362.1,720.0 L360.6,720.0 L359.1,720.0 L357.6,720.0 L356.1,720.1 L354.5,720.1 L353.0,720.1 L351.5,720.2 L350.0,720.2 L348.5,720.2 L347.0,720.3 L345.5,720.3 L344.0,720.3 L342.5,720.4 L341.0,720.4 L339.5,720.4 L338.0,720.5 L336.5,720.5 L335.0,720.6 L333.5,720.6 L332.0,720.6 L330.5,720.7 L329.0,720.7 L327.5,720.8 L326.0,720.8 L324.5,720.9 L323.0,720.9 L321.5,721.0 L320.0,721.1 L318.5,721.1 L317.0,721.2 L315.5,721.3 L314.0,721.3 L312.5,721.4 L311.0,721.5 L309.5,721.6 L308.0,721.7 L306.5,721.7 L305.0,721.8 L303.5,721.9 L301.9,722.0 L300.4,722.1 L298.9,722.2 L297.4,722.3 L295.9,722.4 L294.4,722.5 L292.9,722.6 L291.4,722.7 L289.9,722.7 L288.4,722.8 L286.9,722.9 L285.4,723.0 L283.9,723.1 L282.4,723.2 L280.9,723.3 L279.4,723.4 L277.9,723.5 L276.4,723.5 L274.9,723.6 L273.4,723.7 L271.9,723.8 L270.4,723.9 L268.9,723.9 L267.4,724.0 L265.9,724.1 L264.4,724.2 L262.9,724.3 L261.4,724.4 L259.9,724.4 L258.4,724.5 L256.9,724.6 L255.4,724.7 L253.9,724.8 L252.4,724.8 L250.9,724.9 L249.4,725.0 L247.8,725.1 L246.3,725.2 L244.8,725.2 L243.3,725.3 L241.8,725.4 L240.3,725.4 L238.8,725.5 L237.3,725.6 L235.8,725.6 L234.3,725.7 L232.8,725.7 L231.3,725.8 L229.8,725.8 L228.3,725.9 L226.8,725.9 L225.3,726.0 L223.8,726.0 L222.3,726.1 L220.8,726.1 L219.3,726.1 L217.8,726.2 L216.3,726.2 L214.8,726.3 L213.3,726.3 L211.8,726.3 L210.3,726.4 L208.8,726.4 L207.3,726.4 L205.8,726.5 L204.3,726.5 L202.8,726.5 L201.3,726.6 L199.8,726.6 L198.3,726.6 L196.8,726.7 L195.2,726.7 L193.7,726.7 L192.2,726.7 L190.7,726.8 L189.2,726.8 L187.7,726.8 L186.2,726.8 L184.7,726.9 L183.2,726.9 L181.7,726.9 L180.2,726.9 L178.7,727.0 L177.2,727.0 L175.7,727.0 L174.2,727.0 L172.7,727.0 L171.2,727.0 L169.7,727.1 L168.2,727.1 L166.7,727.1 L165.2,727.1 L163.7,727.1 L162.2,727.1 L160.7,727.1 L159.2,727.2 L157.7,727.2 L156.2,727.2 L154.7,727.2 L153.2,727.2 L151.7,727.2 L150.2,727.2 L148.7,727.2 L147.2,727.3 L145.7,727.3 L144.2,727.3 L142.7,727.3 L141.1,727.3 L139.6,727.3 L138.1,727.3 L136.6,727.3 L135.1,727.4 L133.6,727.4 L132.1,727.4 L130.6,727.4 L129.1,727.4 L127.6,727.4 L126.1,727.4 L124.6,727.5 L123.1,727.5 L121.6,727.5 L120.1,727.5 L118.6,727.5 L117.1,727.5 L115.6,727.6 L114.1,727.6 L112.6,727.6 L111.1,727.6 L109.6,727.6 L108.1,727.7 L106.6,727.7 L105.1,727.7 L103.6,727.7 L102.1,727.7 L100.6,727.8 L99.1,727.8 L97.6,727.8 L96.1,727.8 L94.6,727.8 L93.1,727.8 L91.6,727.9 L90.1,727.9 L88.6,727.9 L87.0,727.9 L85.5,728.0 L84.0,728.0 L82.5,728.0 L81.0,728.0 L79.5,728.0 L78.0,728.1 L76.5,728.1 L75.0,728.1 L73.5,728.1 L72.0,728.1 L70.5,728.2 L69.0,728.2 L67.5,728.2 L66.0,728.2 L64.5,728.3 L63.0,728.3 L61.5,728.3 Z" fill="rgb(251, 222, 206)"/><path d="M61.5,647.7 L63.0,647.7 L64.5,647.6 L66.0,647.6 L67.5,647.5 L69.0,647.5 L70.5,647.5 L72.0,647.4 L73.5,647.4 L75.0,647.3 L76.5,647.3 L78.0,647.3 L79.5,647.2 L81.0,647.2 L82.5,647.1 L84.0,647.1 L85.5,647.1 L87.0,647.0 L88.6,647.0 L90.1,646.9 L91.6,646.9 L93.1,646.8 L94.6,646.8 L96.1,646.7 L97.6,646.7 L99.1,646.7 L100.6,646.6 L102.1,646.6 L103.6,646.5 L105.1,646.5 L106.6,646.4 L108.1,646.4 L109.6,646.3 L111.1,646.3 L112.6,646.3 L114.1,646.2 L115.6,646.2 L117.1,646.1 L118.6,646.1 L120.1,646.0 L121.6,646.0 L123.1,645.9 L124.6,645.9 L126.1,645.8 L127.6,645.8 L129.1,645.7 L130.6,645.7 L132.1,645.6 L133.6,645.6 L135.1,645.5 L136.6,645.5 L138.1,645.4 L139.6,645.4 L141.1,645.3 L142.7,645.3 L144.2,645.2 L145.7,645.2 L147.2,645.1 L148.7,645.1 L150.2,645.0 L151.7,644.9 L153.2,644.9 L154.7,644.8 L156.2,644.8 L157.7,644.7 L159.2,644.7 L160.7,644.6 L162.2,644.6 L163.7,644.5 L165.2,644.4 L166.7,644.4 L168.2,644.3 L169.7,644.2 L171.2,644.2 L172.7,644.1 L174.2,644.0 L175.7,643.9 L177.2,643.8 L178.7,643.7 L180.2,643.6 L181.7,643.5 L183.2,643.4 L184.7,643.2 L186.2,643.0 L187.7,642.9 L189.2,642.7 L190.7,642.5 L192.2,642.4 L193.7,642.2 L195.2,642.1 L196.8,642.0 L198.3,641.8 L199.8,641.7 L201.3,641.5 L202.8,641.4 L204.3,641.3 L205.8,641.1 L207.3,641.0 L208.8,640.8 L210.3,640.6 L211.8,640.4 L213.3,640.2 L214.8,640.0 L216.3,639.8 L217.8,639.6 L219.3,639.4 L220.8,639.2 L222.3,638.9 L223.8,638.7 L225.3,638.4 L226.8,638.2 L228.3,637.9 L229.8,637.7 L231.3,637.4 L232.8,637.2 L234.3,636.9 L235.8,636.7 L237.3,636.4 L238.8,636.1 L240.3,635.8 L241.8,635.5 L243.3,635.2 L244.8,634.9 L246.3,634.6 L247.8,634.3 L249.4,633.9 L250.9,633.5 L252.4,633.1 L253.9,632.7 L255.4,632.2 L256.9,631.8 L258.4,631.3 L259.9,630.8 L261.4,630.4 L262.9,629.9 L264.4,629.4 L265.9,629.0 L267.4,628.5 L268.9,628.1 L270.4,627.7 L271.9,627.2 L273.4,626.9 L274.9,626.5 L276.4,626.1 L277.9,625.8 L279.4,625.5 L280.9,625.1 L282.4,624.8 L283.9,624.4 L285.4,624.0 L286.9,623.6 L288.4,623.2 L289.9,622.7 L291.4,622.2 L292.9,621.6 L294.4,620.9 L295.9,620.2 L297.4,619.5 L298.9,618.8 L300.4,618.0 L301.9,617.3 L303.5,616.6 L305.0,616.0 L306.5,615.4 L308.0,614.7 L309.5,614.1 L311.0,613.4 L312.5,612.8 L314.0,612.2 L315.5,611.7 L317.0,611.1 L318.5,610.6 L320.0,610.1 L321.5,609.7 L323.0,609.3 L324.5,608.8 L326.0,608.4 L327.5,608.0 L329.0,607.5 L330.5,607.0 L332.0,606.5 L333.5,606.0 L335.0,605.5 L336.5,605.0 L338.0,604.5 L339.5,603.9 L341.0,603.4 L342.5,602.9 L344.0,602.4 L345.5,601.9 L347.0,601.4 L348.5,600.9 L350.0,600.5 L351.5,600.0 L353.0,599.6 L354.5,599.1 L356.1,598.7 L357.6,598.2 L359.1,597.8 L360.6,597.4 L362.1,597.0 L363.6,596.6 L365.1,596.3 L366.6,595.9 L368.1,595.5 L369.6,595.1 L371.1,594.7 L372.6,594.3 L374.1,593.8 L375.6,593.4 L377.1,592.9 L378.6,592.6 L380.1,592.3 L381.6,592.0 L383.1,591.8 L384.6,591.6 L386.1,591.4 L387.6,591.2 L389.1,591.0 L390.6,590.8 L392.1,590.7 L393.6,590.5 L395.1,590.4 L396.6,590.2 L398.1,590.1 L399.6,589.9 L401.1,589.8 L402.6,589.7 L404.1,589.5 L405.6,589.4 L407.1,589.3 L408.6,589.1 L410.2,589.0 L411.7,588.8 L413.2,588.7 L414.7,588.5 L416.2,588.4 L417.7,588.2 L419.2,588.1 L420.7,587.9 L422.2,587.8 L423.7,587.7 L425.2,587.5 L426.7,587.4 L428.2,587.2 L429.7,587.1 L431.2,587.0 L432.7,586.9 L434.2,586.7 L435.7,586.6 L437.2,586.5 L438.7,586.4 L440.2,586.3 L441.7,586.2 L443.2,586.1 L444.7,586.0 L446.2,585.9 L447.7,585.8 L449.2,585.7 L450.7,585.6 L452.2,585.5 L453.7,585.4 L455.2,585.4 L456.7,585.3 L458.2,585.2 L459.7,585.1 L461.2,585.0 L462.8,585.0 L464.3,584.9 L465.8,584.8 L467.3,584.7 L468.8,584.7 L470.3,584.6 L471.8,584.5 L473.3,584.4 L474.8,584.3 L476.3,584.3 L477.8,584.2 L479.3,584.1 L480.8,584.0 L482.3,583.9 L483.8,583.9 L485.3,583.8 L486.8,583.7 L488.3,583.6 L489.8,583.6 L491.3,583.5 L492.8,583.5 L494.3,583.4 L495.8,583.4 L497.3,583.3 L498.8,583.3 L500.3,583.3 L501.8,583.3 L503.3,583.3 L504.8,583.3 L506.3,583.2 L507.8,583.2 L509.3,583.2 L510.8,583.2 L512.3,583.2 L513.8,583.2 L515.3,583.2 L516.9,583.2 L518.4,583.2 L519.9,583.2 L521.4,583.2 L522.9,583.2 L524.4,583.2 L525.9,583.2 L527.4,583.2 L528.9,583.1 L530.4,583.1 L531.9,583.1 L533.4,583.1 L534.9,583.1 L536.4,583.1 L537.9,583.1 L539.4,583.1 L540.9,583.1 L542.4,583.1 L543.9,583.1 L545.4,583.1 L546.9,583.1 L548.4,583.1 L549.9,583.0 L551.4,583.0 L552.9,583.0 L554.4,583.0 L555.9,583.0 L557.4,583.0 L558.9,583.0 L560.4,583.0 L561.9,583.0 L563.4,583.0 L564.9,583.0 L566.4,583.0 L567.9,583.0 L569.4,582.9 L571.0,582.9 L572.5,582.9 L574.0,582.9 L575.5,582.9 L577.0,582.9 L578.5,582.9 L580.0,582.9 L581.5,582.9 L583.0,582.9 L584.5,582.9 L586.0,582.9 L587.5,582.8 L589.0,582.8 L590.5,582.8 L592.0,582.8 L593.5,582.8 L595.0,582.8 L596.5,582.8 L596.5,697.4 L595.0,697.4 L593.5,697.4 L592.0,697.5 L590.5,697.5 L589.0,697.5 L587.5,697.5 L586.0,697.5 L584.5,697.5 L583.0,697.6 L581.5,697.6 L580.0,697.6 L578.5,697.6 L577.0,697.6 L575.5,697.7 L574.0,697.7 L572.5,697.7 L571.0,697.7 L569.4,697.7 L567.9,697.7 L566.4,697.8 L564.9,697.8 L563.4,697.8 L561.9,697.8 L560.4,697.8 L558.9,697.8 L557.4,697.8 L555.9,697.9 L554.4,697.9 L552.9,697.9 L551.4,697.9 L549.9,697.9 L548.4,697.9 L546.9,697.9 L545.4,697.9 L543.9,698.0 L542.4,698.0 L540.9,698.0 L539.4,698.0 L537.9,698.0 L536.4,698.0 L534.9,698.0 L533.4,698.0 L531.9,698.0 L530.4,698.0 L528.9,698.1 L527.4,698.1 L525.9,698.1 L524.4,698.1 L522.9,698.1 L521.4,698.1 L519.9,698.1 L518.4,698.1 L516.9,698.1 L515.3,698.1 L513.8,698.1 L512.3,698.1 L510.8,698.1 L509.3,698.1 L507.8,698.2 L506.3,698.2 L504.8,698.2 L503.3,698.2 L501.8,698.2 L500.3,698.2 L498.8,698.2 L497.3,698.2 L495.8,698.2 L494.3,698.2 L492.8,698.2 L491.3,698.2 L489.8,698.2 L488.3,698.2 L486.8,698.3 L485.3,698.3 L483.8,698.3 L482.3,698.3 L480.8,698.3 L479.3,698.3 L477.8,698.3 L476.3,698.3 L474.8,698.3 L473.3,698.3 L471.8,698.4 L470.3,698.4 L468.8,698.4 L467.3,698.4 L465.8,698.4 L464.3,698.4 L462.8,698.4 L461.2,698.4 L459.7,698.5 L458.2,698.5 L456.7,698.5 L455.2,698.5 L453.7,698.5 L452.2,698.5 L450.7,698.5 L449.2,698.6 L447.7,698.6 L446.2,698.6 L444.7,698.6 L443.2,698.6 L441.7,698.6 L440.2,698.7 L438.7,698.7 L437.2,698.7 L435.7,698.7 L434.2,698.7 L432.7,698.8 L431.2,698.8 L429.7,698.8 L428.2,698.8 L426.7,698.9 L425.2,698.9 L423.7,698.9 L422.2,698.9 L420.7,699.0 L419.2,699.0 L417.7,699.0 L416.2,699.1 L414.7,699.1 L413.2,699.1 L411.7,699.2 L410.2,699.2 L408.6,699.2 L407.1,699.3 L405.6,699.3 L404.1,699.4 L402.6,699.4 L401.1,699.5 L399.6,699.5 L398.1,699.6 L396.6,699.6 L395.1,699.7 L393.6,699.7 L392.1,699.8 L390.6,699.8 L389.1,699.9 L387.6,700.0 L386.1,700.0 L384.6,700.1 L383.1,700.2 L381.6,700.2 L380.1,700.3 L378.6,700.4 L377.1,700.5 L375.6,700.6 L374.1,700.7 L372.6,700.9 L371.1,701.0 L369.6,701.2 L368.1,701.4 L366.6,701.6 L365.1,701.8 L363.6,702.0 L362.1,702.2 L360.6,702.4 L359.1,702.6 L357.6,702.8 L356.1,703.1 L354.5,703.3 L353.0,703.5 L351.5,703.8 L350.0,704.0 L348.5,704.2 L347.0,704.5 L345.5,704.7 L344.0,704.9 L342.5,705.1 L341.0,705.3 L339.5,705.5 L338.0,705.7 L336.5,705.9 L335.0,706.0 L333.5,706.2 L332.0,706.3 L330.5,706.5 L329.0,706.6 L327.5,706.7 L326.0,706.8 L324.5,706.9 L323.0,707.0 L321.5,707.1 L320.0,707.2 L318.5,707.3 L317.0,707.4 L315.5,707.5 L314.0,707.6 L312.5,707.7 L311.0,707.7 L309.5,707.8 L308.0,707.9 L306.5,708.0 L305.0,708.1 L303.5,708.2 L301.9,708.2 L300.4,708.3 L298.9,708.4 L297.4,708.5 L295.9,708.5 L294.4,708.6 L292.9,708.7 L291.4,708.7 L289.9,708.8 L288.4,708.9 L286.9,708.9 L285.4,709.0 L283.9,709.1 L282.4,709.1 L280.9,709.2 L279.4,709.2 L277.9,709.3 L276.4,709.3 L274.9,709.4 L273.4,709.4 L271.9,709.5 L270.4,709.5 L268.9,709.6 L267.4,709.6 L265.9,709.7 L264.4,709.7 L262.9,709.8 L261.4,709.8 L259.9,709.8 L258.4,709.9 L256.9,709.9 L255.4,710.0 L253.9,710.0 L252.4,710.0 L250.9,710.1 L249.4,710.1 L247.8,710.1 L246.3,710.2 L244.8,710.2 L243.3,710.2 L241.8,710.3 L240.3,710.3 L238.8,710.3 L237.3,710.4 L235.8,710.4 L234.3,710.4 L232.8,710.5 L231.3,710.5 L229.8,710.5 L228.3,710.6 L226.8,710.6 L225.3,710.6 L223.8,710.7 L222.3,710.7 L220.8,710.7 L219.3,710.8 L217.8,710.8 L216.3,710.8 L214.8,710.9 L213.3,710.9 L211.8,710.9 L210.3,710.9 L208.8,711.0 L207.3,711.0 L205.8,711.0 L204.3,711.1 L202.8,711.1 L201.3,711.1 L199.8,711.2 L198.3,711.2 L196.8,711.2 L195.2,711.3 L193.7,711.3 L192.2,711.3 L190.7,711.3 L189.2,711.4 L187.7,711.4 L186.2,711.4 L184.7,711.5 L183.2,711.5 L181.7,711.5 L180.2,711.5 L178.7,711.6 L177.2,711.6 L175.7,711.6 L174.2,711.7 L172.7,711.7 L171.2,711.7 L169.7,711.8 L168.2,711.8 L166.7,711.9 L165.2,711.9 L163.7,711.9 L162.2,712.0 L160.7,712.0 L159.2,712.0 L157.7,712.1 L156.2,712.1 L154.7,712.1 L153.2,712.2 L151.7,712.2 L150.2,712.2 L148.7,712.3 L147.2,712.3 L145.7,712.3 L144.2,712.4 L142.7,712.4 L141.1,712.4 L139.6,712.4 L138.1,712.5 L136.6,712.5 L135.1,712.5 L133.6,712.5 L132.1,712.5 L130.6,712.6 L129.1,712.6 L127.6,712.6 L126.1,712.6 L124.6,712.6 L123.1,712.6 L121.6,712.6 L120.1,712.6 L118.6,712.6 L117.1,712.6 L115.6,712.6 L114.1,712.6 L112.6,712.6 L111.1,712.6 L109.6,712.6 L108.1,712.6 L106.6,712.6 L105.1,712.6 L103.6,712.6 L102.1,712.6 L100.6,712.6 L99.1,712.6 L97.6,712.6 L96.1,712.6 L94.6,712.6 L93.1,712.6 L91.6,712.6 L90.1,712.6 L88.6,712.6 L87.0,712.6 L85.5,712.6 L84.0,712.6 L82.5,712.6 L81.0,712.6 L79.5,712.6 L78.0,712.6 L76.5,712.6 L75.0,712.6 L73.5,712.6 L72.0,712.6 L70.5,712.6 L69.0,712.6 L67.5,712.6 L66.0,712.6 L64.5,712.6 L63.0,712.6 L61.5,712.6 Z" fill="rgb(249, 204, 182)"/><path d="M61.5,659.7 L63.0,659.7 L64.5,659.7 L66.0,659.6 L67.5,659.6 L69.0,659.6 L70.5,659.6 L72.0,659.5 L73.5,659.5 L75.0,659.5 L76.5,659.4 L78.0,659.4 L79.5,659.4 L81.0,659.4 L82.5,659.3 L84.0,659.3 L85.5,659.3 L87.0,659.2 L88.6,659.2 L90.1,659.2 L91.6,659.1 L93.1,659.1 L94.6,659.0 L96.1,659.0 L97.6,659.0 L99.1,658.9 L100.6,658.9 L102.1,658.8 L103.6,658.8 L105.1,658.8 L106.6,658.7 L108.1,658.7 L109.6,658.6 L111.1,658.6 L112.6,658.6 L114.1,658.5 L115.6,658.5 L117.1,658.4 L118.6,658.4 L120.1,658.3 L121.6,658.2 L123.1,658.2 L124.6,658.1 L126.1,658.1 L127.6,658.0 L129.1,658.0 L130.6,657.9 L132.1,657.8 L133.6,657.8 L135.1,657.7 L136.6,657.7 L138.1,657.6 L139.6,657.6 L141.1,657.5 L142.7,657.5 L144.2,657.4 L145.7,657.4 L147.2,657.4 L148.7,657.3 L150.2,657.3 L151.7,657.2 L153.2,657.2 L154.7,657.2 L156.2,657.2 L157.7,657.1 L159.2,657.1 L160.7,657.1 L162.2,657.0 L163.7,657.0 L165.2,657.0 L166.7,656.9 L168.2,656.9 L169.7,656.9 L171.2,656.8 L172.7,656.8 L174.2,656.7 L175.7,656.7 L177.2,656.6 L178.7,656.6 L180.2,656.5 L181.7,656.5 L183.2,656.4 L184.7,656.3 L186.2,656.2 L187.7,656.1 L189.2,656.0 L190.7,655.8 L192.2,655.7 L193.7,655.6 L195.2,655.5 L196.8,655.3 L198.3,655.2 L199.8,655.1 L201.3,654.9 L202.8,654.8 L204.3,654.6 L205.8,654.4 L207.3,654.3 L208.8,654.1 L210.3,653.9 L211.8,653.7 L213.3,653.5 L214.8,653.3 L216.3,653.1 L217.8,652.9 L219.3,652.6 L220.8,652.4 L222.3,652.1 L223.8,651.9 L225.3,651.6 L226.8,651.4 L228.3,651.2 L229.8,651.0 L231.3,650.7 L232.8,650.5 L234.3,650.4 L235.8,650.2 L237.3,650.0 L238.8,649.8 L240.3,649.7 L241.8,649.5 L243.3,649.3 L244.8,649.1 L246.3,648.8 L247.8,648.6 L249.4,648.3 L250.9,648.0 L252.4,647.7 L253.9,647.4 L255.4,647.0 L256.9,646.7 L258.4,646.3 L259.9,645.9 L261.4,645.5 L262.9,645.1 L264.4,644.7 L265.9,644.3 L267.4,643.8 L268.9,643.4 L270.4,643.0 L271.9,642.5 L273.4,642.1 L274.9,641.7 L276.4,641.2 L277.9,640.8 L279.4,640.3 L280.9,639.8 L282.4,639.3 L283.9,638.8 L285.4,638.2 L286.9,637.7 L288.4,637.1 L289.9,636.5 L291.4,635.9 L292.9,635.2 L294.4,634.4 L295.9,633.6 L297.4,632.8 L298.9,632.0 L300.4,631.2 L301.9,630.5 L303.5,629.8 L305.0,629.1 L306.5,628.4 L308.0,627.8 L309.5,627.2 L311.0,626.6 L312.5,626.0 L314.0,625.4 L315.5,624.9 L317.0,624.3 L318.5,623.8 L320.0,623.3 L321.5,622.8 L323.0,622.3 L324.5,621.9 L326.0,621.4 L327.5,620.9 L329.0,620.3 L330.5,619.8 L332.0,619.1 L333.5,618.5 L335.0,617.8 L336.5,617.1 L338.0,616.4 L339.5,615.8 L341.0,615.1 L342.5,614.4 L344.0,613.7 L345.5,613.1 L347.0,612.4 L348.5,611.8 L350.0,611.2 L351.5,610.5 L353.0,609.9 L354.5,609.3 L356.1,608.7 L357.6,608.1 L359.1,607.5 L360.6,607.0 L362.1,606.4 L363.6,605.9 L365.1,605.3 L366.6,604.8 L368.1,604.3 L369.6,603.7 L371.1,603.2 L372.6,602.7 L374.1,602.1 L375.6,601.6 L377.1,601.0 L378.6,600.6 L380.1,600.2 L381.6,599.8 L383.1,599.5 L384.6,599.2 L386.1,598.9 L387.6,598.6 L389.1,598.3 L390.6,598.0 L392.1,597.8 L393.6,597.5 L395.1,597.3 L396.6,597.0 L398.1,596.8 L399.6,596.6 L401.1,596.3 L402.6,596.1 L404.1,595.9 L405.6,595.7 L407.1,595.5 L408.6,595.3 L410.2,595.0 L411.7,594.8 L413.2,594.6 L414.7,594.4 L416.2,594.2 L417.7,594.0 L419.2,593.8 L420.7,593.5 L422.2,593.3 L423.7,593.1 L425.2,592.9 L426.7,592.7 L428.2,592.6 L429.7,592.4 L431.2,592.2 L432.7,592.0 L434.2,591.9 L435.7,591.7 L437.2,591.6 L438.7,591.4 L440.2,591.3 L441.7,591.2 L443.2,591.0 L444.7,590.9 L446.2,590.8 L447.7,590.7 L449.2,590.6 L450.7,590.5 L452.2,590.4 L453.7,590.3 L455.2,590.2 L456.7,590.2 L458.2,590.1 L459.7,590.0 L461.2,589.9 L462.8,589.8 L464.3,589.7 L465.8,589.6 L467.3,589.6 L468.8,589.5 L470.3,589.4 L471.8,589.3 L473.3,589.2 L474.8,589.1 L476.3,589.0 L477.8,588.9 L479.3,588.8 L480.8,588.7 L482.3,588.6 L483.8,588.5 L485.3,588.4 L486.8,588.3 L488.3,588.2 L489.8,588.1 L491.3,588.0 L492.8,587.9 L494.3,587.8 L495.8,587.8 L497.3,587.7 L498.8,587.6 L500.3,587.6 L501.8,587.5 L503.3,587.5 L504.8,587.5 L506.3,587.4 L507.8,587.4 L509.3,587.4 L510.8,587.3 L512.3,587.3 L513.8,587.3 L515.3,587.2 L516.9,587.2 L518.4,587.2 L519.9,587.1 L521.4,587.1 L522.9,587.1 L524.4,587.1 L525.9,587.0 L527.4,587.0 L528.9,587.0 L530.4,587.0 L531.9,586.9 L533.4,586.9 L534.9,586.9 L536.4,586.9 L537.9,586.8 L539.4,586.8 L540.9,586.8 L542.4,586.8 L543.9,586.7 L545.4,586.7 L546.9,586.7 L548.4,586.7 L549.9,586.6 L551.4,586.6 L552.9,586.6 L554.4,586.5 L555.9,586.5 L557.4,586.5 L558.9,586.5 L560.4,586.4 L561.9,586.4 L563.4,586.4 L564.9,586.4 L566.4,586.3 L567.9,586.3 L569.4,586.3 L571.0,586.3 L572.5,586.3 L574.0,586.2 L575.5,586.2 L577.0,586.2 L578.5,586.2 L580.0,586.1 L581.5,586.1 L583.0,586.1 L584.5,586.1 L586.0,586.0 L587.5,586.0 L589.0,586.0 L590.5,586.0 L592.0,586.0 L593.5,585.9 L595.0,585.9 L596.5,585.9 L596.5,683.4 L595.0,683.4 L593.5,683.5 L592.0,683.5 L590.5,683.5 L589.0,683.5 L587.5,683.6 L586.0,683.6 L584.5,683.6 L583.0,683.7 L581.5,683.7 L580.0,683.7 L578.5,683.7 L577.0,683.8 L575.5,683.8 L574.0,683.8 L572.5,683.8 L571.0,683.9 L569.4,683.9 L567.9,683.9 L566.4,683.9 L564.9,684.0 L563.4,684.0 L561.9,684.0 L560.4,684.0 L558.9,684.0 L557.4,684.1 L555.9,684.1 L554.4,684.1 L552.9,684.1 L551.4,684.1 L549.9,684.2 L548.4,684.2 L546.9,684.2 L545.4,684.2 L543.9,684.2 L542.4,684.3 L540.9,684.3 L539.4,684.3 L537.9,684.3 L536.4,684.3 L534.9,684.3 L533.4,684.3 L531.9,684.4 L530.4,684.4 L528.9,684.4 L527.4,684.4 L525.9,684.4 L524.4,684.4 L522.9,684.4 L521.4,684.4 L519.9,684.4 L518.4,684.4 L516.9,684.4 L515.3,684.5 L513.8,684.5 L512.3,684.5 L510.8,684.5 L509.3,684.5 L507.8,684.5 L506.3,684.5 L504.8,684.5 L503.3,684.5 L501.8,684.5 L500.3,684.5 L498.8,684.5 L497.3,684.6 L495.8,684.6 L494.3,684.6 L492.8,684.6 L491.3,684.6 L489.8,684.6 L488.3,684.6 L486.8,684.6 L485.3,684.6 L483.8,684.7 L482.3,684.7 L480.8,684.7 L479.3,684.7 L477.8,684.7 L476.3,684.7 L474.8,684.8 L473.3,684.8 L471.8,684.8 L470.3,684.8 L468.8,684.9 L467.3,684.9 L465.8,684.9 L464.3,684.9 L462.8,685.0 L461.2,685.0 L459.7,685.0 L458.2,685.1 L456.7,685.1 L455.2,685.1 L453.7,685.2 L452.2,685.2 L450.7,685.2 L449.2,685.3 L447.7,685.3 L446.2,685.3 L444.7,685.4 L443.2,685.4 L441.7,685.5 L440.2,685.5 L438.7,685.5 L437.2,685.6 L435.7,685.6 L434.2,685.7 L432.7,685.7 L431.2,685.8 L429.7,685.8 L428.2,685.9 L426.7,685.9 L425.2,686.0 L423.7,686.0 L422.2,686.1 L420.7,686.1 L419.2,686.2 L417.7,686.2 L416.2,686.3 L414.7,686.4 L413.2,686.4 L411.7,686.5 L410.2,686.6 L408.6,686.7 L407.1,686.7 L405.6,686.8 L404.1,686.9 L402.6,687.0 L401.1,687.1 L399.6,687.2 L398.1,687.2 L396.6,687.3 L395.1,687.4 L393.6,687.5 L392.1,687.6 L390.6,687.7 L389.1,687.8 L387.6,687.9 L386.1,688.0 L384.6,688.1 L383.1,688.3 L381.6,688.4 L380.1,688.5 L378.6,688.6 L377.1,688.8 L375.6,688.9 L374.1,689.1 L372.6,689.3 L371.1,689.5 L369.6,689.7 L368.1,690.0 L366.6,690.2 L365.1,690.4 L363.6,690.7 L362.1,691.0 L360.6,691.2 L359.1,691.5 L357.6,691.8 L356.1,692.0 L354.5,692.3 L353.0,692.6 L351.5,692.9 L350.0,693.1 L348.5,693.4 L347.0,693.7 L345.5,693.9 L344.0,694.1 L342.5,694.4 L341.0,694.6 L339.5,694.8 L338.0,695.0 L336.5,695.2 L335.0,695.4 L333.5,695.5 L332.0,695.7 L330.5,695.8 L329.0,695.9 L327.5,696.0 L326.0,696.1 L324.5,696.1 L323.0,696.2 L321.5,696.3 L320.0,696.4 L318.5,696.5 L317.0,696.5 L315.5,696.6 L314.0,696.7 L312.5,696.8 L311.0,696.8 L309.5,696.9 L308.0,697.0 L306.5,697.0 L305.0,697.1 L303.5,697.1 L301.9,697.2 L300.4,697.3 L298.9,697.3 L297.4,697.4 L295.9,697.4 L294.4,697.5 L292.9,697.5 L291.4,697.6 L289.9,697.6 L288.4,697.7 L286.9,697.7 L285.4,697.8 L283.9,697.8 L282.4,697.9 L280.9,697.9 L279.4,698.0 L277.9,698.0 L276.4,698.1 L274.9,698.1 L273.4,698.1 L271.9,698.2 L270.4,698.2 L268.9,698.3 L267.4,698.3 L265.9,698.4 L264.4,698.5 L262.9,698.5 L261.4,698.6 L259.9,698.6 L258.4,698.7 L256.9,698.7 L255.4,698.8 L253.9,698.8 L252.4,698.9 L250.9,698.9 L249.4,699.0 L247.8,699.0 L246.3,699.1 L244.8,699.1 L243.3,699.1 L241.8,699.2 L240.3,699.2 L238.8,699.2 L237.3,699.3 L235.8,699.3 L234.3,699.3 L232.8,699.3 L231.3,699.3 L229.8,699.3 L228.3,699.3 L226.8,699.3 L225.3,699.3 L223.8,699.3 L222.3,699.3 L220.8,699.3 L219.3,699.3 L217.8,699.3 L216.3,699.3 L214.8,699.3 L213.3,699.3 L211.8,699.3 L210.3,699.3 L208.8,699.3 L207.3,699.3 L205.8,699.3 L204.3,699.3 L202.8,699.3 L201.3,699.3 L199.8,699.3 L198.3,699.3 L196.8,699.3 L195.2,699.3 L193.7,699.3 L192.2,699.3 L190.7,699.3 L189.2,699.3 L187.7,699.3 L186.2,699.3 L184.7,699.3 L183.2,699.3 L181.7,699.3 L180.2,699.3 L178.7,699.3 L177.2,699.3 L175.7,699.3 L174.2,699.3 L172.7,699.4 L171.2,699.4 L169.7,699.4 L168.2,699.4 L166.7,699.5 L165.2,699.5 L163.7,699.5 L162.2,699.5 L160.7,699.6 L159.2,699.6 L157.7,699.6 L156.2,699.7 L154.7,699.7 L153.2,699.7 L151.7,699.8 L150.2,699.8 L148.7,699.8 L147.2,699.9 L145.7,699.9 L144.2,699.9 L142.7,700.0 L141.1,700.0 L139.6,700.0 L138.1,700.1 L136.6,700.1 L135.1,700.1 L133.6,700.2 L132.1,700.2 L130.6,700.2 L129.1,700.2 L127.6,700.2 L126.1,700.3 L124.6,700.3 L123.1,700.3 L121.6,700.3 L120.1,700.3 L118.6,700.3 L117.1,700.3 L115.6,700.3 L114.1,700.3 L112.6,700.3 L111.1,700.4 L109.6,700.4 L108.1,700.4 L106.6,700.4 L105.1,700.4 L103.6,700.4 L102.1,700.4 L100.6,700.4 L99.1,700.4 L97.6,700.4 L96.1,700.4 L94.6,700.4 L93.1,700.4 L91.6,700.4 L90.1,700.4 L88.6,700.5 L87.0,700.5 L85.5,700.5 L84.0,700.5 L82.5,700.5 L81.0,700.5 L79.5,700.5 L78.0,700.5 L76.5,700.5 L75.0,700.5 L73.5,700.5 L72.0,700.5 L70.5,700.5 L69.0,700.5 L67.5,700.5 L66.0,700.5 L64.5,700.5 L63.0,700.5 L61.5,700.5 Z" fill="rgb(245, 183, 155)"/><path d="M61.5,675.8 L63.0,675.7 L64.5,675.6 L66.0,675.5 L67.5,675.4 L69.0,675.4 L70.5,675.3 L72.0,675.2 L73.5,675.1 L75.0,675.0 L76.5,675.0 L78.0,674.9 L79.5,674.8 L81.0,674.8 L82.5,674.7 L84.0,674.6 L85.5,674.6 L87.0,674.5 L88.6,674.5 L90.1,674.4 L91.6,674.4 L93.1,674.4 L94.6,674.4 L96.1,674.3 L97.6,674.3 L99.1,674.3 L100.6,674.3 L102.1,674.3 L103.6,674.3 L105.1,674.3 L106.6,674.3 L108.1,674.3 L109.6,674.3 L111.1,674.3 L112.6,674.4 L114.1,674.4 L115.6,674.4 L117.1,674.4 L118.6,674.4 L120.1,674.4 L121.6,674.4 L123.1,674.5 L124.6,674.5 L126.1,674.5 L127.6,674.5 L129.1,674.5 L130.6,674.6 L132.1,674.6 L133.6,674.6 L135.1,674.6 L136.6,674.6 L138.1,674.7 L139.6,674.7 L141.1,674.7 L142.7,674.7 L144.2,674.7 L145.7,674.8 L147.2,674.8 L148.7,674.8 L150.2,674.8 L151.7,674.9 L153.2,674.9 L154.7,674.9 L156.2,674.9 L157.7,675.0 L159.2,675.0 L160.7,675.0 L162.2,675.1 L163.7,675.1 L165.2,675.1 L166.7,675.1 L168.2,675.2 L169.7,675.2 L171.2,675.2 L172.7,675.2 L174.2,675.3 L175.7,675.3 L177.2,675.3 L178.7,675.3 L180.2,675.3 L181.7,675.3 L183.2,675.3 L184.7,675.3 L186.2,675.2 L187.7,675.1 L189.2,675.0 L190.7,674.8 L192.2,674.7 L193.7,674.5 L195.2,674.3 L196.8,674.1 L198.3,673.8 L199.8,673.6 L201.3,673.4 L202.8,673.1 L204.3,672.8 L205.8,672.4 L207.3,672.0 L208.8,671.6 L210.3,671.2 L211.8,670.8 L213.3,670.4 L214.8,670.0 L216.3,669.5 L217.8,669.1 L219.3,668.6 L220.8,668.1 L222.3,667.7 L223.8,667.2 L225.3,666.7 L226.8,666.3 L228.3,665.8 L229.8,665.4 L231.3,665.0 L232.8,664.6 L234.3,664.2 L235.8,663.8 L237.3,663.4 L238.8,663.1 L240.3,662.7 L241.8,662.3 L243.3,662.0 L244.8,661.6 L246.3,661.2 L247.8,660.8 L249.4,660.5 L250.9,660.1 L252.4,659.8 L253.9,659.4 L255.4,659.1 L256.9,658.7 L258.4,658.4 L259.9,658.0 L261.4,657.7 L262.9,657.3 L264.4,656.9 L265.9,656.6 L267.4,656.2 L268.9,655.7 L270.4,655.3 L271.9,654.8 L273.4,654.4 L274.9,653.8 L276.4,653.3 L277.9,652.8 L279.4,652.2 L280.9,651.6 L282.4,651.0 L283.9,650.3 L285.4,649.7 L286.9,649.0 L288.4,648.3 L289.9,647.6 L291.4,646.9 L292.9,646.1 L294.4,645.2 L295.9,644.4 L297.4,643.5 L298.9,642.6 L300.4,641.7 L301.9,640.9 L303.5,640.2 L305.0,639.5 L306.5,638.8 L308.0,638.2 L309.5,637.5 L311.0,636.9 L312.5,636.4 L314.0,635.8 L315.5,635.2 L317.0,634.6 L318.5,634.1 L320.0,633.5 L321.5,633.0 L323.0,632.5 L324.5,632.0 L326.0,631.5 L327.5,630.9 L329.0,630.3 L330.5,629.7 L332.0,629.1 L333.5,628.4 L335.0,627.7 L336.5,626.9 L338.0,626.2 L339.5,625.4 L341.0,624.7 L342.5,624.0 L344.0,623.2 L345.5,622.5 L347.0,621.9 L348.5,621.2 L350.0,620.5 L351.5,619.8 L353.0,619.1 L354.5,618.4 L356.1,617.8 L357.6,617.1 L359.1,616.5 L360.6,615.9 L362.1,615.3 L363.6,614.8 L365.1,614.2 L366.6,613.7 L368.1,613.1 L369.6,612.5 L371.1,611.8 L372.6,611.1 L374.1,610.4 L375.6,609.6 L377.1,608.9 L378.6,608.3 L380.1,607.8 L381.6,607.4 L383.1,607.0 L384.6,606.6 L386.1,606.3 L387.6,605.9 L389.1,605.6 L390.6,605.3 L392.1,605.0 L393.6,604.8 L395.1,604.5 L396.6,604.3 L398.1,604.0 L399.6,603.8 L401.1,603.5 L402.6,603.3 L404.1,603.1 L405.6,602.8 L407.1,602.6 L408.6,602.3 L410.2,602.0 L411.7,601.8 L413.2,601.5 L414.7,601.2 L416.2,600.9 L417.7,600.6 L419.2,600.3 L420.7,600.0 L422.2,599.7 L423.7,599.4 L425.2,599.1 L426.7,598.9 L428.2,598.6 L429.7,598.3 L431.2,598.1 L432.7,597.8 L434.2,597.6 L435.7,597.4 L437.2,597.2 L438.7,597.0 L440.2,596.8 L441.7,596.6 L443.2,596.4 L444.7,596.3 L446.2,596.1 L447.7,596.0 L449.2,595.8 L450.7,595.7 L452.2,595.6 L453.7,595.4 L455.2,595.3 L456.7,595.2 L458.2,595.0 L459.7,594.9 L461.2,594.8 L462.8,594.7 L464.3,594.6 L465.8,594.5 L467.3,594.4 L468.8,594.3 L470.3,594.2 L471.8,594.1 L473.3,594.0 L474.8,593.9 L476.3,593.8 L477.8,593.7 L479.3,593.6 L480.8,593.5 L482.3,593.4 L483.8,593.3 L485.3,593.3 L486.8,593.2 L488.3,593.1 L489.8,593.0 L491.3,592.9 L492.8,592.9 L494.3,592.8 L495.8,592.7 L497.3,592.6 L498.8,592.6 L500.3,592.5 L501.8,592.4 L503.3,592.3 L504.8,592.3 L506.3,592.2 L507.8,592.1 L509.3,592.0 L510.8,592.0 L512.3,591.9 L513.8,591.8 L515.3,591.7 L516.9,591.7 L518.4,591.6 L519.9,591.5 L521.4,591.5 L522.9,591.4 L524.4,591.3 L525.9,591.3 L527.4,591.2 L528.9,591.1 L530.4,591.1 L531.9,591.0 L533.4,591.0 L534.9,590.9 L536.4,590.8 L537.9,590.8 L539.4,590.7 L540.9,590.7 L542.4,590.6 L543.9,590.6 L545.4,590.5 L546.9,590.5 L548.4,590.4 L549.9,590.3 L551.4,590.3 L552.9,590.2 L554.4,590.2 L555.9,590.1 L557.4,590.1 L558.9,590.0 L560.4,590.0 L561.9,589.9 L563.4,589.9 L564.9,589.8 L566.4,589.8 L567.9,589.8 L569.4,589.7 L571.0,589.7 L572.5,589.6 L574.0,589.6 L575.5,589.5 L577.0,589.5 L578.5,589.4 L580.0,589.4 L581.5,589.4 L583.0,589.3 L584.5,589.3 L586.0,589.2 L587.5,589.2 L589.0,589.2 L590.5,589.1 L592.0,589.1 L593.5,589.1 L595.0,589.0 L596.5,589.0 L596.5,673.8 L595.0,673.8 L593.5,673.9 L592.0,673.9 L590.5,673.9 L589.0,673.9 L587.5,674.0 L586.0,674.0 L584.5,674.0 L583.0,674.0 L581.5,674.1 L580.0,674.1 L578.5,674.1 L577.0,674.1 L575.5,674.2 L574.0,674.2 L572.5,674.2 L571.0,674.2 L569.4,674.3 L567.9,674.3 L566.4,674.3 L564.9,674.3 L563.4,674.4 L561.9,674.4 L560.4,674.4 L558.9,674.4 L557.4,674.5 L555.9,674.5 L554.4,674.5 L552.9,674.5 L551.4,674.5 L549.9,674.6 L548.4,674.6 L546.9,674.6 L545.4,674.6 L543.9,674.6 L542.4,674.6 L540.9,674.7 L539.4,674.7 L537.9,674.7 L536.4,674.7 L534.9,674.7 L533.4,674.7 L531.9,674.8 L530.4,674.8 L528.9,674.8 L527.4,674.8 L525.9,674.8 L524.4,674.8 L522.9,674.8 L521.4,674.8 L519.9,674.9 L518.4,674.9 L516.9,674.9 L515.3,674.9 L513.8,674.9 L512.3,674.9 L510.8,674.9 L509.3,674.9 L507.8,674.9 L506.3,674.9 L504.8,675.0 L503.3,675.0 L501.8,675.0 L500.3,675.0 L498.8,675.0 L497.3,675.0 L495.8,675.0 L494.3,675.0 L492.8,675.0 L491.3,675.1 L489.8,675.1 L488.3,675.1 L486.8,675.1 L485.3,675.1 L483.8,675.1 L482.3,675.2 L480.8,675.2 L479.3,675.2 L477.8,675.2 L476.3,675.3 L474.8,675.3 L473.3,675.3 L471.8,675.4 L470.3,675.4 L468.8,675.5 L467.3,675.5 L465.8,675.6 L464.3,675.7 L462.8,675.7 L461.2,675.8 L459.7,675.9 L458.2,675.9 L456.7,676.0 L455.2,676.1 L453.7,676.2 L452.2,676.2 L450.7,676.3 L449.2,676.4 L447.7,676.5 L446.2,676.6 L444.7,676.7 L443.2,676.7 L441.7,676.8 L440.2,676.9 L438.7,677.0 L437.2,677.1 L435.7,677.2 L434.2,677.3 L432.7,677.4 L431.2,677.4 L429.7,677.5 L428.2,677.6 L426.7,677.7 L425.2,677.8 L423.7,677.9 L422.2,678.0 L420.7,678.1 L419.2,678.1 L417.7,678.2 L416.2,678.3 L414.7,678.4 L413.2,678.5 L411.7,678.7 L410.2,678.8 L408.6,678.9 L407.1,679.0 L405.6,679.1 L404.1,679.2 L402.6,679.3 L401.1,679.4 L399.6,679.5 L398.1,679.6 L396.6,679.7 L395.1,679.8 L393.6,679.9 L392.1,680.0 L390.6,680.2 L389.1,680.3 L387.6,680.4 L386.1,680.5 L384.6,680.6 L383.1,680.7 L381.6,680.8 L380.1,680.9 L378.6,681.0 L377.1,681.1 L375.6,681.2 L374.1,681.3 L372.6,681.4 L371.1,681.5 L369.6,681.7 L368.1,681.8 L366.6,681.9 L365.1,682.0 L363.6,682.1 L362.1,682.2 L360.6,682.3 L359.1,682.4 L357.6,682.6 L356.1,682.7 L354.5,682.8 L353.0,682.9 L351.5,683.0 L350.0,683.1 L348.5,683.2 L347.0,683.3 L345.5,683.4 L344.0,683.5 L342.5,683.6 L341.0,683.7 L339.5,683.8 L338.0,683.9 L336.5,684.0 L335.0,684.1 L333.5,684.1 L332.0,684.2 L330.5,684.3 L329.0,684.3 L327.5,684.4 L326.0,684.5 L324.5,684.5 L323.0,684.6 L321.5,684.6 L320.0,684.7 L318.5,684.7 L317.0,684.8 L315.5,684.8 L314.0,684.9 L312.5,684.9 L311.0,685.0 L309.5,685.0 L308.0,685.1 L306.5,685.1 L305.0,685.2 L303.5,685.2 L301.9,685.2 L300.4,685.3 L298.9,685.3 L297.4,685.4 L295.9,685.4 L294.4,685.5 L292.9,685.5 L291.4,685.6 L289.9,685.6 L288.4,685.7 L286.9,685.7 L285.4,685.8 L283.9,685.8 L282.4,685.8 L280.9,685.9 L279.4,685.9 L277.9,685.9 L276.4,686.0 L274.9,686.0 L273.4,686.0 L271.9,686.0 L270.4,686.0 L268.9,686.0 L267.4,686.0 L265.9,685.9 L264.4,685.9 L262.9,685.8 L261.4,685.8 L259.9,685.7 L258.4,685.7 L256.9,685.6 L255.4,685.5 L253.9,685.4 L252.4,685.4 L250.9,685.3 L249.4,685.2 L247.8,685.1 L246.3,685.0 L244.8,684.9 L243.3,684.8 L241.8,684.7 L240.3,684.6 L238.8,684.5 L237.3,684.4 L235.8,684.2 L234.3,684.1 L232.8,684.0 L231.3,683.9 L229.8,683.8 L228.3,683.7 L226.8,683.6 L225.3,683.4 L223.8,683.3 L222.3,683.1 L220.8,683.0 L219.3,682.8 L217.8,682.7 L216.3,682.5 L214.8,682.3 L213.3,682.2 L211.8,682.0 L210.3,681.8 L208.8,681.7 L207.3,681.5 L205.8,681.4 L204.3,681.2 L202.8,681.1 L201.3,681.0 L199.8,680.9 L198.3,680.8 L196.8,680.7 L195.2,680.5 L193.7,680.4 L192.2,680.3 L190.7,680.2 L189.2,680.1 L187.7,680.0 L186.2,680.0 L184.7,679.9 L183.2,679.9 L181.7,679.9 L180.2,679.9 L178.7,679.9 L177.2,679.9 L175.7,679.9 L174.2,680.0 L172.7,680.0 L171.2,680.0 L169.7,680.0 L168.2,680.1 L166.7,680.1 L165.2,680.2 L163.7,680.2 L162.2,680.2 L160.7,680.3 L159.2,680.3 L157.7,680.4 L156.2,680.4 L154.7,680.5 L153.2,680.5 L151.7,680.6 L150.2,680.6 L148.7,680.7 L147.2,680.7 L145.7,680.8 L144.2,680.8 L142.7,680.9 L141.1,680.9 L139.6,681.0 L138.1,681.0 L136.6,681.1 L135.1,681.2 L133.6,681.2 L132.1,681.3 L130.6,681.4 L129.1,681.5 L127.6,681.6 L126.1,681.7 L124.6,681.8 L123.1,681.9 L121.6,681.9 L120.1,682.0 L118.6,682.1 L117.1,682.2 L115.6,682.3 L114.1,682.3 L112.6,682.4 L111.1,682.5 L109.6,682.5 L108.1,682.6 L106.6,682.6 L105.1,682.7 L103.6,682.7 L102.1,682.7 L100.6,682.7 L99.1,682.7 L97.6,682.7 L96.1,682.7 L94.6,682.7 L93.1,682.6 L91.6,682.6 L90.1,682.6 L88.6,682.6 L87.0,682.5 L85.5,682.5 L84.0,682.5 L82.5,682.4 L81.0,682.4 L79.5,682.3 L78.0,682.2 L76.5,682.2 L75.0,682.1 L73.5,682.0 L72.0,682.0 L70.5,681.9 L69.0,681.8 L67.5,681.7 L66.0,681.6 L64.5,681.5 L63.0,681.4 L61.5,681.3 Z" fill="rgb(239, 157, 126)"/><path d="M283.0,664.1 L284.5,663.7 L286.0,663.1 L287.5,662.6 L289.0,661.9 L290.5,661.3 L292.0,660.4 L293.5,659.5 L295.0,658.5 L296.5,657.4 L298.0,656.3 L299.5,655.2 L301.0,654.2 L302.5,653.2 L304.0,652.3 L305.5,651.5 L307.0,650.7 L308.5,649.9 L310.0,649.2 L311.5,648.4 L313.0,647.7 L314.5,647.0 L316.0,646.3 L317.5,645.5 L319.0,644.8 L320.5,644.1 L322.0,643.4 L323.5,642.6 L325.0,641.9 L326.5,641.2 L328.0,640.5 L329.5,639.8 L331.0,639.1 L332.5,638.5 L334.0,637.8 L335.5,637.2 L337.0,636.6 L338.5,635.9 L340.0,635.3 L341.5,634.7 L343.0,634.0 L344.5,633.3 L346.0,632.6 L347.5,631.9 L349.0,631.1 L350.5,630.4 L352.0,629.6 L353.5,628.8 L355.0,628.1 L356.5,627.3 L358.0,626.6 L359.5,625.9 L361.0,625.3 L362.5,624.6 L364.0,624.0 L365.5,623.4 L367.0,622.8 L368.5,622.2 L370.0,621.5 L371.5,620.7 L373.0,619.9 L374.5,619.0 L376.0,618.2 L377.5,617.4 L379.0,616.7 L380.5,616.1 L382.0,615.6 L383.5,615.2 L385.0,614.8 L386.5,614.3 L388.0,614.0 L389.5,613.6 L391.0,613.3 L392.5,612.9 L394.0,612.6 L395.5,612.3 L397.0,612.0 L398.5,611.7 L400.0,611.4 L401.5,611.1 L403.0,610.8 L404.5,610.5 L406.0,610.2 L407.5,609.8 L409.0,609.5 L410.5,609.1 L412.0,608.7 L413.5,608.3 L415.0,607.9 L416.5,607.4 L418.0,607.0 L419.5,606.5 L421.0,606.1 L422.5,605.6 L424.0,605.2 L425.5,604.7 L427.0,604.3 L428.5,603.8 L430.0,603.4 L431.5,603.0 L433.0,602.7 L434.5,602.3 L436.0,602.0 L437.5,601.8 L439.0,601.5 L440.5,601.3 L442.0,601.2 L443.5,601.0 L445.0,600.8 L446.5,600.7 L448.0,600.6 L449.5,600.4 L451.0,600.3 L452.5,600.2 L454.0,600.1 L455.5,600.0 L457.0,599.9 L458.5,599.8 L460.0,599.7 L461.5,599.6 L463.0,599.5 L464.5,599.4 L466.0,599.3 L467.5,599.2 L469.0,599.1 L470.5,598.9 L472.0,598.8 L473.5,598.7 L475.0,598.6 L476.5,598.5 L478.0,598.4 L479.5,598.3 L481.0,598.1 L482.5,598.0 L484.0,597.9 L485.5,597.8 L487.0,597.7 L488.5,597.6 L490.0,597.5 L491.5,597.4 L493.0,597.3 L494.5,597.2 L496.0,597.1 L497.5,597.0 L499.0,596.9 L500.5,596.8 L502.0,596.7 L503.5,596.6 L505.0,596.5 L506.5,596.4 L508.0,596.3 L509.5,596.2 L511.0,596.1 L512.5,596.0 L514.0,595.9 L515.5,595.9 L517.0,595.8 L518.5,595.7 L520.0,595.6 L521.5,595.5 L523.0,595.4 L524.5,595.4 L526.0,595.3 L527.5,595.2 L529.0,595.1 L530.5,595.1 L532.0,595.0 L533.5,594.9 L535.0,594.8 L536.5,594.8 L538.0,594.7 L539.5,594.6 L541.0,594.6 L542.5,594.5 L544.0,594.4 L545.5,594.4 L547.0,594.3 L548.5,594.2 L550.0,594.2 L551.5,594.1 L553.0,594.0 L554.5,594.0 L556.0,593.9 L557.5,593.8 L559.0,593.8 L560.5,593.7 L562.0,593.7 L563.5,593.6 L565.0,593.5 L566.5,593.5 L568.0,593.4 L569.5,593.4 L571.0,593.3 L572.5,593.3 L574.0,593.2 L575.5,593.2 L577.0,593.1 L578.5,593.1 L580.0,593.0 L581.5,593.0 L583.0,592.9 L584.5,592.9 L586.0,592.8 L587.5,592.8 L589.0,592.7 L590.5,592.7 L592.0,592.6 L593.5,592.6 L595.0,592.5 L596.5,592.5 L596.5,666.8 L595.0,666.9 L593.5,666.9 L592.0,667.0 L590.5,667.0 L589.0,667.1 L587.5,667.1 L586.0,667.2 L584.5,667.2 L583.0,667.3 L581.5,667.3 L580.0,667.4 L578.5,667.4 L577.0,667.5 L575.5,667.5 L574.0,667.6 L572.5,667.6 L571.0,667.6 L569.5,667.7 L568.0,667.7 L566.5,667.8 L565.0,667.8 L563.5,667.9 L562.0,667.9 L560.5,668.0 L559.0,668.0 L557.5,668.0 L556.0,668.1 L554.5,668.1 L553.0,668.2 L551.5,668.2 L550.0,668.2 L548.5,668.3 L547.0,668.3 L545.5,668.3 L544.0,668.4 L542.5,668.4 L541.0,668.4 L539.5,668.5 L538.0,668.5 L536.5,668.5 L535.0,668.6 L533.5,668.6 L532.0,668.6 L530.5,668.6 L529.0,668.7 L527.5,668.7 L526.0,668.7 L524.5,668.7 L523.0,668.8 L521.5,668.8 L520.0,668.8 L518.5,668.8 L517.0,668.8 L515.5,668.9 L514.0,668.9 L512.5,668.9 L511.0,668.9 L509.5,668.9 L508.0,669.0 L506.5,669.0 L505.0,669.0 L503.5,669.0 L502.0,669.0 L500.5,669.1 L499.0,669.1 L497.5,669.1 L496.0,669.1 L494.5,669.1 L493.0,669.2 L491.5,669.2 L490.0,669.2 L488.5,669.2 L487.0,669.3 L485.5,669.3 L484.0,669.3 L482.5,669.3 L481.0,669.4 L479.5,669.4 L478.0,669.4 L476.5,669.5 L475.0,669.5 L473.5,669.6 L472.0,669.6 L470.5,669.6 L469.0,669.7 L467.5,669.7 L466.0,669.8 L464.5,669.8 L463.0,669.9 L461.5,669.9 L460.0,670.0 L458.5,670.0 L457.0,670.1 L455.5,670.1 L454.0,670.2 L452.5,670.2 L451.0,670.3 L449.5,670.3 L448.0,670.4 L446.5,670.4 L445.0,670.5 L443.5,670.5 L442.0,670.6 L440.5,670.6 L439.0,670.7 L437.5,670.7 L436.0,670.8 L434.5,670.8 L433.0,670.9 L431.5,670.9 L430.0,671.0 L428.5,671.1 L427.0,671.1 L425.5,671.2 L424.0,671.2 L422.5,671.3 L421.0,671.3 L419.5,671.4 L418.0,671.4 L416.5,671.5 L415.0,671.5 L413.5,671.6 L412.0,671.7 L410.5,671.7 L409.0,671.8 L407.5,671.8 L406.0,671.9 L404.5,672.0 L403.0,672.0 L401.5,672.1 L400.0,672.1 L398.5,672.2 L397.0,672.2 L395.5,672.3 L394.0,672.3 L392.5,672.4 L391.0,672.4 L389.5,672.5 L388.0,672.6 L386.5,672.6 L385.0,672.6 L383.5,672.7 L382.0,672.7 L380.5,672.8 L379.0,672.8 L377.5,672.9 L376.0,672.9 L374.5,673.0 L373.0,673.0 L371.5,673.1 L370.0,673.1 L368.5,673.1 L367.0,673.2 L365.5,673.2 L364.0,673.3 L362.5,673.3 L361.0,673.4 L359.5,673.4 L358.0,673.4 L356.5,673.5 L355.0,673.5 L353.5,673.6 L352.0,673.6 L350.5,673.6 L349.0,673.7 L347.5,673.7 L346.0,673.7 L344.5,673.8 L343.0,673.8 L341.5,673.8 L340.0,673.9 L338.5,673.9 L337.0,673.9 L335.5,673.9 L334.0,674.0 L332.5,674.0 L331.0,674.0 L329.5,674.0 L328.0,674.0 L326.5,674.0 L325.0,674.0 L323.5,674.1 L322.0,674.1 L320.5,674.1 L319.0,674.1 L317.5,674.1 L316.0,674.1 L314.5,674.1 L313.0,674.1 L311.5,674.1 L310.0,674.1 L308.5,674.0 L307.0,674.0 L305.5,673.9 L304.0,673.8 L302.5,673.7 L301.0,673.5 L299.5,673.4 L298.0,673.2 L296.5,673.0 L295.0,672.8 L293.5,672.5 L292.0,672.3 L290.5,671.8 L289.0,670.9 L287.5,669.9 L286.0,668.5 L284.5,666.5 L283.0,664.1 Z" fill="rgb(229, 130, 102)"/><path d="M334.3,649.6 L335.8,648.4 L337.3,647.2 L338.8,646.1 L340.3,645.1 L341.8,644.2 L343.3,643.3 L344.8,642.4 L346.4,641.6 L347.9,640.8 L349.4,640.0 L350.9,639.3 L352.4,638.5 L353.9,637.8 L355.4,637.0 L356.9,636.3 L358.4,635.6 L359.9,635.0 L361.4,634.3 L362.9,633.6 L364.4,632.9 L365.9,632.2 L367.5,631.5 L369.0,630.8 L370.5,630.1 L372.0,629.3 L373.5,628.4 L375.0,627.5 L376.5,626.7 L378.0,625.9 L379.5,625.2 L381.0,624.6 L382.5,624.1 L384.0,623.5 L385.5,623.1 L387.0,622.6 L388.5,622.1 L390.1,621.7 L391.6,621.3 L393.1,620.9 L394.6,620.5 L396.1,620.1 L397.6,619.8 L399.1,619.4 L400.6,619.0 L402.1,618.6 L403.6,618.2 L405.1,617.8 L406.6,617.4 L408.1,617.0 L409.6,616.5 L411.2,616.1 L412.7,615.6 L414.2,615.0 L415.7,614.5 L417.2,613.9 L418.7,613.3 L420.2,612.8 L421.7,612.2 L423.2,611.6 L424.7,611.0 L426.2,610.4 L427.7,609.9 L429.2,609.4 L430.7,608.8 L432.2,608.4 L433.8,607.9 L435.3,607.5 L436.8,607.1 L438.3,606.8 L439.8,606.5 L441.3,606.3 L442.8,606.1 L444.3,605.9 L445.8,605.7 L447.3,605.5 L448.8,605.3 L450.3,605.2 L451.8,605.0 L453.3,604.9 L454.9,604.7 L456.4,604.6 L457.9,604.4 L459.4,604.3 L460.9,604.2 L462.4,604.1 L463.9,603.9 L465.4,603.8 L466.9,603.7 L468.4,603.5 L469.9,603.4 L471.4,603.2 L472.9,603.1 L474.4,603.0 L475.9,602.8 L477.5,602.7 L479.0,602.6 L480.5,602.4 L482.0,602.3 L483.5,602.2 L485.0,602.0 L486.5,601.9 L488.0,601.8 L489.5,601.6 L491.0,601.5 L492.5,601.4 L494.0,601.3 L495.5,601.1 L497.0,601.0 L498.6,600.9 L500.1,600.8 L501.6,600.7 L503.1,600.6 L504.6,600.5 L506.1,600.3 L507.6,600.2 L509.1,600.1 L510.6,600.0 L512.1,599.9 L513.6,599.8 L515.1,599.7 L516.6,599.6 L518.1,599.4 L519.6,599.3 L521.2,599.2 L522.7,599.1 L524.2,599.0 L525.7,598.9 L527.2,598.8 L528.7,598.7 L530.2,598.6 L531.7,598.6 L533.2,598.5 L534.7,598.4 L536.2,598.3 L537.7,598.2 L539.2,598.1 L540.7,598.1 L542.3,598.0 L543.8,597.9 L545.3,597.8 L546.8,597.8 L548.3,597.7 L549.8,597.6 L551.3,597.6 L552.8,597.5 L554.3,597.4 L555.8,597.4 L557.3,597.3 L558.8,597.2 L560.3,597.2 L561.8,597.1 L563.3,597.0 L564.9,597.0 L566.4,596.9 L567.9,596.9 L569.4,596.8 L570.9,596.7 L572.4,596.7 L573.9,596.6 L575.4,596.6 L576.9,596.5 L578.4,596.5 L579.9,596.4 L581.4,596.4 L582.9,596.3 L584.4,596.3 L586.0,596.2 L587.5,596.2 L589.0,596.2 L590.5,596.1 L592.0,596.1 L593.5,596.1 L595.0,596.0 L596.5,596.0 L596.5,660.7 L595.0,660.7 L593.5,660.8 L592.0,660.8 L590.5,660.9 L589.0,660.9 L587.5,660.9 L586.0,661.0 L584.4,661.0 L582.9,661.0 L581.4,661.1 L579.9,661.1 L578.4,661.2 L576.9,661.2 L575.4,661.2 L573.9,661.3 L572.4,661.3 L570.9,661.3 L569.4,661.4 L567.9,661.4 L566.4,661.4 L564.9,661.5 L563.3,661.5 L561.8,661.5 L560.3,661.5 L558.8,661.6 L557.3,661.6 L555.8,661.6 L554.3,661.7 L552.8,661.7 L551.3,661.7 L549.8,661.7 L548.3,661.8 L546.8,661.8 L545.3,661.8 L543.8,661.8 L542.3,661.8 L540.7,661.9 L539.2,661.9 L537.7,661.9 L536.2,661.9 L534.7,661.9 L533.2,662.0 L531.7,662.0 L530.2,662.0 L528.7,662.0 L527.2,662.0 L525.7,662.0 L524.2,662.0 L522.7,662.0 L521.2,662.1 L519.6,662.1 L518.1,662.1 L516.6,662.1 L515.1,662.1 L513.6,662.1 L512.1,662.1 L510.6,662.1 L509.1,662.1 L507.6,662.1 L506.1,662.1 L504.6,662.2 L503.1,662.2 L501.6,662.2 L500.1,662.2 L498.6,662.2 L497.0,662.2 L495.5,662.2 L494.0,662.2 L492.5,662.2 L491.0,662.3 L489.5,662.3 L488.0,662.3 L486.5,662.3 L485.0,662.3 L483.5,662.4 L482.0,662.4 L480.5,662.4 L479.0,662.4 L477.5,662.5 L475.9,662.5 L474.4,662.5 L472.9,662.6 L471.4,662.7 L469.9,662.7 L468.4,662.8 L466.9,662.9 L465.4,663.0 L463.9,663.1 L462.4,663.2 L460.9,663.2 L459.4,663.3 L457.9,663.4 L456.4,663.5 L454.9,663.6 L453.3,663.7 L451.8,663.7 L450.3,663.8 L448.8,663.9 L447.3,664.0 L445.8,664.0 L444.3,664.1 L442.8,664.1 L441.3,664.1 L439.8,664.2 L438.3,664.2 L436.8,664.2 L435.3,664.3 L433.8,664.3 L432.2,664.3 L430.7,664.4 L429.2,664.4 L427.7,664.4 L426.2,664.4 L424.7,664.5 L423.2,664.5 L421.7,664.5 L420.2,664.5 L418.7,664.6 L417.2,664.6 L415.7,664.6 L414.2,664.6 L412.7,664.6 L411.2,664.7 L409.6,664.7 L408.1,664.7 L406.6,664.7 L405.1,664.7 L403.6,664.7 L402.1,664.7 L400.6,664.7 L399.1,664.7 L397.6,664.6 L396.1,664.6 L394.6,664.5 L393.1,664.5 L391.6,664.4 L390.1,664.4 L388.5,664.3 L387.0,664.2 L385.5,664.2 L384.0,664.2 L382.5,664.1 L381.0,664.1 L379.5,664.1 L378.0,664.1 L376.5,664.1 L375.0,664.1 L373.5,664.1 L372.0,664.1 L370.5,664.1 L369.0,664.1 L367.5,664.1 L365.9,664.1 L364.4,664.1 L362.9,664.1 L361.4,664.1 L359.9,664.1 L358.4,664.1 L356.9,664.1 L355.4,664.1 L353.9,664.1 L352.4,664.0 L350.9,664.0 L349.4,664.0 L347.9,663.9 L346.4,663.9 L344.8,663.8 L343.3,663.7 L341.8,663.6 L340.3,663.5 L338.8,663.4 L337.3,663.2 L335.8,662.9 L334.3,649.6 Z" fill="rgb(220, 112, 88)"/><path d="M361.9,649.8 L363.4,648.2 L364.9,646.7 L366.4,645.3 L367.9,643.9 L369.4,642.5 L370.9,641.2 L372.4,640.0 L373.9,638.8 L375.4,637.6 L376.9,636.5 L378.4,635.4 L379.9,634.3 L381.4,633.2 L383.0,632.2 L384.5,631.3 L386.0,630.6 L387.5,630.0 L389.0,629.4 L390.5,628.9 L392.0,628.4 L393.5,627.9 L395.0,627.5 L396.5,627.1 L398.0,626.7 L399.5,626.4 L401.0,626.0 L402.5,625.6 L404.0,625.2 L405.5,624.8 L407.0,624.4 L408.5,623.9 L410.0,623.4 L411.5,622.9 L413.0,622.3 L414.5,621.7 L416.0,621.1 L417.5,620.5 L419.0,619.8 L420.5,619.1 L422.1,618.5 L423.6,617.8 L425.1,617.1 L426.6,616.5 L428.1,615.8 L429.6,615.2 L431.1,614.6 L432.6,614.1 L434.1,613.6 L435.6,613.1 L437.1,612.7 L438.6,612.3 L440.1,612.0 L441.6,611.7 L443.1,611.4 L444.6,611.2 L446.1,611.0 L447.6,610.8 L449.1,610.6 L450.6,610.4 L452.1,610.2 L453.6,610.0 L455.1,609.8 L456.6,609.7 L458.1,609.5 L459.6,609.4 L461.2,609.2 L462.7,609.0 L464.2,608.9 L465.7,608.7 L467.2,608.5 L468.7,608.3 L470.2,608.2 L471.7,608.0 L473.2,607.7 L474.7,607.5 L476.2,607.3 L477.7,607.1 L479.2,606.9 L480.7,606.7 L482.2,606.4 L483.7,606.2 L485.2,606.0 L486.7,605.8 L488.2,605.6 L489.7,605.4 L491.2,605.2 L492.7,605.0 L494.2,604.9 L495.7,604.7 L497.2,604.5 L498.8,604.4 L500.3,604.3 L501.8,604.2 L503.3,604.1 L504.8,603.9 L506.3,603.8 L507.8,603.7 L509.3,603.6 L510.8,603.6 L512.3,603.5 L513.8,603.4 L515.3,603.3 L516.8,603.2 L518.3,603.1 L519.8,603.0 L521.3,603.0 L522.8,602.9 L524.3,602.8 L525.8,602.8 L527.3,602.7 L528.8,602.6 L530.3,602.5 L531.8,602.5 L533.3,602.4 L534.8,602.3 L536.3,602.3 L537.9,602.2 L539.4,602.1 L540.9,602.1 L542.4,602.0 L543.9,601.9 L545.4,601.9 L546.9,601.8 L548.4,601.7 L549.9,601.7 L551.4,601.6 L552.9,601.5 L554.4,601.5 L555.9,601.4 L557.4,601.3 L558.9,601.3 L560.4,601.2 L561.9,601.1 L563.4,601.1 L564.9,601.0 L566.4,601.0 L567.9,600.9 L569.4,600.8 L570.9,600.8 L572.4,600.7 L573.9,600.7 L575.4,600.6 L577.0,600.6 L578.5,600.5 L580.0,600.4 L581.5,600.4 L583.0,600.3 L584.5,600.3 L586.0,600.2 L587.5,600.2 L589.0,600.1 L590.5,600.1 L592.0,600.0 L593.5,600.0 L595.0,599.9 L596.5,599.9 L596.5,655.4 L595.0,655.4 L593.5,655.5 L592.0,655.5 L590.5,655.5 L589.0,655.6 L587.5,655.6 L586.0,655.6 L584.5,655.7 L583.0,655.7 L581.5,655.7 L580.0,655.7 L578.5,655.8 L577.0,655.8 L575.4,655.8 L573.9,655.9 L572.4,655.9 L570.9,655.9 L569.4,656.0 L567.9,656.0 L566.4,656.0 L564.9,656.1 L563.4,656.1 L561.9,656.1 L560.4,656.1 L558.9,656.2 L557.4,656.2 L555.9,656.2 L554.4,656.3 L552.9,656.3 L551.4,656.3 L549.9,656.4 L548.4,656.4 L546.9,656.4 L545.4,656.5 L543.9,656.5 L542.4,656.5 L540.9,656.5 L539.4,656.6 L537.9,656.6 L536.3,656.6 L534.8,656.7 L533.3,656.7 L531.8,656.7 L530.3,656.8 L528.8,656.8 L527.3,656.8 L525.8,656.9 L524.3,656.9 L522.8,656.9 L521.3,657.0 L519.8,657.0 L518.3,657.1 L516.8,657.1 L515.3,657.1 L513.8,657.2 L512.3,657.2 L510.8,657.2 L509.3,657.3 L507.8,657.3 L506.3,657.4 L504.8,657.4 L503.3,657.4 L501.8,657.5 L500.3,657.5 L498.8,657.5 L497.2,657.5 L495.7,657.6 L494.2,657.6 L492.7,657.6 L491.2,657.6 L489.7,657.6 L488.2,657.7 L486.7,657.7 L485.2,657.7 L483.7,657.7 L482.2,657.7 L480.7,657.7 L479.2,657.7 L477.7,657.7 L476.2,657.7 L474.7,657.7 L473.2,657.7 L471.7,657.7 L470.2,657.7 L468.7,657.6 L467.2,657.6 L465.7,657.6 L464.2,657.6 L462.7,657.6 L461.2,657.5 L459.6,657.5 L458.1,657.5 L456.6,657.5 L455.1,657.4 L453.6,657.4 L452.1,657.4 L450.6,657.3 L449.1,657.3 L447.6,657.3 L446.1,657.2 L444.6,657.2 L443.1,657.2 L441.6,657.1 L440.1,657.1 L438.6,657.1 L437.1,657.0 L435.6,657.0 L434.1,656.9 L432.6,656.9 L431.1,656.9 L429.6,656.8 L428.1,656.8 L426.6,656.7 L425.1,656.7 L423.6,656.6 L422.1,656.5 L420.5,656.5 L419.0,656.4 L417.5,656.3 L416.0,656.2 L414.5,656.1 L413.0,656.1 L411.5,656.0 L410.0,655.9 L408.5,655.8 L407.0,655.8 L405.5,655.7 L404.0,655.6 L402.5,655.5 L401.0,655.5 L399.5,655.4 L398.0,655.3 L396.5,655.3 L395.0,655.2 L393.5,655.2 L392.0,655.1 L390.5,655.1 L389.0,655.0 L387.5,655.0 L386.0,654.9 L384.5,654.8 L383.0,654.7 L381.4,654.6 L379.9,654.5 L378.4,654.3 L376.9,654.1 L375.4,653.8 L373.9,653.5 L372.4,653.1 L370.9,652.8 L369.4,652.4 L367.9,651.9 L366.4,651.4 L364.9,650.9 L363.4,650.4 L361.9,649.8 Z" fill="rgb(208, 86, 72)"/><path d="M397.3,636.5 L398.8,635.8 L400.3,635.1 L401.8,634.4 L403.3,633.7 L404.8,633.0 L406.4,632.3 L407.9,631.5 L409.4,630.8 L410.9,630.1 L412.4,629.3 L413.9,628.5 L415.4,627.7 L416.9,627.0 L418.4,626.2 L419.9,625.5 L421.4,624.9 L423.0,624.2 L424.5,623.5 L426.0,622.9 L427.5,622.2 L429.0,621.6 L430.5,621.0 L432.0,620.4 L433.5,619.9 L435.0,619.4 L436.5,618.9 L438.0,618.5 L439.6,618.1 L441.1,617.8 L442.6,617.5 L444.1,617.2 L445.6,616.9 L447.1,616.7 L448.6,616.4 L450.1,616.2 L451.6,616.0 L453.1,615.8 L454.6,615.6 L456.2,615.4 L457.7,615.2 L459.2,615.0 L460.7,614.8 L462.2,614.6 L463.7,614.4 L465.2,614.2 L466.7,614.0 L468.2,613.7 L469.7,613.5 L471.2,613.3 L472.8,613.0 L474.3,612.7 L475.8,612.4 L477.3,612.1 L478.8,611.8 L480.3,611.5 L481.8,611.2 L483.3,610.9 L484.8,610.6 L486.3,610.3 L487.8,610.0 L489.4,609.7 L490.9,609.5 L492.4,609.2 L493.9,609.0 L495.4,608.8 L496.9,608.6 L498.4,608.4 L499.9,608.2 L501.4,608.1 L502.9,607.9 L504.4,607.8 L506.0,607.7 L507.5,607.5 L509.0,607.4 L510.5,607.3 L512.0,607.2 L513.5,607.1 L515.0,607.0 L516.5,606.9 L518.0,606.8 L519.5,606.7 L521.0,606.6 L522.6,606.5 L524.1,606.4 L525.6,606.3 L527.1,606.3 L528.6,606.2 L530.1,606.1 L531.6,606.0 L533.1,605.9 L534.6,605.9 L536.1,605.8 L537.6,605.7 L539.2,605.6 L540.7,605.6 L542.2,605.5 L543.7,605.4 L545.2,605.3 L546.7,605.3 L548.2,605.2 L549.7,605.1 L551.2,605.1 L552.7,605.0 L554.2,604.9 L555.8,604.9 L557.3,604.8 L558.8,604.7 L560.3,604.7 L561.8,604.6 L563.3,604.5 L564.8,604.5 L566.3,604.4 L567.8,604.3 L569.3,604.3 L570.8,604.2 L572.4,604.2 L573.9,604.1 L575.4,604.0 L576.9,604.0 L578.4,603.9 L579.9,603.9 L581.4,603.8 L582.9,603.8 L584.4,603.7 L585.9,603.7 L587.4,603.6 L589.0,603.6 L590.5,603.6 L592.0,603.5 L593.5,603.5 L595.0,603.4 L596.5,603.4 L596.5,650.7 L595.0,650.7 L593.5,650.8 L592.0,650.8 L590.5,650.9 L589.0,650.9 L587.4,650.9 L585.9,651.0 L584.4,651.0 L582.9,651.0 L581.4,651.1 L579.9,651.1 L578.4,651.2 L576.9,651.2 L575.4,651.2 L573.9,651.3 L572.4,651.3 L570.8,651.3 L569.3,651.4 L567.8,651.4 L566.3,651.4 L564.8,651.5 L563.3,651.5 L561.8,651.5 L560.3,651.5 L558.8,651.6 L557.3,651.6 L555.8,651.6 L554.2,651.7 L552.7,651.7 L551.2,651.7 L549.7,651.7 L548.2,651.8 L546.7,651.8 L545.2,651.8 L543.7,651.8 L542.2,651.8 L540.7,651.9 L539.2,651.9 L537.6,651.9 L536.1,651.9 L534.6,651.9 L533.1,652.0 L531.6,652.0 L530.1,652.0 L528.6,652.0 L527.1,652.0 L525.6,652.0 L524.1,652.1 L522.6,652.1 L521.0,652.1 L519.5,652.1 L518.0,652.1 L516.5,652.2 L515.0,652.2 L513.5,652.2 L512.0,652.2 L510.5,652.2 L509.0,652.2 L507.5,652.3 L506.0,652.3 L504.4,652.3 L502.9,652.3 L501.4,652.3 L499.9,652.3 L498.4,652.3 L496.9,652.3 L495.4,652.3 L493.9,652.4 L492.4,652.4 L490.9,652.4 L489.4,652.4 L487.8,652.4 L486.3,652.4 L484.8,652.4 L483.3,652.4 L481.8,652.4 L480.3,652.4 L478.8,652.4 L477.3,652.4 L475.8,652.4 L474.3,652.4 L472.8,652.4 L471.2,652.4 L469.7,652.4 L468.2,652.4 L466.7,652.4 L465.2,652.4 L463.7,652.4 L462.2,652.4 L460.7,652.4 L459.2,652.4 L457.7,652.4 L456.2,652.4 L454.6,652.4 L453.1,652.3 L451.6,652.3 L450.1,652.3 L448.6,652.2 L447.1,652.2 L445.6,652.1 L444.1,652.1 L442.6,652.0 L441.1,652.0 L439.6,651.9 L438.0,651.9 L436.5,651.8 L435.0,651.7 L433.5,651.7 L432.0,651.6 L430.5,651.5 L429.0,651.5 L427.5,651.4 L426.0,651.3 L424.5,651.2 L423.0,651.1 L421.4,651.0 L419.9,650.9 L418.4,650.8 L416.9,650.7 L415.4,650.5 L413.9,650.4 L412.4,650.2 L410.9,650.0 L409.4,649.8 L407.9,649.6 L406.4,649.4 L404.8,649.2 L403.3,648.8 L401.8,648.2 L400.3,647.5 L398.8,644.1 L397.3,636.5 Z" fill="rgb(194, 46, 53)"/><path d="M422.3,635.7 L423.8,634.9 L425.3,634.2 L426.8,633.4 L428.3,632.7 L429.8,631.9 L431.3,631.2 L432.8,630.5 L434.3,629.7 L435.8,629.0 L437.3,628.3 L438.8,627.6 L440.3,626.8 L441.8,626.0 L443.3,625.2 L444.8,624.3 L446.3,623.5 L447.8,622.8 L449.3,622.3 L450.8,621.8 L452.3,621.4 L453.8,621.1 L455.3,620.7 L456.8,620.4 L458.3,620.2 L459.8,619.9 L461.3,619.6 L462.8,619.4 L464.3,619.2 L465.9,618.9 L467.4,618.7 L468.9,618.5 L470.4,618.3 L471.9,618.0 L473.4,617.8 L474.9,617.6 L476.4,617.4 L477.9,617.3 L479.4,617.1 L480.9,616.9 L482.4,616.7 L483.9,616.5 L485.4,616.4 L486.9,616.2 L488.4,616.0 L489.9,615.9 L491.4,615.7 L492.9,615.5 L494.4,615.4 L495.9,615.2 L497.4,615.0 L498.9,614.8 L500.4,614.7 L501.9,614.5 L503.4,614.3 L504.9,614.1 L506.4,613.9 L507.9,613.7 L509.4,613.5 L510.9,613.3 L512.4,613.1 L513.9,612.9 L515.4,612.7 L516.9,612.5 L518.4,612.3 L519.9,612.1 L521.4,611.9 L522.9,611.7 L524.4,611.5 L525.9,611.3 L527.4,611.1 L528.9,611.0 L530.4,610.8 L531.9,610.7 L533.4,610.5 L534.9,610.4 L536.4,610.2 L537.9,610.1 L539.4,610.0 L540.9,609.9 L542.4,609.9 L543.9,609.8 L545.4,609.7 L546.9,609.6 L548.4,609.5 L549.9,609.4 L551.4,609.3 L553.0,609.2 L554.5,609.2 L556.0,609.1 L557.5,609.0 L559.0,608.9 L560.5,608.8 L562.0,608.8 L563.5,608.7 L565.0,608.6 L566.5,608.6 L568.0,608.5 L569.5,608.4 L571.0,608.4 L572.5,608.3 L574.0,608.2 L575.5,608.2 L577.0,608.1 L578.5,608.1 L580.0,608.0 L581.5,608.0 L583.0,608.0 L584.5,607.9 L586.0,607.9 L587.5,607.9 L589.0,607.9 L590.5,607.8 L592.0,607.8 L593.5,607.8 L595.0,607.8 L596.5,607.8 L596.5,646.1 L595.0,646.1 L593.5,646.2 L592.0,646.2 L590.5,646.2 L589.0,646.3 L587.5,646.3 L586.0,646.3 L584.5,646.3 L583.0,646.4 L581.5,646.4 L580.0,646.4 L578.5,646.4 L577.0,646.5 L575.5,646.5 L574.0,646.5 L572.5,646.5 L571.0,646.5 L569.5,646.5 L568.0,646.5 L566.5,646.5 L565.0,646.6 L563.5,646.6 L562.0,646.6 L560.5,646.6 L559.0,646.6 L557.5,646.6 L556.0,646.6 L554.5,646.6 L553.0,646.6 L551.4,646.6 L549.9,646.6 L548.4,646.6 L546.9,646.6 L545.4,646.6 L543.9,646.6 L542.4,646.6 L540.9,646.6 L539.4,646.6 L537.9,646.6 L536.4,646.6 L534.9,646.6 L533.4,646.6 L531.9,646.6 L530.4,646.5 L528.9,646.5 L527.4,646.5 L525.9,646.4 L524.4,646.4 L522.9,646.4 L521.4,646.3 L519.9,646.3 L518.4,646.2 L516.9,646.2 L515.4,646.1 L513.9,646.1 L512.4,646.0 L510.9,646.0 L509.4,645.9 L507.9,645.9 L506.4,645.9 L504.9,645.8 L503.4,645.8 L501.9,645.7 L500.4,645.7 L498.9,645.7 L497.4,645.6 L495.9,645.6 L494.4,645.6 L492.9,645.6 L491.4,645.6 L489.9,645.5 L488.4,645.5 L486.9,645.5 L485.4,645.5 L483.9,645.4 L482.4,645.4 L480.9,645.4 L479.4,645.4 L477.9,645.4 L476.4,645.3 L474.9,645.3 L473.4,645.3 L471.9,645.2 L470.4,645.2 L468.9,645.2 L467.4,645.1 L465.9,645.1 L464.3,645.0 L462.8,644.9 L461.3,644.9 L459.8,644.8 L458.3,644.7 L456.8,644.6 L455.3,644.5 L453.8,644.3 L452.3,644.2 L450.8,644.1 L449.3,643.9 L447.8,643.7 L446.3,643.6 L444.8,643.3 L443.3,643.1 L441.8,642.8 L440.3,642.6 L438.8,642.2 L437.3,641.9 L435.8,641.5 L434.3,641.1 L432.8,640.7 L431.3,640.3 L429.8,639.7 L428.3,639.1 L426.8,638.3 L425.3,637.5 L423.8,636.6 L422.3,635.7 Z" fill="rgb(178, 10, 35)"/></g>
<line x1="113.1" y1="567.5" x2="113.1" y2="773.0" stroke="rgb(115,135,175)" stroke-width="1.6"/><line x1="181.0" y1="567.5" x2="181.0" y2="773.0" stroke="rgb(115,135,175)" stroke-width="1.6"/><line x1="245.9" y1="567.5" x2="245.9" y2="773.0" stroke="rgb(180,85,105)" stroke-width="1.6"/><line x1="313.8" y1="567.5" x2="313.8" y2="773.0" stroke="rgb(180,85,105)" stroke-width="1.6"/><line x1="517.8" y1="567.5" x2="517.8" y2="773.0" stroke="rgb(242,195,110)" stroke-width="1.6"/><line x1="585.4" y1="567.5" x2="585.4" y2="773.0" stroke="rgb(242,195,110)" stroke-width="1.6"/>
<g stroke="rgba(38,38,38,0.15)" stroke-width="1" stroke-dasharray="5 5.85" stroke-dashoffset="5.45" fill="none"><line x1="195.25" y1="567.50" x2="195.25" y2="773.00" /><line x1="329.00" y1="567.50" x2="329.00" y2="773.00" /><line x1="462.75" y1="567.50" x2="462.75" y2="773.00" /><line x1="61.50" y1="636.00" x2="596.50" y2="636.00" /><line x1="61.50" y1="704.50" x2="596.50" y2="704.50" /></g>
<text x="147.35" y="768.70" text-anchor="middle" style="font-family:'Liberation Sans',sans-serif;font-size:16px;font-weight:bold" fill="#000">P1</text>
<text x="284.05" y="768.70" text-anchor="middle" style="font-family:'Liberation Sans',sans-serif;font-size:16px;font-weight:bold" fill="#000">P2</text>
<text x="552.75" y="768.70" text-anchor="middle" style="font-family:'Liberation Sans',sans-serif;font-size:16px;font-weight:bold" fill="#000">P3</text>
<g stroke="#262626" stroke-width="1.1" fill="none"><rect x="61.5" y="567.5" width="535.0" height="205.5" /><line x1="61.50" y1="773.0" x2="61.50" y2="778.5" /><line x1="61.50" y1="567.5" x2="61.50" y2="562.0" /><line x1="195.25" y1="773.0" x2="195.25" y2="778.5" /><line x1="195.25" y1="567.5" x2="195.25" y2="562.0" /><line x1="329.00" y1="773.0" x2="329.00" y2="778.5" /><line x1="329.00" y1="567.5" x2="329.00" y2="562.0" /><line x1="462.75" y1="773.0" x2="462.75" y2="778.5" /><line x1="462.75" y1="567.5" x2="462.75" y2="562.0" /><line x1="596.50" y1="773.0" x2="596.50" y2="778.5" /><line x1="596.50" y1="567.5" x2="596.50" y2="562.0" /><line x1="61.5" y1="567.50" x2="56.0" y2="567.50" /><line x1="596.5" y1="567.50" x2="602.0" y2="567.50" /><line x1="61.5" y1="636.00" x2="56.0" y2="636.00" /><line x1="596.5" y1="636.00" x2="602.0" y2="636.00" /><line x1="61.5" y1="704.50" x2="56.0" y2="704.50" /><line x1="596.5" y1="704.50" x2="602.0" y2="704.50" /><line x1="61.5" y1="773.00" x2="56.0" y2="773.00" /><line x1="596.5" y1="773.00" x2="602.0" y2="773.00" /></g><g fill="#262626" style="font-family:'Liberation Sans',sans-serif;font-size:17px" text-anchor="end"><text x="50.2" y="574.00">0</text><text x="50.2" y="642.50">100</text><text x="50.2" y="711.00">200</text><text x="50.2" y="779.50">300</text></g><g fill="#262626" style="font-family:'Liberation Sans',sans-serif;font-size:17px" text-anchor="middle"><text x="61.90" y="800.00">1900</text><text x="195.65" y="800.00">2000</text><text x="329.40" y="800.00">2100</text><text x="463.15" y="800.00">2200</text><text x="596.90" y="800.00">2300</text></g>
<text x="329.00" y="563.6" text-anchor="middle" style="font-family:'Liberation Sans',sans-serif;font-size:18.7px" fill="#000">(c) N<tspan dy="-8" style="font-size:13px">2</tspan><tspan dy="8"> (CEP)</tspan></text>
<text transform="translate(14.1,670.25) rotate(-90)" text-anchor="middle" style="font-family:'Liberation Sans',sans-serif;font-size:18.7px" fill="#262626">Depth (m)</text>
<text x="329.00" y="827.9" text-anchor="middle" style="font-family:'Liberation Sans',sans-serif;font-size:17.3px" fill="#262626">Time (year)</text>
<defs><linearGradient id="cbb" x1="0" y1="1" x2="0" y2="0"><stop offset="0.0000" stop-color="rgb(18, 78, 153)"/><stop offset="0.0156" stop-color="rgb(18, 78, 153)"/><stop offset="0.0156" stop-color="rgb(23, 84, 158)"/><stop offset="0.0312" stop-color="rgb(23, 84, 158)"/><stop offset="0.0312" stop-color="rgb(27, 91, 162)"/><stop offset="0.0469" stop-color="rgb(27, 91, 162)"/><stop offset="0.0469" stop-color="rgb(32, 97, 167)"/><stop offset="0.0625" stop-color="rgb(32, 97, 167)"/><stop offset="0.0625" stop-color="rgb(36, 104, 171)"/><stop offset="0.0781" stop-color="rgb(36, 104, 171)"/><stop offset="0.0781" stop-color="rgb(41, 111, 176)"/><stop offset="0.0938" stop-color="rgb(41, 111, 176)"/><stop offset="0.0938" stop-color="rgb(49, 119, 180)"/><stop offset="0.1094" stop-color="rgb(49, 119, 180)"/><stop offset="0.1094" stop-color="rgb(57, 127, 184)"/><stop offset="0.1250" stop-color="rgb(57, 127, 184)"/><stop offset="0.1250" stop-color="rgb(64, 134, 189)"/><stop offset="0.1406" stop-color="rgb(64, 134, 189)"/><stop offset="0.1406" stop-color="rgb(72, 142, 193)"/><stop offset="0.1562" stop-color="rgb(72, 142, 193)"/><stop offset="0.1562" stop-color="rgb(81, 149, 197)"/><stop offset="0.1719" stop-color="rgb(81, 149, 197)"/><stop offset="0.1719" stop-color="rgb(92, 156, 201)"/><stop offset="0.1875" stop-color="rgb(92, 156, 201)"/><stop offset="0.1875" stop-color="rgb(102, 163, 204)"/><stop offset="0.2031" stop-color="rgb(102, 163, 204)"/><stop offset="0.2031" stop-color="rgb(112, 169, 207)"/><stop offset="0.2188" stop-color="rgb(112, 169, 207)"/><stop offset="0.2188" stop-color="rgb(121, 176, 211)"/><stop offset="0.2344" stop-color="rgb(121, 176, 211)"/><stop offset="0.2344" stop-color="rgb(130, 181, 214)"/><stop offset="0.2500" stop-color="rgb(130, 181, 214)"/><stop offset="0.2500" stop-color="rgb(139, 187, 217)"/><stop offset="0.2656" stop-color="rgb(139, 187, 217)"/><stop offset="0.2656" stop-color="rgb(148, 192, 220)"/><stop offset="0.2812" stop-color="rgb(148, 192, 220)"/><stop offset="0.2812" stop-color="rgb(157, 198, 224)"/><stop offset="0.2969" stop-color="rgb(157, 198, 224)"/><stop offset="0.2969" stop-color="rgb(165, 203, 226)"/><stop offset="0.3125" stop-color="rgb(165, 203, 226)"/><stop offset="0.3125" stop-color="rgb(173, 207, 229)"/><stop offset="0.3281" stop-color="rgb(173, 207, 229)"/><stop offset="0.3281" stop-color="rgb(180, 212, 231)"/><stop offset="0.3438" stop-color="rgb(180, 212, 231)"/><stop offset="0.3438" stop-color="rgb(188, 216, 233)"/><stop offset="0.3594" stop-color="rgb(188, 216, 233)"/><stop offset="0.3594" stop-color="rgb(196, 220, 235)"/><stop offset="0.3750" stop-color="rgb(196, 220, 235)"/><stop offset="0.3750" stop-color="rgb(203, 223, 236)"/><stop offset="0.3906" stop-color="rgb(203, 223, 236)"/><stop offset="0.3906" stop-color="rgb(209, 226, 237)"/><stop offset="0.4062" stop-color="rgb(209, 226, 237)"/><stop offset="0.4062" stop-color="rgb(216, 229, 239)"/><stop offset="0.4219" stop-color="rgb(216, 229, 239)"/><stop offset="0.4219" stop-color="rgb(223, 232, 240)"/><stop offset="0.4375" stop-color="rgb(223, 232, 240)"/><stop offset="0.4375" stop-color="rgb(228, 235, 241)"/><stop offset="0.4531" stop-color="rgb(228, 235, 241)"/><stop offset="0.4531" stop-color="rgb(233, 237, 242)"/><stop offset="0.4688" stop-color="rgb(233, 237, 242)"/><stop offset="0.4688" stop-color="rgb(238, 240, 243)"/><stop offset="0.4844" stop-color="rgb(238, 240, 243)"/><stop offset="0.4844" stop-color="rgb(242, 242, 244)"/><stop offset="0.5000" stop-color="rgb(242, 242, 244)"/><stop offset="0.5000" stop-color="rgb(244, 240, 241)"/><stop offset="0.5156" stop-color="rgb(244, 240, 241)"/><stop offset="0.5156" stop-color="rgb(245, 238, 236)"/><stop offset="0.5312" stop-color="rgb(245, 238, 236)"/><stop offset="0.5312" stop-color="rgb(246, 236, 232)"/><stop offset="0.5469" stop-color="rgb(246, 236, 232)"/><stop offset="0.5469" stop-color="rgb(247, 233, 227)"/><stop offset="0.5625" stop-color="rgb(247, 233, 227)"/><stop offset="0.5625" stop-color="rgb(248, 229, 220)"/><stop offset="0.5781" stop-color="rgb(248, 229, 220)"/><stop offset="0.5781" stop-color="rgb(249, 224, 211)"/><stop offset="0.5938" stop-color="rgb(249, 224, 211)"/><stop offset="0.5938" stop-color="rgb(250, 219, 202)"/><stop offset="0.6094" stop-color="rgb(250, 219, 202)"/><stop offset="0.6094" stop-color="rgb(250, 213, 193)"/><stop offset="0.6250" stop-color="rgb(250, 213, 193)"/><stop offset="0.6250" stop-color="rgb(249, 206, 184)"/><stop offset="0.6406" stop-color="rgb(249, 206, 184)"/><stop offset="0.6406" stop-color="rgb(248, 198, 175)"/><stop offset="0.6562" stop-color="rgb(248, 198, 175)"/><stop offset="0.6562" stop-color="rgb(247, 191, 166)"/><stop offset="0.6719" stop-color="rgb(247, 191, 166)"/><stop offset="0.6719" stop-color="rgb(246, 183, 157)"/><stop offset="0.6875" stop-color="rgb(246, 183, 157)"/><stop offset="0.6875" stop-color="rgb(244, 176, 148)"/><stop offset="0.7031" stop-color="rgb(244, 176, 148)"/><stop offset="0.7031" stop-color="rgb(243, 168, 139)"/><stop offset="0.7188" stop-color="rgb(243, 168, 139)"/><stop offset="0.7188" stop-color="rgb(241, 160, 130)"/><stop offset="0.7344" stop-color="rgb(241, 160, 130)"/><stop offset="0.7344" stop-color="rgb(239, 153, 123)"/><stop offset="0.7500" stop-color="rgb(239, 153, 123)"/><stop offset="0.7500" stop-color="rgb(236, 145, 115)"/><stop offset="0.7656" stop-color="rgb(236, 145, 115)"/><stop offset="0.7656" stop-color="rgb(234, 138, 108)"/><stop offset="0.7812" stop-color="rgb(234, 138, 108)"/><stop offset="0.7812" stop-color="rgb(231, 132, 102)"/><stop offset="0.7969" stop-color="rgb(231, 132, 102)"/><stop offset="0.7969" stop-color="rgb(228, 126, 96)"/><stop offset="0.8125" stop-color="rgb(228, 126, 96)"/><stop offset="0.8125" stop-color="rgb(225, 120, 90)"/><stop offset="0.8281" stop-color="rgb(225, 120, 90)"/><stop offset="0.8281" stop-color="rgb(222, 112, 85)"/><stop offset="0.8438" stop-color="rgb(222, 112, 85)"/><stop offset="0.8438" stop-color="rgb(219, 105, 81)"/><stop offset="0.8594" stop-color="rgb(219, 105, 81)"/><stop offset="0.8594" stop-color="rgb(216, 97, 76)"/><stop offset="0.8750" stop-color="rgb(216, 97, 76)"/><stop offset="0.8750" stop-color="rgb(212, 87, 70)"/><stop offset="0.8906" stop-color="rgb(212, 87, 70)"/><stop offset="0.8906" stop-color="rgb(207, 77, 64)"/><stop offset="0.9062" stop-color="rgb(207, 77, 64)"/><stop offset="0.9062" stop-color="rgb(203, 66, 58)"/><stop offset="0.9219" stop-color="rgb(203, 66, 58)"/><stop offset="0.9219" stop-color="rgb(199, 56, 54)"/><stop offset="0.9375" stop-color="rgb(199, 56, 54)"/><stop offset="0.9375" stop-color="rgb(196, 47, 51)"/><stop offset="0.9531" stop-color="rgb(196, 47, 51)"/><stop offset="0.9531" stop-color="rgb(193, 38, 48)"/><stop offset="0.9688" stop-color="rgb(193, 38, 48)"/><stop offset="0.9688" stop-color="rgb(189, 28, 44)"/><stop offset="0.9844" stop-color="rgb(189, 28, 44)"/><stop offset="0.9844" stop-color="rgb(183, 16, 40)"/><stop offset="1.0000" stop-color="rgb(183, 16, 40)"/></linearGradient></defs><rect x="626.5" y="292.6" width="17.0" height="205.5" fill="url(#cbb)" stroke="#262626" stroke-width="0.8"/><line x1="643.5" y1="498.10" x2="646.3" y2="498.10" stroke="#262626" stroke-width="1"/><text x="652" y="503.50" style="font-family:'Liberation Sans',sans-serif;font-size:15.3px" fill="#262626">1015</text><line x1="643.5" y1="466.48" x2="646.3" y2="466.48" stroke="#262626" stroke-width="1"/><text x="652" y="471.88" style="font-family:'Liberation Sans',sans-serif;font-size:15.3px" fill="#262626">1017</text><line x1="643.5" y1="434.87" x2="646.3" y2="434.87" stroke="#262626" stroke-width="1"/><text x="652" y="440.27" style="font-family:'Liberation Sans',sans-serif;font-size:15.3px" fill="#262626">1019</text><line x1="643.5" y1="403.25" x2="646.3" y2="403.25" stroke="#262626" stroke-width="1"/><text x="652" y="408.65" style="font-family:'Liberation Sans',sans-serif;font-size:15.3px" fill="#262626">1021</text><line x1="643.5" y1="371.64" x2="646.3" y2="371.64" stroke="#262626" stroke-width="1"/><text x="652" y="377.04" style="font-family:'Liberation Sans',sans-serif;font-size:15.3px" fill="#262626">1023</text><line x1="643.5" y1="340.02" x2="646.3" y2="340.02" stroke="#262626" stroke-width="1"/><text x="652" y="345.42" style="font-family:'Liberation Sans',sans-serif;font-size:15.3px" fill="#262626">1025</text><line x1="643.5" y1="308.41" x2="646.3" y2="308.41" stroke="#262626" stroke-width="1"/><text x="652" y="313.81" style="font-family:'Liberation Sans',sans-serif;font-size:15.3px" fill="#262626">1027</text><text x="613.2" y="283.9" style="font-family:'Liberation Sans',sans-serif;font-size:15.3px" fill="#000">kg m<tspan dy="-7" style="font-size:11.5px">-3</tspan></text>
<defs><linearGradient id="cbc" x1="0" y1="1" x2="0" y2="0"><stop offset="0.0000" stop-color="rgb(18, 78, 153)"/><stop offset="0.0156" stop-color="rgb(18, 78, 153)"/><stop offset="0.0156" stop-color="rgb(23, 84, 158)"/><stop offset="0.0312" stop-color="rgb(23, 84, 158)"/><stop offset="0.0312" stop-color="rgb(27, 91, 162)"/><stop offset="0.0469" stop-color="rgb(27, 91, 162)"/><stop offset="0.0469" stop-color="rgb(32, 97, 167)"/><stop offset="0.0625" stop-color="rgb(32, 97, 167)"/><stop offset="0.0625" stop-color="rgb(36, 104, 171)"/><stop offset="0.0781" stop-color="rgb(36, 104, 171)"/><stop offset="0.0781" stop-color="rgb(41, 111, 176)"/><stop offset="0.0938" stop-color="rgb(41, 111, 176)"/><stop offset="0.0938" stop-color="rgb(49, 119, 180)"/><stop offset="0.1094" stop-color="rgb(49, 119, 180)"/><stop offset="0.1094" stop-color="rgb(57, 127, 184)"/><stop offset="0.1250" stop-color="rgb(57, 127, 184)"/><stop offset="0.1250" stop-color="rgb(64, 134, 189)"/><stop offset="0.1406" stop-color="rgb(64, 134, 189)"/><stop offset="0.1406" stop-color="rgb(72, 142, 193)"/><stop offset="0.1562" stop-color="rgb(72, 142, 193)"/><stop offset="0.1562" stop-color="rgb(81, 149, 197)"/><stop offset="0.1719" stop-color="rgb(81, 149, 197)"/><stop offset="0.1719" stop-color="rgb(92, 156, 201)"/><stop offset="0.1875" stop-color="rgb(92, 156, 201)"/><stop offset="0.1875" stop-color="rgb(102, 163, 204)"/><stop offset="0.2031" stop-color="rgb(102, 163, 204)"/><stop offset="0.2031" stop-color="rgb(112, 169, 207)"/><stop offset="0.2188" stop-color="rgb(112, 169, 207)"/><stop offset="0.2188" stop-color="rgb(121, 176, 211)"/><stop offset="0.2344" stop-color="rgb(121, 176, 211)"/><stop offset="0.2344" stop-color="rgb(130, 181, 214)"/><stop offset="0.2500" stop-color="rgb(130, 181, 214)"/><stop offset="0.2500" stop-color="rgb(139, 187, 217)"/><stop offset="0.2656" stop-color="rgb(139, 187, 217)"/><stop offset="0.2656" stop-color="rgb(148, 192, 220)"/><stop offset="0.2812" stop-color="rgb(148, 192, 220)"/><stop offset="0.2812" stop-color="rgb(157, 198, 224)"/><stop offset="0.2969" stop-color="rgb(157, 198, 224)"/><stop offset="0.2969" stop-color="rgb(165, 203, 226)"/><stop offset="0.3125" stop-color="rgb(165, 203, 226)"/><stop offset="0.3125" stop-color="rgb(173, 207, 229)"/><stop offset="0.3281" stop-color="rgb(173, 207, 229)"/><stop offset="0.3281" stop-color="rgb(180, 212, 231)"/><stop offset="0.3438" stop-color="rgb(180, 212, 231)"/><stop offset="0.3438" stop-color="rgb(188, 216, 233)"/><stop offset="0.3594" stop-color="rgb(188, 216, 233)"/><stop offset="0.3594" stop-color="rgb(196, 220, 235)"/><stop offset="0.3750" stop-color="rgb(196, 220, 235)"/><stop offset="0.3750" stop-color="rgb(203, 223, 236)"/><stop offset="0.3906" stop-color="rgb(203, 223, 236)"/><stop offset="0.3906" stop-color="rgb(209, 226, 237)"/><stop offset="0.4062" stop-color="rgb(209, 226, 237)"/><stop offset="0.4062" stop-color="rgb(216, 229, 239)"/><stop offset="0.4219" stop-color="rgb(216, 229, 239)"/><stop offset="0.4219" stop-color="rgb(223, 232, 240)"/><stop offset="0.4375" stop-color="rgb(223, 232, 240)"/><stop offset="0.4375" stop-color="rgb(228, 235, 241)"/><stop offset="0.4531" stop-color="rgb(228, 235, 241)"/><stop offset="0.4531" stop-color="rgb(233, 237, 242)"/><stop offset="0.4688" stop-color="rgb(233, 237, 242)"/><stop offset="0.4688" stop-color="rgb(238, 240, 243)"/><stop offset="0.4844" stop-color="rgb(238, 240, 243)"/><stop offset="0.4844" stop-color="rgb(242, 242, 244)"/><stop offset="0.5000" stop-color="rgb(242, 242, 244)"/><stop offset="0.5000" stop-color="rgb(244, 240, 241)"/><stop offset="0.5156" stop-color="rgb(244, 240, 241)"/><stop offset="0.5156" stop-color="rgb(245, 238, 236)"/><stop offset="0.5312" stop-color="rgb(245, 238, 236)"/><stop offset="0.5312" stop-color="rgb(246, 236, 232)"/><stop offset="0.5469" stop-color="rgb(246, 236, 232)"/><stop offset="0.5469" stop-color="rgb(247, 233, 227)"/><stop offset="0.5625" stop-color="rgb(247, 233, 227)"/><stop offset="0.5625" stop-color="rgb(248, 229, 220)"/><stop offset="0.5781" stop-color="rgb(248, 229, 220)"/><stop offset="0.5781" stop-color="rgb(249, 224, 211)"/><stop offset="0.5938" stop-color="rgb(249, 224, 211)"/><stop offset="0.5938" stop-color="rgb(250, 219, 202)"/><stop offset="0.6094" stop-color="rgb(250, 219, 202)"/><stop offset="0.6094" stop-color="rgb(250, 213, 193)"/><stop offset="0.6250" stop-color="rgb(250, 213, 193)"/><stop offset="0.6250" stop-color="rgb(249, 206, 184)"/><stop offset="0.6406" stop-color="rgb(249, 206, 184)"/><stop offset="0.6406" stop-color="rgb(248, 198, 175)"/><stop offset="0.6562" stop-color="rgb(248, 198, 175)"/><stop offset="0.6562" stop-color="rgb(247, 191, 166)"/><stop offset="0.6719" stop-color="rgb(247, 191, 166)"/><stop offset="0.6719" stop-color="rgb(246, 183, 157)"/><stop offset="0.6875" stop-color="rgb(246, 183, 157)"/><stop offset="0.6875" stop-color="rgb(244, 176, 148)"/><stop offset="0.7031" stop-color="rgb(244, 176, 148)"/><stop offset="0.7031" stop-color="rgb(243, 168, 139)"/><stop offset="0.7188" stop-color="rgb(243, 168, 139)"/><stop offset="0.7188" stop-color="rgb(241, 160, 130)"/><stop offset="0.7344" stop-color="rgb(241, 160, 130)"/><stop offset="0.7344" stop-color="rgb(239, 153, 123)"/><stop offset="0.7500" stop-color="rgb(239, 153, 123)"/><stop offset="0.7500" stop-color="rgb(236, 145, 115)"/><stop offset="0.7656" stop-color="rgb(236, 145, 115)"/><stop offset="0.7656" stop-color="rgb(234, 138, 108)"/><stop offset="0.7812" stop-color="rgb(234, 138, 108)"/><stop offset="0.7812" stop-color="rgb(231, 132, 102)"/><stop offset="0.7969" stop-color="rgb(231, 132, 102)"/><stop offset="0.7969" stop-color="rgb(228, 126, 96)"/><stop offset="0.8125" stop-color="rgb(228, 126, 96)"/><stop offset="0.8125" stop-color="rgb(225, 120, 90)"/><stop offset="0.8281" stop-color="rgb(225, 120, 90)"/><stop offset="0.8281" stop-color="rgb(222, 112, 85)"/><stop offset="0.8438" stop-color="rgb(222, 112, 85)"/><stop offset="0.8438" stop-color="rgb(219, 105, 81)"/><stop offset="0.8594" stop-color="rgb(219, 105, 81)"/><stop offset="0.8594" stop-color="rgb(216, 97, 76)"/><stop offset="0.8750" stop-color="rgb(216, 97, 76)"/><stop offset="0.8750" stop-color="rgb(212, 87, 70)"/><stop offset="0.8906" stop-color="rgb(212, 87, 70)"/><stop offset="0.8906" stop-color="rgb(207, 77, 64)"/><stop offset="0.9062" stop-color="rgb(207, 77, 64)"/><stop offset="0.9062" stop-color="rgb(203, 66, 58)"/><stop offset="0.9219" stop-color="rgb(203, 66, 58)"/><stop offset="0.9219" stop-color="rgb(199, 56, 54)"/><stop offset="0.9375" stop-color="rgb(199, 56, 54)"/><stop offset="0.9375" stop-color="rgb(196, 47, 51)"/><stop offset="0.9531" stop-color="rgb(196, 47, 51)"/><stop offset="0.9531" stop-color="rgb(193, 38, 48)"/><stop offset="0.9688" stop-color="rgb(193, 38, 48)"/><stop offset="0.9688" stop-color="rgb(189, 28, 44)"/><stop offset="0.9844" stop-color="rgb(189, 28, 44)"/><stop offset="0.9844" stop-color="rgb(183, 16, 40)"/><stop offset="1.0000" stop-color="rgb(183, 16, 40)"/></linearGradient></defs><rect x="626.5" y="567.5" width="17.0" height="205.5" fill="url(#cbc)" stroke="#262626" stroke-width="0.8"/><line x1="643.5" y1="752.45" x2="646.3" y2="752.45" stroke="#262626" stroke-width="1"/><text x="652" y="757.85" style="font-family:'Liberation Sans',sans-serif;font-size:15.3px" fill="#262626">-4</text><line x1="643.5" y1="711.35" x2="646.3" y2="711.35" stroke="#262626" stroke-width="1"/><text x="652" y="716.75" style="font-family:'Liberation Sans',sans-serif;font-size:15.3px" fill="#262626">-2</text><line x1="643.5" y1="670.25" x2="646.3" y2="670.25" stroke="#262626" stroke-width="1"/><text x="652" y="675.65" style="font-family:'Liberation Sans',sans-serif;font-size:15.3px" fill="#262626">0</text><line x1="643.5" y1="629.15" x2="646.3" y2="629.15" stroke="#262626" stroke-width="1"/><text x="652" y="634.55" style="font-family:'Liberation Sans',sans-serif;font-size:15.3px" fill="#262626">2</text><line x1="643.5" y1="588.05" x2="646.3" y2="588.05" stroke="#262626" stroke-width="1"/><text x="652" y="593.45" style="font-family:'Liberation Sans',sans-serif;font-size:15.3px" fill="#262626">4</text><text x="612.2" y="559.1" style="font-family:'Liberation Sans',sans-serif;font-size:15.3px" fill="#000">10<tspan dy="-7.6" style="font-size:11.5px">-4</tspan><tspan dy="7.6">s</tspan><tspan dy="-7.6" style="font-size:11.5px" dx="0.6">-2</tspan></text>
</svg></body></html>
